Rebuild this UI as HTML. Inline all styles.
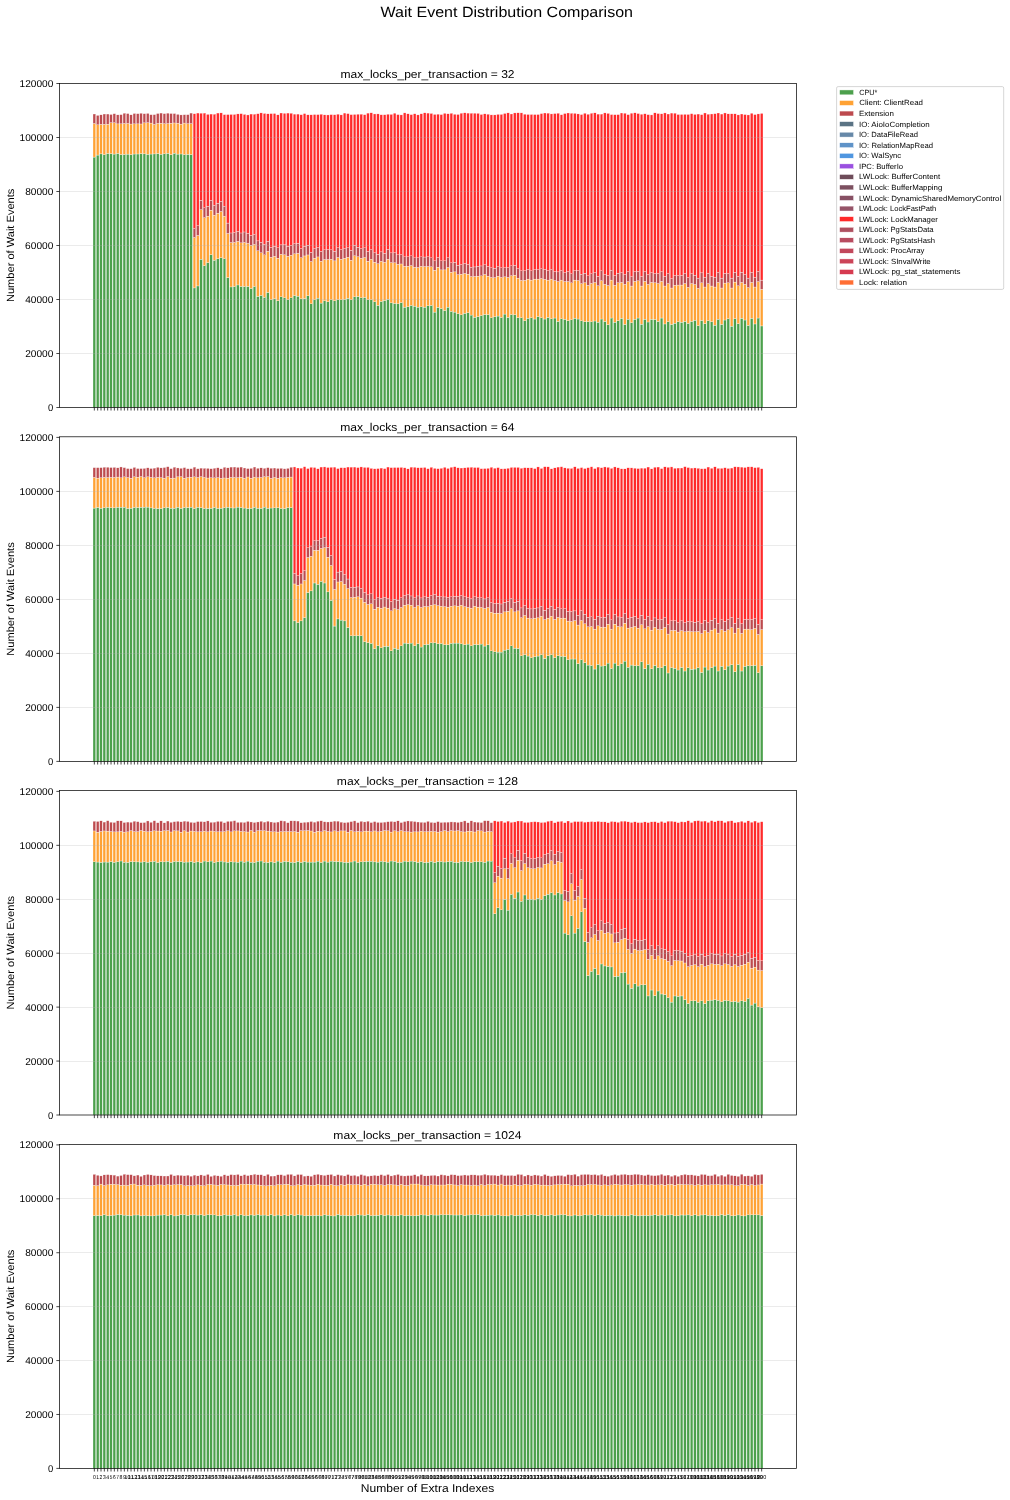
<!DOCTYPE html><html><head><meta charset="utf-8"><style>html,body{margin:0;padding:0;background:#fff;}svg{display:block;will-change:transform;}text{font-family:"Liberation Sans",sans-serif;fill:#000;text-rendering:geometricPrecision;}</style></head><body>
<svg width="1010" height="1500" viewBox="0 0 1010 1500">
<rect x="0" y="0" width="1010" height="1500" fill="#fff"/>
<text x="380.56" y="17.25" font-size="14.82" textLength="252.45" lengthAdjust="spacingAndGlyphs">Wait Event Distribution Comparison</text>
<g stroke="#fff" stroke-width="0.3">
<rect x="93.00" y="157.07" width="2.67" height="250.32" fill="#4ca04c"/>
<rect x="93.00" y="123.46" width="2.67" height="33.62" fill="#ffa234"/>
<rect x="93.00" y="114.01" width="2.67" height="9.45" fill="#bd4a4e"/>
<rect x="96.34" y="155.05" width="2.67" height="252.35" fill="#4ca04c"/>
<rect x="96.34" y="124.81" width="2.67" height="30.24" fill="#ffa234"/>
<rect x="96.34" y="115.36" width="2.67" height="9.45" fill="#bd4a4e"/>
<rect x="99.67" y="153.89" width="2.67" height="253.51" fill="#4ca04c"/>
<rect x="99.67" y="124.34" width="2.67" height="29.55" fill="#ffa234"/>
<rect x="99.67" y="114.83" width="2.67" height="9.51" fill="#bd4a4e"/>
<rect x="103.01" y="154.54" width="2.67" height="252.86" fill="#4ca04c"/>
<rect x="103.01" y="124.25" width="2.67" height="30.30" fill="#ffa234"/>
<rect x="103.01" y="114.02" width="2.67" height="10.23" fill="#bd4a4e"/>
<rect x="106.35" y="153.42" width="2.67" height="253.98" fill="#4ca04c"/>
<rect x="106.35" y="124.19" width="2.67" height="29.23" fill="#ffa234"/>
<rect x="106.35" y="114.04" width="2.67" height="10.15" fill="#bd4a4e"/>
<rect x="109.68" y="153.71" width="2.67" height="253.69" fill="#4ca04c"/>
<rect x="109.68" y="122.74" width="2.67" height="30.97" fill="#ffa234"/>
<rect x="109.68" y="114.47" width="2.67" height="8.27" fill="#bd4a4e"/>
<rect x="113.02" y="154.06" width="2.67" height="253.34" fill="#4ca04c"/>
<rect x="113.02" y="122.69" width="2.67" height="31.36" fill="#ffa234"/>
<rect x="113.02" y="113.71" width="2.67" height="8.98" fill="#bd4a4e"/>
<rect x="116.36" y="153.37" width="2.67" height="254.03" fill="#4ca04c"/>
<rect x="116.36" y="123.90" width="2.67" height="29.47" fill="#ffa234"/>
<rect x="116.36" y="114.85" width="2.67" height="9.04" fill="#bd4a4e"/>
<rect x="119.69" y="154.47" width="2.67" height="252.93" fill="#4ca04c"/>
<rect x="119.69" y="123.86" width="2.67" height="30.61" fill="#ffa234"/>
<rect x="119.69" y="114.64" width="2.67" height="9.22" fill="#bd4a4e"/>
<rect x="123.03" y="154.38" width="2.67" height="253.02" fill="#4ca04c"/>
<rect x="123.03" y="123.38" width="2.67" height="30.99" fill="#ffa234"/>
<rect x="123.03" y="113.19" width="2.67" height="10.19" fill="#bd4a4e"/>
<rect x="126.37" y="154.09" width="2.67" height="253.31" fill="#4ca04c"/>
<rect x="126.37" y="123.44" width="2.67" height="30.65" fill="#ffa234"/>
<rect x="126.37" y="113.57" width="2.67" height="9.87" fill="#bd4a4e"/>
<rect x="129.70" y="154.56" width="2.67" height="252.84" fill="#4ca04c"/>
<rect x="129.70" y="124.04" width="2.67" height="30.51" fill="#ffa234"/>
<rect x="129.70" y="114.82" width="2.67" height="9.22" fill="#bd4a4e"/>
<rect x="133.04" y="154.01" width="2.67" height="253.39" fill="#4ca04c"/>
<rect x="133.04" y="123.85" width="2.67" height="30.16" fill="#ffa234"/>
<rect x="133.04" y="113.49" width="2.67" height="10.37" fill="#bd4a4e"/>
<rect x="136.38" y="153.97" width="2.67" height="253.43" fill="#4ca04c"/>
<rect x="136.38" y="123.88" width="2.67" height="30.09" fill="#ffa234"/>
<rect x="136.38" y="113.69" width="2.67" height="10.19" fill="#bd4a4e"/>
<rect x="139.71" y="153.61" width="2.67" height="253.79" fill="#4ca04c"/>
<rect x="139.71" y="123.98" width="2.67" height="29.63" fill="#ffa234"/>
<rect x="139.71" y="113.24" width="2.67" height="10.74" fill="#bd4a4e"/>
<rect x="143.05" y="153.87" width="2.67" height="253.53" fill="#4ca04c"/>
<rect x="143.05" y="122.87" width="2.67" height="31.00" fill="#ffa234"/>
<rect x="143.05" y="113.71" width="2.67" height="9.15" fill="#bd4a4e"/>
<rect x="146.39" y="154.22" width="2.67" height="253.18" fill="#4ca04c"/>
<rect x="146.39" y="122.68" width="2.67" height="31.53" fill="#ffa234"/>
<rect x="146.39" y="113.38" width="2.67" height="9.31" fill="#bd4a4e"/>
<rect x="149.72" y="154.02" width="2.67" height="253.38" fill="#4ca04c"/>
<rect x="149.72" y="123.08" width="2.67" height="30.95" fill="#ffa234"/>
<rect x="149.72" y="114.70" width="2.67" height="8.38" fill="#bd4a4e"/>
<rect x="153.06" y="153.92" width="2.67" height="253.48" fill="#4ca04c"/>
<rect x="153.06" y="124.34" width="2.67" height="29.58" fill="#ffa234"/>
<rect x="153.06" y="114.63" width="2.67" height="9.71" fill="#bd4a4e"/>
<rect x="156.40" y="153.51" width="2.67" height="253.89" fill="#4ca04c"/>
<rect x="156.40" y="123.40" width="2.67" height="30.11" fill="#ffa234"/>
<rect x="156.40" y="113.51" width="2.67" height="9.89" fill="#bd4a4e"/>
<rect x="159.73" y="154.18" width="2.67" height="253.22" fill="#4ca04c"/>
<rect x="159.73" y="123.18" width="2.67" height="30.99" fill="#ffa234"/>
<rect x="159.73" y="113.06" width="2.67" height="10.12" fill="#bd4a4e"/>
<rect x="163.07" y="153.78" width="2.67" height="253.62" fill="#4ca04c"/>
<rect x="163.07" y="123.60" width="2.67" height="30.18" fill="#ffa234"/>
<rect x="163.07" y="113.67" width="2.67" height="9.93" fill="#bd4a4e"/>
<rect x="166.41" y="153.24" width="2.67" height="254.16" fill="#4ca04c"/>
<rect x="166.41" y="123.57" width="2.67" height="29.67" fill="#ffa234"/>
<rect x="166.41" y="113.14" width="2.67" height="10.43" fill="#bd4a4e"/>
<rect x="169.74" y="154.55" width="2.67" height="252.85" fill="#4ca04c"/>
<rect x="169.74" y="123.17" width="2.67" height="31.38" fill="#ffa234"/>
<rect x="169.74" y="113.52" width="2.67" height="9.65" fill="#bd4a4e"/>
<rect x="173.08" y="153.17" width="2.67" height="254.23" fill="#4ca04c"/>
<rect x="173.08" y="122.96" width="2.67" height="30.21" fill="#ffa234"/>
<rect x="173.08" y="113.56" width="2.67" height="9.41" fill="#bd4a4e"/>
<rect x="176.42" y="154.07" width="2.67" height="253.33" fill="#4ca04c"/>
<rect x="176.42" y="123.23" width="2.67" height="30.84" fill="#ffa234"/>
<rect x="176.42" y="114.34" width="2.67" height="8.89" fill="#bd4a4e"/>
<rect x="179.75" y="153.96" width="2.67" height="253.44" fill="#4ca04c"/>
<rect x="179.75" y="124.11" width="2.67" height="29.85" fill="#ffa234"/>
<rect x="179.75" y="114.91" width="2.67" height="9.20" fill="#bd4a4e"/>
<rect x="183.09" y="154.56" width="2.67" height="252.84" fill="#4ca04c"/>
<rect x="183.09" y="123.06" width="2.67" height="31.50" fill="#ffa234"/>
<rect x="183.09" y="114.70" width="2.67" height="8.35" fill="#bd4a4e"/>
<rect x="186.43" y="154.28" width="2.67" height="253.12" fill="#4ca04c"/>
<rect x="186.43" y="123.72" width="2.67" height="30.56" fill="#ffa234"/>
<rect x="186.43" y="114.68" width="2.67" height="9.04" fill="#bd4a4e"/>
<rect x="189.76" y="154.53" width="2.67" height="252.87" fill="#4ca04c"/>
<rect x="189.76" y="123.62" width="2.67" height="30.91" fill="#ffa234"/>
<rect x="189.76" y="113.07" width="2.67" height="10.54" fill="#bd4a4e"/>
<rect x="193.10" y="287.92" width="2.67" height="119.48" fill="#4ca04c"/>
<rect x="193.10" y="237.43" width="2.67" height="50.50" fill="#ffa234"/>
<rect x="193.10" y="228.51" width="2.67" height="8.91" fill="#bd4a4e"/>
<rect x="193.10" y="113.77" width="2.67" height="114.75" fill="#ff2a2a"/>
<rect x="196.44" y="285.94" width="2.67" height="121.46" fill="#4ca04c"/>
<rect x="196.44" y="235.45" width="2.67" height="50.50" fill="#ffa234"/>
<rect x="196.44" y="225.74" width="2.67" height="9.70" fill="#bd4a4e"/>
<rect x="196.44" y="113.05" width="2.67" height="112.70" fill="#ff2a2a"/>
<rect x="199.77" y="259.21" width="2.67" height="148.19" fill="#4ca04c"/>
<rect x="199.77" y="209.70" width="2.67" height="49.50" fill="#ffa234"/>
<rect x="199.77" y="200.30" width="2.67" height="9.41" fill="#bd4a4e"/>
<rect x="199.77" y="113.19" width="2.67" height="87.11" fill="#ff2a2a"/>
<rect x="203.11" y="265.64" width="2.67" height="141.76" fill="#4ca04c"/>
<rect x="203.11" y="217.62" width="2.67" height="48.02" fill="#ffa234"/>
<rect x="203.11" y="207.72" width="2.67" height="9.90" fill="#bd4a4e"/>
<rect x="203.11" y="113.09" width="2.67" height="94.63" fill="#ff2a2a"/>
<rect x="206.45" y="262.67" width="2.67" height="144.73" fill="#4ca04c"/>
<rect x="206.45" y="216.14" width="2.67" height="46.53" fill="#ffa234"/>
<rect x="206.45" y="206.24" width="2.67" height="9.90" fill="#bd4a4e"/>
<rect x="206.45" y="114.35" width="2.67" height="91.88" fill="#ff2a2a"/>
<rect x="209.78" y="254.75" width="2.67" height="152.65" fill="#4ca04c"/>
<rect x="209.78" y="210.20" width="2.67" height="44.55" fill="#ffa234"/>
<rect x="209.78" y="200.30" width="2.67" height="9.90" fill="#bd4a4e"/>
<rect x="209.78" y="114.06" width="2.67" height="86.24" fill="#ff2a2a"/>
<rect x="213.12" y="260.20" width="2.67" height="147.20" fill="#4ca04c"/>
<rect x="213.12" y="215.15" width="2.67" height="45.05" fill="#ffa234"/>
<rect x="213.12" y="205.25" width="2.67" height="9.90" fill="#bd4a4e"/>
<rect x="213.12" y="114.18" width="2.67" height="91.07" fill="#ff2a2a"/>
<rect x="216.46" y="258.71" width="2.67" height="148.69" fill="#4ca04c"/>
<rect x="216.46" y="213.17" width="2.67" height="45.54" fill="#ffa234"/>
<rect x="216.46" y="203.27" width="2.67" height="9.90" fill="#bd4a4e"/>
<rect x="216.46" y="113.05" width="2.67" height="90.22" fill="#ff2a2a"/>
<rect x="219.79" y="257.72" width="2.67" height="149.68" fill="#4ca04c"/>
<rect x="219.79" y="211.49" width="2.67" height="46.24" fill="#ffa234"/>
<rect x="219.79" y="201.29" width="2.67" height="10.20" fill="#bd4a4e"/>
<rect x="219.79" y="112.89" width="2.67" height="88.40" fill="#ff2a2a"/>
<rect x="223.13" y="258.71" width="2.67" height="148.69" fill="#4ca04c"/>
<rect x="223.13" y="216.14" width="2.67" height="42.57" fill="#ffa234"/>
<rect x="223.13" y="206.24" width="2.67" height="9.90" fill="#bd4a4e"/>
<rect x="223.13" y="114.63" width="2.67" height="91.61" fill="#ff2a2a"/>
<rect x="226.47" y="277.52" width="2.67" height="129.88" fill="#4ca04c"/>
<rect x="226.47" y="233.47" width="2.67" height="44.06" fill="#ffa234"/>
<rect x="226.47" y="223.07" width="2.67" height="10.40" fill="#bd4a4e"/>
<rect x="226.47" y="114.57" width="2.67" height="108.49" fill="#ff2a2a"/>
<rect x="229.80" y="286.93" width="2.67" height="120.47" fill="#4ca04c"/>
<rect x="229.80" y="242.57" width="2.67" height="44.36" fill="#ffa234"/>
<rect x="229.80" y="232.97" width="2.67" height="9.60" fill="#bd4a4e"/>
<rect x="229.80" y="114.45" width="2.67" height="118.52" fill="#ff2a2a"/>
<rect x="233.14" y="286.44" width="2.67" height="120.96" fill="#4ca04c"/>
<rect x="233.14" y="242.38" width="2.67" height="44.06" fill="#ffa234"/>
<rect x="233.14" y="232.48" width="2.67" height="9.90" fill="#bd4a4e"/>
<rect x="233.14" y="114.45" width="2.67" height="118.02" fill="#ff2a2a"/>
<rect x="236.48" y="284.95" width="2.67" height="122.45" fill="#4ca04c"/>
<rect x="236.48" y="241.39" width="2.67" height="43.56" fill="#ffa234"/>
<rect x="236.48" y="231.49" width="2.67" height="9.90" fill="#bd4a4e"/>
<rect x="236.48" y="113.91" width="2.67" height="117.58" fill="#ff2a2a"/>
<rect x="239.81" y="286.44" width="2.67" height="120.96" fill="#4ca04c"/>
<rect x="239.81" y="242.87" width="2.67" height="43.56" fill="#ffa234"/>
<rect x="239.81" y="232.97" width="2.67" height="9.90" fill="#bd4a4e"/>
<rect x="239.81" y="113.68" width="2.67" height="119.29" fill="#ff2a2a"/>
<rect x="243.15" y="286.44" width="2.67" height="120.96" fill="#4ca04c"/>
<rect x="243.15" y="242.38" width="2.67" height="44.06" fill="#ffa234"/>
<rect x="243.15" y="231.98" width="2.67" height="10.40" fill="#bd4a4e"/>
<rect x="243.15" y="114.39" width="2.67" height="117.59" fill="#ff2a2a"/>
<rect x="246.49" y="286.44" width="2.67" height="120.96" fill="#4ca04c"/>
<rect x="246.49" y="243.37" width="2.67" height="43.07" fill="#ffa234"/>
<rect x="246.49" y="233.47" width="2.67" height="9.90" fill="#bd4a4e"/>
<rect x="246.49" y="114.95" width="2.67" height="118.52" fill="#ff2a2a"/>
<rect x="249.82" y="288.42" width="2.67" height="118.98" fill="#4ca04c"/>
<rect x="249.82" y="245.35" width="2.67" height="43.07" fill="#ffa234"/>
<rect x="249.82" y="235.45" width="2.67" height="9.90" fill="#bd4a4e"/>
<rect x="249.82" y="114.05" width="2.67" height="121.40" fill="#ff2a2a"/>
<rect x="253.16" y="286.44" width="2.67" height="120.96" fill="#4ca04c"/>
<rect x="253.16" y="244.36" width="2.67" height="42.08" fill="#ffa234"/>
<rect x="253.16" y="234.46" width="2.67" height="9.90" fill="#bd4a4e"/>
<rect x="253.16" y="114.16" width="2.67" height="120.30" fill="#ff2a2a"/>
<rect x="256.50" y="296.34" width="2.67" height="111.06" fill="#4ca04c"/>
<rect x="256.50" y="250.79" width="2.67" height="45.54" fill="#ffa234"/>
<rect x="256.50" y="240.89" width="2.67" height="9.90" fill="#bd4a4e"/>
<rect x="256.50" y="113.73" width="2.67" height="127.16" fill="#ff2a2a"/>
<rect x="259.83" y="295.35" width="2.67" height="112.05" fill="#4ca04c"/>
<rect x="259.83" y="252.77" width="2.67" height="42.57" fill="#ffa234"/>
<rect x="259.83" y="242.38" width="2.67" height="10.40" fill="#bd4a4e"/>
<rect x="259.83" y="112.90" width="2.67" height="129.48" fill="#ff2a2a"/>
<rect x="263.17" y="297.33" width="2.67" height="110.07" fill="#4ca04c"/>
<rect x="263.17" y="254.75" width="2.67" height="42.57" fill="#ffa234"/>
<rect x="263.17" y="244.36" width="2.67" height="10.40" fill="#bd4a4e"/>
<rect x="263.17" y="113.46" width="2.67" height="130.89" fill="#ff2a2a"/>
<rect x="266.51" y="292.38" width="2.67" height="115.02" fill="#4ca04c"/>
<rect x="266.51" y="251.29" width="2.67" height="41.09" fill="#ffa234"/>
<rect x="266.51" y="241.39" width="2.67" height="9.90" fill="#bd4a4e"/>
<rect x="266.51" y="113.84" width="2.67" height="127.54" fill="#ff2a2a"/>
<rect x="269.84" y="299.73" width="2.67" height="107.67" fill="#4ca04c"/>
<rect x="269.84" y="257.23" width="2.67" height="42.50" fill="#ffa234"/>
<rect x="269.84" y="247.33" width="2.67" height="9.90" fill="#bd4a4e"/>
<rect x="269.84" y="113.62" width="2.67" height="133.71" fill="#ff2a2a"/>
<rect x="273.18" y="298.74" width="2.67" height="108.66" fill="#4ca04c"/>
<rect x="273.18" y="256.24" width="2.67" height="42.50" fill="#ffa234"/>
<rect x="273.18" y="246.34" width="2.67" height="9.90" fill="#bd4a4e"/>
<rect x="273.18" y="113.49" width="2.67" height="132.84" fill="#ff2a2a"/>
<rect x="276.52" y="300.72" width="2.67" height="106.68" fill="#4ca04c"/>
<rect x="276.52" y="258.22" width="2.67" height="42.50" fill="#ffa234"/>
<rect x="276.52" y="247.82" width="2.67" height="10.40" fill="#bd4a4e"/>
<rect x="276.52" y="114.84" width="2.67" height="132.98" fill="#ff2a2a"/>
<rect x="279.85" y="296.83" width="2.67" height="110.57" fill="#4ca04c"/>
<rect x="279.85" y="254.26" width="2.67" height="42.57" fill="#ffa234"/>
<rect x="279.85" y="244.85" width="2.67" height="9.41" fill="#bd4a4e"/>
<rect x="279.85" y="113.01" width="2.67" height="131.84" fill="#ff2a2a"/>
<rect x="283.19" y="297.82" width="2.67" height="109.58" fill="#4ca04c"/>
<rect x="283.19" y="254.75" width="2.67" height="43.07" fill="#ffa234"/>
<rect x="283.19" y="244.85" width="2.67" height="9.90" fill="#bd4a4e"/>
<rect x="283.19" y="113.27" width="2.67" height="131.58" fill="#ff2a2a"/>
<rect x="286.53" y="299.80" width="2.67" height="107.60" fill="#4ca04c"/>
<rect x="286.53" y="256.24" width="2.67" height="43.56" fill="#ffa234"/>
<rect x="286.53" y="246.34" width="2.67" height="9.90" fill="#bd4a4e"/>
<rect x="286.53" y="113.07" width="2.67" height="133.27" fill="#ff2a2a"/>
<rect x="289.86" y="297.82" width="2.67" height="109.58" fill="#4ca04c"/>
<rect x="289.86" y="255.25" width="2.67" height="42.57" fill="#ffa234"/>
<rect x="289.86" y="245.64" width="2.67" height="9.60" fill="#bd4a4e"/>
<rect x="289.86" y="113.23" width="2.67" height="132.41" fill="#ff2a2a"/>
<rect x="293.20" y="295.54" width="2.67" height="111.86" fill="#4ca04c"/>
<rect x="293.20" y="253.76" width="2.67" height="41.78" fill="#ffa234"/>
<rect x="293.20" y="243.66" width="2.67" height="10.10" fill="#bd4a4e"/>
<rect x="293.20" y="114.11" width="2.67" height="129.56" fill="#ff2a2a"/>
<rect x="296.54" y="296.14" width="2.67" height="111.26" fill="#4ca04c"/>
<rect x="296.54" y="253.27" width="2.67" height="42.87" fill="#ffa234"/>
<rect x="296.54" y="243.37" width="2.67" height="9.90" fill="#bd4a4e"/>
<rect x="296.54" y="114.09" width="2.67" height="129.27" fill="#ff2a2a"/>
<rect x="299.87" y="298.81" width="2.67" height="108.59" fill="#4ca04c"/>
<rect x="299.87" y="257.72" width="2.67" height="41.09" fill="#ffa234"/>
<rect x="299.87" y="248.61" width="2.67" height="9.11" fill="#bd4a4e"/>
<rect x="299.87" y="114.73" width="2.67" height="133.88" fill="#ff2a2a"/>
<rect x="303.21" y="298.51" width="2.67" height="108.89" fill="#4ca04c"/>
<rect x="303.21" y="255.94" width="2.67" height="42.57" fill="#ffa234"/>
<rect x="303.21" y="246.34" width="2.67" height="9.60" fill="#bd4a4e"/>
<rect x="303.21" y="113.58" width="2.67" height="132.75" fill="#ff2a2a"/>
<rect x="306.55" y="295.84" width="2.67" height="111.56" fill="#4ca04c"/>
<rect x="306.55" y="254.95" width="2.67" height="40.89" fill="#ffa234"/>
<rect x="306.55" y="245.35" width="2.67" height="9.60" fill="#bd4a4e"/>
<rect x="306.55" y="114.82" width="2.67" height="130.53" fill="#ff2a2a"/>
<rect x="309.88" y="303.76" width="2.67" height="103.64" fill="#4ca04c"/>
<rect x="309.88" y="261.49" width="2.67" height="42.28" fill="#ffa234"/>
<rect x="309.88" y="252.28" width="2.67" height="9.21" fill="#bd4a4e"/>
<rect x="309.88" y="114.81" width="2.67" height="137.47" fill="#ff2a2a"/>
<rect x="313.22" y="299.80" width="2.67" height="107.60" fill="#4ca04c"/>
<rect x="313.22" y="258.22" width="2.67" height="41.58" fill="#ffa234"/>
<rect x="313.22" y="248.61" width="2.67" height="9.60" fill="#bd4a4e"/>
<rect x="313.22" y="114.50" width="2.67" height="134.11" fill="#ff2a2a"/>
<rect x="316.56" y="298.12" width="2.67" height="109.28" fill="#4ca04c"/>
<rect x="316.56" y="256.93" width="2.67" height="41.19" fill="#ffa234"/>
<rect x="316.56" y="247.62" width="2.67" height="9.31" fill="#bd4a4e"/>
<rect x="316.56" y="114.60" width="2.67" height="133.02" fill="#ff2a2a"/>
<rect x="319.89" y="303.07" width="2.67" height="104.33" fill="#4ca04c"/>
<rect x="319.89" y="261.19" width="2.67" height="41.88" fill="#ffa234"/>
<rect x="319.89" y="251.29" width="2.67" height="9.90" fill="#bd4a4e"/>
<rect x="319.89" y="114.22" width="2.67" height="137.07" fill="#ff2a2a"/>
<rect x="323.23" y="300.79" width="2.67" height="106.61" fill="#4ca04c"/>
<rect x="323.23" y="259.50" width="2.67" height="41.29" fill="#ffa234"/>
<rect x="323.23" y="249.80" width="2.67" height="9.70" fill="#bd4a4e"/>
<rect x="323.23" y="114.84" width="2.67" height="134.96" fill="#ff2a2a"/>
<rect x="326.57" y="301.78" width="2.67" height="105.62" fill="#4ca04c"/>
<rect x="326.57" y="259.50" width="2.67" height="42.28" fill="#ffa234"/>
<rect x="326.57" y="249.60" width="2.67" height="9.90" fill="#bd4a4e"/>
<rect x="326.57" y="114.95" width="2.67" height="134.65" fill="#ff2a2a"/>
<rect x="329.90" y="299.80" width="2.67" height="107.60" fill="#4ca04c"/>
<rect x="329.90" y="259.21" width="2.67" height="40.59" fill="#ffa234"/>
<rect x="329.90" y="249.80" width="2.67" height="9.41" fill="#bd4a4e"/>
<rect x="329.90" y="114.63" width="2.67" height="135.17" fill="#ff2a2a"/>
<rect x="333.24" y="300.79" width="2.67" height="106.61" fill="#4ca04c"/>
<rect x="333.24" y="260.89" width="2.67" height="39.90" fill="#ffa234"/>
<rect x="333.24" y="251.29" width="2.67" height="9.60" fill="#bd4a4e"/>
<rect x="333.24" y="114.74" width="2.67" height="136.55" fill="#ff2a2a"/>
<rect x="336.58" y="299.80" width="2.67" height="107.60" fill="#4ca04c"/>
<rect x="336.58" y="257.52" width="2.67" height="42.28" fill="#ffa234"/>
<rect x="336.58" y="247.82" width="2.67" height="9.70" fill="#bd4a4e"/>
<rect x="336.58" y="114.17" width="2.67" height="133.65" fill="#ff2a2a"/>
<rect x="339.91" y="299.80" width="2.67" height="107.60" fill="#4ca04c"/>
<rect x="339.91" y="259.21" width="2.67" height="40.59" fill="#ffa234"/>
<rect x="339.91" y="249.60" width="2.67" height="9.60" fill="#bd4a4e"/>
<rect x="339.91" y="114.90" width="2.67" height="134.70" fill="#ff2a2a"/>
<rect x="343.25" y="299.31" width="2.67" height="108.09" fill="#4ca04c"/>
<rect x="343.25" y="258.22" width="2.67" height="41.09" fill="#ffa234"/>
<rect x="343.25" y="248.61" width="2.67" height="9.60" fill="#bd4a4e"/>
<rect x="343.25" y="113.07" width="2.67" height="135.55" fill="#ff2a2a"/>
<rect x="346.59" y="298.32" width="2.67" height="109.08" fill="#4ca04c"/>
<rect x="346.59" y="257.23" width="2.67" height="41.09" fill="#ffa234"/>
<rect x="346.59" y="247.82" width="2.67" height="9.41" fill="#bd4a4e"/>
<rect x="346.59" y="113.63" width="2.67" height="134.19" fill="#ff2a2a"/>
<rect x="349.92" y="299.80" width="2.67" height="107.60" fill="#4ca04c"/>
<rect x="349.92" y="260.20" width="2.67" height="39.60" fill="#ffa234"/>
<rect x="349.92" y="250.30" width="2.67" height="9.90" fill="#bd4a4e"/>
<rect x="349.92" y="114.63" width="2.67" height="135.66" fill="#ff2a2a"/>
<rect x="353.26" y="296.83" width="2.67" height="110.57" fill="#4ca04c"/>
<rect x="353.26" y="255.74" width="2.67" height="41.09" fill="#ffa234"/>
<rect x="353.26" y="245.35" width="2.67" height="10.40" fill="#bd4a4e"/>
<rect x="353.26" y="114.41" width="2.67" height="130.94" fill="#ff2a2a"/>
<rect x="356.60" y="296.53" width="2.67" height="110.87" fill="#4ca04c"/>
<rect x="356.60" y="256.73" width="2.67" height="39.80" fill="#ffa234"/>
<rect x="356.60" y="247.33" width="2.67" height="9.41" fill="#bd4a4e"/>
<rect x="356.60" y="114.20" width="2.67" height="133.12" fill="#ff2a2a"/>
<rect x="359.93" y="297.82" width="2.67" height="109.58" fill="#4ca04c"/>
<rect x="359.93" y="258.22" width="2.67" height="39.60" fill="#ffa234"/>
<rect x="359.93" y="248.61" width="2.67" height="9.60" fill="#bd4a4e"/>
<rect x="359.93" y="114.17" width="2.67" height="134.45" fill="#ff2a2a"/>
<rect x="363.27" y="297.33" width="2.67" height="110.07" fill="#4ca04c"/>
<rect x="363.27" y="257.52" width="2.67" height="39.80" fill="#ffa234"/>
<rect x="363.27" y="247.82" width="2.67" height="9.70" fill="#bd4a4e"/>
<rect x="363.27" y="114.69" width="2.67" height="133.13" fill="#ff2a2a"/>
<rect x="366.61" y="299.80" width="2.67" height="107.60" fill="#4ca04c"/>
<rect x="366.61" y="261.19" width="2.67" height="38.61" fill="#ffa234"/>
<rect x="366.61" y="251.58" width="2.67" height="9.60" fill="#bd4a4e"/>
<rect x="366.61" y="113.12" width="2.67" height="138.46" fill="#ff2a2a"/>
<rect x="369.94" y="299.80" width="2.67" height="107.60" fill="#4ca04c"/>
<rect x="369.94" y="259.21" width="2.67" height="40.59" fill="#ffa234"/>
<rect x="369.94" y="249.60" width="2.67" height="9.60" fill="#bd4a4e"/>
<rect x="369.94" y="112.81" width="2.67" height="136.79" fill="#ff2a2a"/>
<rect x="373.28" y="301.78" width="2.67" height="105.62" fill="#4ca04c"/>
<rect x="373.28" y="262.18" width="2.67" height="39.60" fill="#ffa234"/>
<rect x="373.28" y="252.77" width="2.67" height="9.41" fill="#bd4a4e"/>
<rect x="373.28" y="113.95" width="2.67" height="138.82" fill="#ff2a2a"/>
<rect x="376.62" y="305.35" width="2.67" height="102.05" fill="#4ca04c"/>
<rect x="376.62" y="263.76" width="2.67" height="41.58" fill="#ffa234"/>
<rect x="376.62" y="254.36" width="2.67" height="9.41" fill="#bd4a4e"/>
<rect x="376.62" y="113.91" width="2.67" height="140.45" fill="#ff2a2a"/>
<rect x="379.95" y="301.39" width="2.67" height="106.01" fill="#4ca04c"/>
<rect x="379.95" y="261.29" width="2.67" height="40.10" fill="#ffa234"/>
<rect x="379.95" y="251.88" width="2.67" height="9.41" fill="#bd4a4e"/>
<rect x="379.95" y="114.77" width="2.67" height="137.11" fill="#ff2a2a"/>
<rect x="383.29" y="300.40" width="2.67" height="107.00" fill="#4ca04c"/>
<rect x="383.29" y="262.28" width="2.67" height="38.12" fill="#ffa234"/>
<rect x="383.29" y="253.37" width="2.67" height="8.91" fill="#bd4a4e"/>
<rect x="383.29" y="114.73" width="2.67" height="138.63" fill="#ff2a2a"/>
<rect x="386.63" y="299.21" width="2.67" height="108.19" fill="#4ca04c"/>
<rect x="386.63" y="259.31" width="2.67" height="39.90" fill="#ffa234"/>
<rect x="386.63" y="249.41" width="2.67" height="9.90" fill="#bd4a4e"/>
<rect x="386.63" y="114.21" width="2.67" height="135.19" fill="#ff2a2a"/>
<rect x="389.96" y="302.87" width="2.67" height="104.53" fill="#4ca04c"/>
<rect x="389.96" y="262.57" width="2.67" height="40.30" fill="#ffa234"/>
<rect x="389.96" y="252.87" width="2.67" height="9.70" fill="#bd4a4e"/>
<rect x="389.96" y="114.38" width="2.67" height="138.49" fill="#ff2a2a"/>
<rect x="393.30" y="303.37" width="2.67" height="104.03" fill="#4ca04c"/>
<rect x="393.30" y="262.77" width="2.67" height="40.59" fill="#ffa234"/>
<rect x="393.30" y="252.67" width="2.67" height="10.10" fill="#bd4a4e"/>
<rect x="393.30" y="113.16" width="2.67" height="139.51" fill="#ff2a2a"/>
<rect x="396.64" y="303.86" width="2.67" height="103.54" fill="#4ca04c"/>
<rect x="396.64" y="264.26" width="2.67" height="39.60" fill="#ffa234"/>
<rect x="396.64" y="254.85" width="2.67" height="9.41" fill="#bd4a4e"/>
<rect x="396.64" y="114.61" width="2.67" height="140.25" fill="#ff2a2a"/>
<rect x="399.97" y="302.57" width="2.67" height="104.83" fill="#4ca04c"/>
<rect x="399.97" y="263.96" width="2.67" height="38.61" fill="#ffa234"/>
<rect x="399.97" y="254.65" width="2.67" height="9.31" fill="#bd4a4e"/>
<rect x="399.97" y="114.91" width="2.67" height="139.75" fill="#ff2a2a"/>
<rect x="403.31" y="307.13" width="2.67" height="100.27" fill="#4ca04c"/>
<rect x="403.31" y="266.24" width="2.67" height="40.89" fill="#ffa234"/>
<rect x="403.31" y="256.83" width="2.67" height="9.41" fill="#bd4a4e"/>
<rect x="403.31" y="112.90" width="2.67" height="143.93" fill="#ff2a2a"/>
<rect x="406.65" y="306.83" width="2.67" height="100.57" fill="#4ca04c"/>
<rect x="406.65" y="266.24" width="2.67" height="40.59" fill="#ffa234"/>
<rect x="406.65" y="256.83" width="2.67" height="9.41" fill="#bd4a4e"/>
<rect x="406.65" y="113.81" width="2.67" height="143.02" fill="#ff2a2a"/>
<rect x="409.98" y="305.35" width="2.67" height="102.05" fill="#4ca04c"/>
<rect x="409.98" y="265.54" width="2.67" height="39.80" fill="#ffa234"/>
<rect x="409.98" y="255.84" width="2.67" height="9.70" fill="#bd4a4e"/>
<rect x="409.98" y="114.64" width="2.67" height="141.20" fill="#ff2a2a"/>
<rect x="413.32" y="306.14" width="2.67" height="101.26" fill="#4ca04c"/>
<rect x="413.32" y="267.23" width="2.67" height="38.91" fill="#ffa234"/>
<rect x="413.32" y="257.82" width="2.67" height="9.41" fill="#bd4a4e"/>
<rect x="413.32" y="113.78" width="2.67" height="144.04" fill="#ff2a2a"/>
<rect x="416.66" y="307.13" width="2.67" height="100.27" fill="#4ca04c"/>
<rect x="416.66" y="267.52" width="2.67" height="39.60" fill="#ffa234"/>
<rect x="416.66" y="257.82" width="2.67" height="9.70" fill="#bd4a4e"/>
<rect x="416.66" y="114.90" width="2.67" height="142.93" fill="#ff2a2a"/>
<rect x="419.99" y="306.83" width="2.67" height="100.57" fill="#4ca04c"/>
<rect x="419.99" y="266.24" width="2.67" height="40.59" fill="#ffa234"/>
<rect x="419.99" y="256.83" width="2.67" height="9.41" fill="#bd4a4e"/>
<rect x="419.99" y="113.81" width="2.67" height="143.02" fill="#ff2a2a"/>
<rect x="423.33" y="307.13" width="2.67" height="100.27" fill="#4ca04c"/>
<rect x="423.33" y="266.53" width="2.67" height="40.59" fill="#ffa234"/>
<rect x="423.33" y="257.03" width="2.67" height="9.50" fill="#bd4a4e"/>
<rect x="423.33" y="112.84" width="2.67" height="144.19" fill="#ff2a2a"/>
<rect x="426.67" y="305.84" width="2.67" height="101.56" fill="#4ca04c"/>
<rect x="426.67" y="266.53" width="2.67" height="39.31" fill="#ffa234"/>
<rect x="426.67" y="256.83" width="2.67" height="9.70" fill="#bd4a4e"/>
<rect x="426.67" y="113.09" width="2.67" height="143.74" fill="#ff2a2a"/>
<rect x="430.00" y="305.35" width="2.67" height="102.05" fill="#4ca04c"/>
<rect x="430.00" y="266.73" width="2.67" height="38.61" fill="#ffa234"/>
<rect x="430.00" y="257.82" width="2.67" height="8.91" fill="#bd4a4e"/>
<rect x="430.00" y="113.45" width="2.67" height="144.37" fill="#ff2a2a"/>
<rect x="433.34" y="312.08" width="2.67" height="95.32" fill="#4ca04c"/>
<rect x="433.34" y="270.20" width="2.67" height="41.88" fill="#ffa234"/>
<rect x="433.34" y="260.79" width="2.67" height="9.41" fill="#bd4a4e"/>
<rect x="433.34" y="114.39" width="2.67" height="146.40" fill="#ff2a2a"/>
<rect x="436.68" y="307.33" width="2.67" height="100.07" fill="#4ca04c"/>
<rect x="436.68" y="267.23" width="2.67" height="40.10" fill="#ffa234"/>
<rect x="436.68" y="257.62" width="2.67" height="9.60" fill="#bd4a4e"/>
<rect x="436.68" y="114.16" width="2.67" height="143.46" fill="#ff2a2a"/>
<rect x="440.01" y="308.51" width="2.67" height="98.89" fill="#4ca04c"/>
<rect x="440.01" y="269.90" width="2.67" height="38.61" fill="#ffa234"/>
<rect x="440.01" y="260.79" width="2.67" height="9.11" fill="#bd4a4e"/>
<rect x="440.01" y="114.59" width="2.67" height="146.20" fill="#ff2a2a"/>
<rect x="443.35" y="310.50" width="2.67" height="96.90" fill="#4ca04c"/>
<rect x="443.35" y="269.90" width="2.67" height="40.59" fill="#ffa234"/>
<rect x="443.35" y="260.79" width="2.67" height="9.11" fill="#bd4a4e"/>
<rect x="443.35" y="113.29" width="2.67" height="147.50" fill="#ff2a2a"/>
<rect x="446.69" y="307.13" width="2.67" height="100.27" fill="#4ca04c"/>
<rect x="446.69" y="267.52" width="2.67" height="39.60" fill="#ffa234"/>
<rect x="446.69" y="257.82" width="2.67" height="9.70" fill="#bd4a4e"/>
<rect x="446.69" y="113.80" width="2.67" height="144.02" fill="#ff2a2a"/>
<rect x="450.02" y="311.29" width="2.67" height="96.11" fill="#4ca04c"/>
<rect x="450.02" y="272.18" width="2.67" height="39.11" fill="#ffa234"/>
<rect x="450.02" y="262.77" width="2.67" height="9.41" fill="#bd4a4e"/>
<rect x="450.02" y="113.27" width="2.67" height="149.50" fill="#ff2a2a"/>
<rect x="453.36" y="312.08" width="2.67" height="95.32" fill="#4ca04c"/>
<rect x="453.36" y="271.88" width="2.67" height="40.20" fill="#ffa234"/>
<rect x="453.36" y="262.28" width="2.67" height="9.60" fill="#bd4a4e"/>
<rect x="453.36" y="114.24" width="2.67" height="148.03" fill="#ff2a2a"/>
<rect x="456.70" y="313.76" width="2.67" height="93.64" fill="#4ca04c"/>
<rect x="456.70" y="274.65" width="2.67" height="39.11" fill="#ffa234"/>
<rect x="456.70" y="265.25" width="2.67" height="9.41" fill="#bd4a4e"/>
<rect x="456.70" y="114.47" width="2.67" height="150.77" fill="#ff2a2a"/>
<rect x="460.03" y="314.75" width="2.67" height="92.65" fill="#4ca04c"/>
<rect x="460.03" y="274.16" width="2.67" height="40.59" fill="#ffa234"/>
<rect x="460.03" y="264.55" width="2.67" height="9.60" fill="#bd4a4e"/>
<rect x="460.03" y="113.20" width="2.67" height="151.35" fill="#ff2a2a"/>
<rect x="463.37" y="313.27" width="2.67" height="94.13" fill="#4ca04c"/>
<rect x="463.37" y="273.47" width="2.67" height="39.80" fill="#ffa234"/>
<rect x="463.37" y="263.56" width="2.67" height="9.90" fill="#bd4a4e"/>
<rect x="463.37" y="112.83" width="2.67" height="150.74" fill="#ff2a2a"/>
<rect x="466.71" y="312.77" width="2.67" height="94.63" fill="#4ca04c"/>
<rect x="466.71" y="274.16" width="2.67" height="38.61" fill="#ffa234"/>
<rect x="466.71" y="264.55" width="2.67" height="9.60" fill="#bd4a4e"/>
<rect x="466.71" y="113.11" width="2.67" height="151.44" fill="#ff2a2a"/>
<rect x="470.04" y="315.05" width="2.67" height="92.35" fill="#4ca04c"/>
<rect x="470.04" y="276.44" width="2.67" height="38.61" fill="#ffa234"/>
<rect x="470.04" y="267.23" width="2.67" height="9.21" fill="#bd4a4e"/>
<rect x="470.04" y="113.21" width="2.67" height="154.01" fill="#ff2a2a"/>
<rect x="473.38" y="317.23" width="2.67" height="90.17" fill="#4ca04c"/>
<rect x="473.38" y="276.44" width="2.67" height="40.79" fill="#ffa234"/>
<rect x="473.38" y="266.93" width="2.67" height="9.50" fill="#bd4a4e"/>
<rect x="473.38" y="113.19" width="2.67" height="153.74" fill="#ff2a2a"/>
<rect x="476.72" y="316.73" width="2.67" height="90.67" fill="#4ca04c"/>
<rect x="476.72" y="276.14" width="2.67" height="40.59" fill="#ffa234"/>
<rect x="476.72" y="266.24" width="2.67" height="9.90" fill="#bd4a4e"/>
<rect x="476.72" y="113.36" width="2.67" height="152.88" fill="#ff2a2a"/>
<rect x="480.05" y="315.45" width="2.67" height="91.95" fill="#4ca04c"/>
<rect x="480.05" y="275.84" width="2.67" height="39.60" fill="#ffa234"/>
<rect x="480.05" y="265.94" width="2.67" height="9.90" fill="#bd4a4e"/>
<rect x="480.05" y="114.47" width="2.67" height="151.48" fill="#ff2a2a"/>
<rect x="483.39" y="314.46" width="2.67" height="92.94" fill="#4ca04c"/>
<rect x="483.39" y="274.46" width="2.67" height="40.00" fill="#ffa234"/>
<rect x="483.39" y="264.75" width="2.67" height="9.70" fill="#bd4a4e"/>
<rect x="483.39" y="113.84" width="2.67" height="150.92" fill="#ff2a2a"/>
<rect x="486.73" y="314.75" width="2.67" height="92.65" fill="#4ca04c"/>
<rect x="486.73" y="276.14" width="2.67" height="38.61" fill="#ffa234"/>
<rect x="486.73" y="266.53" width="2.67" height="9.60" fill="#bd4a4e"/>
<rect x="486.73" y="114.19" width="2.67" height="152.35" fill="#ff2a2a"/>
<rect x="490.06" y="317.72" width="2.67" height="89.68" fill="#4ca04c"/>
<rect x="490.06" y="277.43" width="2.67" height="40.30" fill="#ffa234"/>
<rect x="490.06" y="267.72" width="2.67" height="9.70" fill="#bd4a4e"/>
<rect x="490.06" y="114.89" width="2.67" height="152.83" fill="#ff2a2a"/>
<rect x="493.40" y="316.73" width="2.67" height="90.67" fill="#4ca04c"/>
<rect x="493.40" y="277.62" width="2.67" height="39.11" fill="#ffa234"/>
<rect x="493.40" y="268.22" width="2.67" height="9.41" fill="#bd4a4e"/>
<rect x="493.40" y="114.89" width="2.67" height="153.32" fill="#ff2a2a"/>
<rect x="496.74" y="316.04" width="2.67" height="91.36" fill="#4ca04c"/>
<rect x="496.74" y="276.14" width="2.67" height="39.90" fill="#ffa234"/>
<rect x="496.74" y="266.73" width="2.67" height="9.41" fill="#bd4a4e"/>
<rect x="496.74" y="114.35" width="2.67" height="152.38" fill="#ff2a2a"/>
<rect x="500.07" y="317.43" width="2.67" height="89.97" fill="#4ca04c"/>
<rect x="500.07" y="277.43" width="2.67" height="40.00" fill="#ffa234"/>
<rect x="500.07" y="267.72" width="2.67" height="9.70" fill="#bd4a4e"/>
<rect x="500.07" y="114.40" width="2.67" height="153.33" fill="#ff2a2a"/>
<rect x="503.41" y="314.06" width="2.67" height="93.34" fill="#4ca04c"/>
<rect x="503.41" y="276.83" width="2.67" height="37.23" fill="#ffa234"/>
<rect x="503.41" y="267.72" width="2.67" height="9.11" fill="#bd4a4e"/>
<rect x="503.41" y="113.46" width="2.67" height="154.26" fill="#ff2a2a"/>
<rect x="506.75" y="317.43" width="2.67" height="89.97" fill="#4ca04c"/>
<rect x="506.75" y="277.43" width="2.67" height="40.00" fill="#ffa234"/>
<rect x="506.75" y="267.72" width="2.67" height="9.70" fill="#bd4a4e"/>
<rect x="506.75" y="112.89" width="2.67" height="154.83" fill="#ff2a2a"/>
<rect x="510.08" y="314.46" width="2.67" height="92.94" fill="#4ca04c"/>
<rect x="510.08" y="275.64" width="2.67" height="38.81" fill="#ffa234"/>
<rect x="510.08" y="265.74" width="2.67" height="9.90" fill="#bd4a4e"/>
<rect x="510.08" y="113.99" width="2.67" height="151.75" fill="#ff2a2a"/>
<rect x="513.42" y="314.75" width="2.67" height="92.65" fill="#4ca04c"/>
<rect x="513.42" y="275.15" width="2.67" height="39.60" fill="#ffa234"/>
<rect x="513.42" y="265.25" width="2.67" height="9.90" fill="#bd4a4e"/>
<rect x="513.42" y="112.93" width="2.67" height="152.32" fill="#ff2a2a"/>
<rect x="516.75" y="317.72" width="2.67" height="89.68" fill="#4ca04c"/>
<rect x="516.75" y="278.12" width="2.67" height="39.60" fill="#ffa234"/>
<rect x="516.75" y="268.71" width="2.67" height="9.41" fill="#bd4a4e"/>
<rect x="516.75" y="112.82" width="2.67" height="155.89" fill="#ff2a2a"/>
<rect x="520.09" y="317.72" width="2.67" height="89.68" fill="#4ca04c"/>
<rect x="520.09" y="280.40" width="2.67" height="37.33" fill="#ffa234"/>
<rect x="520.09" y="270.69" width="2.67" height="9.70" fill="#bd4a4e"/>
<rect x="520.09" y="112.89" width="2.67" height="157.80" fill="#ff2a2a"/>
<rect x="523.43" y="320.69" width="2.67" height="86.71" fill="#4ca04c"/>
<rect x="523.43" y="280.40" width="2.67" height="40.30" fill="#ffa234"/>
<rect x="523.43" y="270.69" width="2.67" height="9.70" fill="#bd4a4e"/>
<rect x="523.43" y="114.17" width="2.67" height="156.53" fill="#ff2a2a"/>
<rect x="526.76" y="318.22" width="2.67" height="89.18" fill="#4ca04c"/>
<rect x="526.76" y="279.11" width="2.67" height="39.11" fill="#ffa234"/>
<rect x="526.76" y="269.50" width="2.67" height="9.60" fill="#bd4a4e"/>
<rect x="526.76" y="114.48" width="2.67" height="155.03" fill="#ff2a2a"/>
<rect x="530.10" y="317.72" width="2.67" height="89.68" fill="#4ca04c"/>
<rect x="530.10" y="280.10" width="2.67" height="37.62" fill="#ffa234"/>
<rect x="530.10" y="270.69" width="2.67" height="9.41" fill="#bd4a4e"/>
<rect x="530.10" y="114.47" width="2.67" height="156.23" fill="#ff2a2a"/>
<rect x="533.44" y="319.01" width="2.67" height="88.39" fill="#4ca04c"/>
<rect x="533.44" y="279.11" width="2.67" height="39.90" fill="#ffa234"/>
<rect x="533.44" y="269.70" width="2.67" height="9.41" fill="#bd4a4e"/>
<rect x="533.44" y="114.53" width="2.67" height="155.17" fill="#ff2a2a"/>
<rect x="536.77" y="316.73" width="2.67" height="90.67" fill="#4ca04c"/>
<rect x="536.77" y="279.11" width="2.67" height="37.62" fill="#ffa234"/>
<rect x="536.77" y="269.70" width="2.67" height="9.41" fill="#bd4a4e"/>
<rect x="536.77" y="114.51" width="2.67" height="155.19" fill="#ff2a2a"/>
<rect x="540.11" y="317.72" width="2.67" height="89.68" fill="#4ca04c"/>
<rect x="540.11" y="278.42" width="2.67" height="39.31" fill="#ffa234"/>
<rect x="540.11" y="268.71" width="2.67" height="9.70" fill="#bd4a4e"/>
<rect x="540.11" y="113.61" width="2.67" height="155.11" fill="#ff2a2a"/>
<rect x="543.45" y="319.01" width="2.67" height="88.39" fill="#4ca04c"/>
<rect x="543.45" y="279.41" width="2.67" height="39.60" fill="#ffa234"/>
<rect x="543.45" y="269.50" width="2.67" height="9.90" fill="#bd4a4e"/>
<rect x="543.45" y="113.01" width="2.67" height="156.49" fill="#ff2a2a"/>
<rect x="546.78" y="317.43" width="2.67" height="89.97" fill="#4ca04c"/>
<rect x="546.78" y="280.10" width="2.67" height="37.33" fill="#ffa234"/>
<rect x="546.78" y="270.69" width="2.67" height="9.41" fill="#bd4a4e"/>
<rect x="546.78" y="113.14" width="2.67" height="157.55" fill="#ff2a2a"/>
<rect x="550.12" y="318.71" width="2.67" height="88.69" fill="#4ca04c"/>
<rect x="550.12" y="279.11" width="2.67" height="39.60" fill="#ffa234"/>
<rect x="550.12" y="269.50" width="2.67" height="9.60" fill="#bd4a4e"/>
<rect x="550.12" y="113.92" width="2.67" height="155.59" fill="#ff2a2a"/>
<rect x="553.46" y="318.02" width="2.67" height="89.38" fill="#4ca04c"/>
<rect x="553.46" y="280.59" width="2.67" height="37.43" fill="#ffa234"/>
<rect x="553.46" y="271.68" width="2.67" height="8.91" fill="#bd4a4e"/>
<rect x="553.46" y="113.54" width="2.67" height="158.14" fill="#ff2a2a"/>
<rect x="556.79" y="321.39" width="2.67" height="86.01" fill="#4ca04c"/>
<rect x="556.79" y="281.58" width="2.67" height="39.80" fill="#ffa234"/>
<rect x="556.79" y="271.88" width="2.67" height="9.70" fill="#bd4a4e"/>
<rect x="556.79" y="113.23" width="2.67" height="158.65" fill="#ff2a2a"/>
<rect x="560.13" y="318.71" width="2.67" height="88.69" fill="#4ca04c"/>
<rect x="560.13" y="280.10" width="2.67" height="38.61" fill="#ffa234"/>
<rect x="560.13" y="270.50" width="2.67" height="9.60" fill="#bd4a4e"/>
<rect x="560.13" y="114.77" width="2.67" height="155.72" fill="#ff2a2a"/>
<rect x="563.47" y="319.21" width="2.67" height="88.19" fill="#4ca04c"/>
<rect x="563.47" y="281.58" width="2.67" height="37.62" fill="#ffa234"/>
<rect x="563.47" y="272.67" width="2.67" height="8.91" fill="#bd4a4e"/>
<rect x="563.47" y="113.53" width="2.67" height="159.15" fill="#ff2a2a"/>
<rect x="566.80" y="320.69" width="2.67" height="86.71" fill="#4ca04c"/>
<rect x="566.80" y="281.58" width="2.67" height="39.11" fill="#ffa234"/>
<rect x="566.80" y="271.68" width="2.67" height="9.90" fill="#bd4a4e"/>
<rect x="566.80" y="112.99" width="2.67" height="158.69" fill="#ff2a2a"/>
<rect x="570.14" y="319.70" width="2.67" height="87.70" fill="#4ca04c"/>
<rect x="570.14" y="282.77" width="2.67" height="36.93" fill="#ffa234"/>
<rect x="570.14" y="273.66" width="2.67" height="9.11" fill="#bd4a4e"/>
<rect x="570.14" y="113.27" width="2.67" height="160.40" fill="#ff2a2a"/>
<rect x="573.48" y="318.22" width="2.67" height="89.18" fill="#4ca04c"/>
<rect x="573.48" y="280.10" width="2.67" height="38.12" fill="#ffa234"/>
<rect x="573.48" y="270.69" width="2.67" height="9.41" fill="#bd4a4e"/>
<rect x="573.48" y="113.33" width="2.67" height="157.36" fill="#ff2a2a"/>
<rect x="576.81" y="319.01" width="2.67" height="88.39" fill="#4ca04c"/>
<rect x="576.81" y="280.59" width="2.67" height="38.42" fill="#ffa234"/>
<rect x="576.81" y="270.69" width="2.67" height="9.90" fill="#bd4a4e"/>
<rect x="576.81" y="113.92" width="2.67" height="156.77" fill="#ff2a2a"/>
<rect x="580.15" y="320.69" width="2.67" height="86.71" fill="#4ca04c"/>
<rect x="580.15" y="283.56" width="2.67" height="37.13" fill="#ffa234"/>
<rect x="580.15" y="274.16" width="2.67" height="9.41" fill="#bd4a4e"/>
<rect x="580.15" y="114.57" width="2.67" height="159.59" fill="#ff2a2a"/>
<rect x="583.49" y="321.68" width="2.67" height="85.72" fill="#4ca04c"/>
<rect x="583.49" y="282.77" width="2.67" height="38.91" fill="#ffa234"/>
<rect x="583.49" y="273.17" width="2.67" height="9.60" fill="#bd4a4e"/>
<rect x="583.49" y="113.25" width="2.67" height="159.92" fill="#ff2a2a"/>
<rect x="586.82" y="321.68" width="2.67" height="85.72" fill="#4ca04c"/>
<rect x="586.82" y="285.35" width="2.67" height="36.34" fill="#ffa234"/>
<rect x="586.82" y="275.84" width="2.67" height="9.50" fill="#bd4a4e"/>
<rect x="586.82" y="114.24" width="2.67" height="161.60" fill="#ff2a2a"/>
<rect x="590.16" y="321.68" width="2.67" height="85.72" fill="#4ca04c"/>
<rect x="590.16" y="283.37" width="2.67" height="38.32" fill="#ffa234"/>
<rect x="590.16" y="273.66" width="2.67" height="9.70" fill="#bd4a4e"/>
<rect x="590.16" y="113.23" width="2.67" height="160.44" fill="#ff2a2a"/>
<rect x="593.50" y="320.99" width="2.67" height="86.41" fill="#4ca04c"/>
<rect x="593.50" y="282.57" width="2.67" height="38.42" fill="#ffa234"/>
<rect x="593.50" y="272.67" width="2.67" height="9.90" fill="#bd4a4e"/>
<rect x="593.50" y="112.86" width="2.67" height="159.82" fill="#ff2a2a"/>
<rect x="596.83" y="322.18" width="2.67" height="85.22" fill="#4ca04c"/>
<rect x="596.83" y="285.74" width="2.67" height="36.44" fill="#ffa234"/>
<rect x="596.83" y="276.44" width="2.67" height="9.31" fill="#bd4a4e"/>
<rect x="596.83" y="114.10" width="2.67" height="162.34" fill="#ff2a2a"/>
<rect x="600.17" y="319.01" width="2.67" height="88.39" fill="#4ca04c"/>
<rect x="600.17" y="280.59" width="2.67" height="38.42" fill="#ffa234"/>
<rect x="600.17" y="270.69" width="2.67" height="9.90" fill="#bd4a4e"/>
<rect x="600.17" y="114.09" width="2.67" height="156.61" fill="#ff2a2a"/>
<rect x="603.51" y="321.39" width="2.67" height="86.01" fill="#4ca04c"/>
<rect x="603.51" y="284.36" width="2.67" height="37.03" fill="#ffa234"/>
<rect x="603.51" y="274.65" width="2.67" height="9.70" fill="#bd4a4e"/>
<rect x="603.51" y="112.91" width="2.67" height="161.74" fill="#ff2a2a"/>
<rect x="606.84" y="324.65" width="2.67" height="82.75" fill="#4ca04c"/>
<rect x="606.84" y="285.54" width="2.67" height="39.11" fill="#ffa234"/>
<rect x="606.84" y="275.64" width="2.67" height="9.90" fill="#bd4a4e"/>
<rect x="606.84" y="113.39" width="2.67" height="162.25" fill="#ff2a2a"/>
<rect x="610.18" y="318.02" width="2.67" height="89.38" fill="#4ca04c"/>
<rect x="610.18" y="280.10" width="2.67" height="37.92" fill="#ffa234"/>
<rect x="610.18" y="270.20" width="2.67" height="9.90" fill="#bd4a4e"/>
<rect x="610.18" y="114.59" width="2.67" height="155.61" fill="#ff2a2a"/>
<rect x="613.52" y="322.18" width="2.67" height="85.22" fill="#4ca04c"/>
<rect x="613.52" y="285.35" width="2.67" height="36.83" fill="#ffa234"/>
<rect x="613.52" y="275.64" width="2.67" height="9.70" fill="#bd4a4e"/>
<rect x="613.52" y="114.68" width="2.67" height="160.96" fill="#ff2a2a"/>
<rect x="616.85" y="320.69" width="2.67" height="86.71" fill="#4ca04c"/>
<rect x="616.85" y="282.77" width="2.67" height="37.92" fill="#ffa234"/>
<rect x="616.85" y="273.17" width="2.67" height="9.60" fill="#bd4a4e"/>
<rect x="616.85" y="114.63" width="2.67" height="158.54" fill="#ff2a2a"/>
<rect x="620.19" y="318.22" width="2.67" height="89.18" fill="#4ca04c"/>
<rect x="620.19" y="282.38" width="2.67" height="35.84" fill="#ffa234"/>
<rect x="620.19" y="272.67" width="2.67" height="9.70" fill="#bd4a4e"/>
<rect x="620.19" y="113.00" width="2.67" height="159.67" fill="#ff2a2a"/>
<rect x="623.53" y="324.36" width="2.67" height="83.04" fill="#4ca04c"/>
<rect x="623.53" y="284.36" width="2.67" height="40.00" fill="#ffa234"/>
<rect x="623.53" y="274.65" width="2.67" height="9.70" fill="#bd4a4e"/>
<rect x="623.53" y="113.21" width="2.67" height="161.44" fill="#ff2a2a"/>
<rect x="626.86" y="319.21" width="2.67" height="88.19" fill="#4ca04c"/>
<rect x="626.86" y="281.58" width="2.67" height="37.62" fill="#ffa234"/>
<rect x="626.86" y="271.68" width="2.67" height="9.90" fill="#bd4a4e"/>
<rect x="626.86" y="114.64" width="2.67" height="157.04" fill="#ff2a2a"/>
<rect x="630.20" y="322.67" width="2.67" height="84.73" fill="#4ca04c"/>
<rect x="630.20" y="286.04" width="2.67" height="36.63" fill="#ffa234"/>
<rect x="630.20" y="276.63" width="2.67" height="9.41" fill="#bd4a4e"/>
<rect x="630.20" y="113.17" width="2.67" height="163.46" fill="#ff2a2a"/>
<rect x="633.54" y="319.21" width="2.67" height="88.19" fill="#4ca04c"/>
<rect x="633.54" y="281.39" width="2.67" height="37.82" fill="#ffa234"/>
<rect x="633.54" y="271.68" width="2.67" height="9.70" fill="#bd4a4e"/>
<rect x="633.54" y="112.84" width="2.67" height="158.85" fill="#ff2a2a"/>
<rect x="636.87" y="318.02" width="2.67" height="89.38" fill="#4ca04c"/>
<rect x="636.87" y="280.79" width="2.67" height="37.23" fill="#ffa234"/>
<rect x="636.87" y="271.49" width="2.67" height="9.31" fill="#bd4a4e"/>
<rect x="636.87" y="113.54" width="2.67" height="157.95" fill="#ff2a2a"/>
<rect x="640.21" y="324.16" width="2.67" height="83.24" fill="#4ca04c"/>
<rect x="640.21" y="286.04" width="2.67" height="38.12" fill="#ffa234"/>
<rect x="640.21" y="276.44" width="2.67" height="9.60" fill="#bd4a4e"/>
<rect x="640.21" y="114.20" width="2.67" height="162.24" fill="#ff2a2a"/>
<rect x="643.55" y="319.21" width="2.67" height="88.19" fill="#4ca04c"/>
<rect x="643.55" y="281.39" width="2.67" height="37.82" fill="#ffa234"/>
<rect x="643.55" y="271.68" width="2.67" height="9.70" fill="#bd4a4e"/>
<rect x="643.55" y="113.77" width="2.67" height="157.91" fill="#ff2a2a"/>
<rect x="646.88" y="321.98" width="2.67" height="85.42" fill="#4ca04c"/>
<rect x="646.88" y="284.36" width="2.67" height="37.62" fill="#ffa234"/>
<rect x="646.88" y="274.65" width="2.67" height="9.70" fill="#bd4a4e"/>
<rect x="646.88" y="114.67" width="2.67" height="159.98" fill="#ff2a2a"/>
<rect x="650.22" y="319.21" width="2.67" height="88.19" fill="#4ca04c"/>
<rect x="650.22" y="282.38" width="2.67" height="36.83" fill="#ffa234"/>
<rect x="650.22" y="272.67" width="2.67" height="9.70" fill="#bd4a4e"/>
<rect x="650.22" y="114.92" width="2.67" height="157.75" fill="#ff2a2a"/>
<rect x="653.56" y="319.41" width="2.67" height="87.99" fill="#4ca04c"/>
<rect x="653.56" y="282.77" width="2.67" height="36.63" fill="#ffa234"/>
<rect x="653.56" y="273.66" width="2.67" height="9.11" fill="#bd4a4e"/>
<rect x="653.56" y="112.86" width="2.67" height="160.81" fill="#ff2a2a"/>
<rect x="656.89" y="321.39" width="2.67" height="86.01" fill="#4ca04c"/>
<rect x="656.89" y="283.56" width="2.67" height="37.82" fill="#ffa234"/>
<rect x="656.89" y="273.66" width="2.67" height="9.90" fill="#bd4a4e"/>
<rect x="656.89" y="113.55" width="2.67" height="160.11" fill="#ff2a2a"/>
<rect x="660.23" y="318.02" width="2.67" height="89.38" fill="#4ca04c"/>
<rect x="660.23" y="281.39" width="2.67" height="36.63" fill="#ffa234"/>
<rect x="660.23" y="271.68" width="2.67" height="9.70" fill="#bd4a4e"/>
<rect x="660.23" y="113.82" width="2.67" height="157.87" fill="#ff2a2a"/>
<rect x="663.57" y="323.96" width="2.67" height="83.44" fill="#4ca04c"/>
<rect x="663.57" y="286.04" width="2.67" height="37.92" fill="#ffa234"/>
<rect x="663.57" y="276.44" width="2.67" height="9.60" fill="#bd4a4e"/>
<rect x="663.57" y="112.94" width="2.67" height="163.50" fill="#ff2a2a"/>
<rect x="666.90" y="321.68" width="2.67" height="85.72" fill="#4ca04c"/>
<rect x="666.90" y="283.56" width="2.67" height="38.12" fill="#ffa234"/>
<rect x="666.90" y="273.66" width="2.67" height="9.90" fill="#bd4a4e"/>
<rect x="666.90" y="114.02" width="2.67" height="159.65" fill="#ff2a2a"/>
<rect x="670.24" y="324.36" width="2.67" height="83.04" fill="#4ca04c"/>
<rect x="670.24" y="288.02" width="2.67" height="36.34" fill="#ffa234"/>
<rect x="670.24" y="278.61" width="2.67" height="9.41" fill="#bd4a4e"/>
<rect x="670.24" y="113.07" width="2.67" height="165.54" fill="#ff2a2a"/>
<rect x="673.58" y="323.17" width="2.67" height="84.23" fill="#4ca04c"/>
<rect x="673.58" y="285.35" width="2.67" height="37.82" fill="#ffa234"/>
<rect x="673.58" y="275.64" width="2.67" height="9.70" fill="#bd4a4e"/>
<rect x="673.58" y="113.17" width="2.67" height="162.47" fill="#ff2a2a"/>
<rect x="676.91" y="321.68" width="2.67" height="85.72" fill="#4ca04c"/>
<rect x="676.91" y="285.05" width="2.67" height="36.63" fill="#ffa234"/>
<rect x="676.91" y="275.64" width="2.67" height="9.41" fill="#bd4a4e"/>
<rect x="676.91" y="114.50" width="2.67" height="161.14" fill="#ff2a2a"/>
<rect x="680.25" y="322.18" width="2.67" height="85.22" fill="#4ca04c"/>
<rect x="680.25" y="285.05" width="2.67" height="37.13" fill="#ffa234"/>
<rect x="680.25" y="275.45" width="2.67" height="9.60" fill="#bd4a4e"/>
<rect x="680.25" y="114.41" width="2.67" height="161.03" fill="#ff2a2a"/>
<rect x="683.59" y="321.39" width="2.67" height="86.01" fill="#4ca04c"/>
<rect x="683.59" y="283.56" width="2.67" height="37.82" fill="#ffa234"/>
<rect x="683.59" y="273.66" width="2.67" height="9.90" fill="#bd4a4e"/>
<rect x="683.59" y="114.32" width="2.67" height="159.34" fill="#ff2a2a"/>
<rect x="686.92" y="323.37" width="2.67" height="84.03" fill="#4ca04c"/>
<rect x="686.92" y="287.33" width="2.67" height="36.04" fill="#ffa234"/>
<rect x="686.92" y="277.62" width="2.67" height="9.70" fill="#bd4a4e"/>
<rect x="686.92" y="114.44" width="2.67" height="163.19" fill="#ff2a2a"/>
<rect x="690.26" y="321.39" width="2.67" height="86.01" fill="#4ca04c"/>
<rect x="690.26" y="283.56" width="2.67" height="37.82" fill="#ffa234"/>
<rect x="690.26" y="273.66" width="2.67" height="9.90" fill="#bd4a4e"/>
<rect x="690.26" y="113.69" width="2.67" height="159.98" fill="#ff2a2a"/>
<rect x="693.60" y="320.20" width="2.67" height="87.20" fill="#4ca04c"/>
<rect x="693.60" y="284.55" width="2.67" height="35.64" fill="#ffa234"/>
<rect x="693.60" y="275.15" width="2.67" height="9.41" fill="#bd4a4e"/>
<rect x="693.60" y="114.39" width="2.67" height="160.75" fill="#ff2a2a"/>
<rect x="696.93" y="325.64" width="2.67" height="81.76" fill="#4ca04c"/>
<rect x="696.93" y="288.32" width="2.67" height="37.33" fill="#ffa234"/>
<rect x="696.93" y="278.12" width="2.67" height="10.20" fill="#bd4a4e"/>
<rect x="696.93" y="114.05" width="2.67" height="164.07" fill="#ff2a2a"/>
<rect x="700.27" y="320.40" width="2.67" height="87.00" fill="#4ca04c"/>
<rect x="700.27" y="282.77" width="2.67" height="37.62" fill="#ffa234"/>
<rect x="700.27" y="272.87" width="2.67" height="9.90" fill="#bd4a4e"/>
<rect x="700.27" y="114.67" width="2.67" height="158.20" fill="#ff2a2a"/>
<rect x="703.61" y="323.66" width="2.67" height="83.74" fill="#4ca04c"/>
<rect x="703.61" y="287.03" width="2.67" height="36.63" fill="#ffa234"/>
<rect x="703.61" y="277.43" width="2.67" height="9.60" fill="#bd4a4e"/>
<rect x="703.61" y="112.99" width="2.67" height="164.44" fill="#ff2a2a"/>
<rect x="706.94" y="320.69" width="2.67" height="86.71" fill="#4ca04c"/>
<rect x="706.94" y="283.56" width="2.67" height="37.13" fill="#ffa234"/>
<rect x="706.94" y="273.47" width="2.67" height="10.10" fill="#bd4a4e"/>
<rect x="706.94" y="114.19" width="2.67" height="159.27" fill="#ff2a2a"/>
<rect x="710.28" y="321.68" width="2.67" height="85.72" fill="#4ca04c"/>
<rect x="710.28" y="286.04" width="2.67" height="35.64" fill="#ffa234"/>
<rect x="710.28" y="276.44" width="2.67" height="9.60" fill="#bd4a4e"/>
<rect x="710.28" y="113.97" width="2.67" height="162.47" fill="#ff2a2a"/>
<rect x="713.62" y="325.15" width="2.67" height="82.25" fill="#4ca04c"/>
<rect x="713.62" y="287.03" width="2.67" height="38.12" fill="#ffa234"/>
<rect x="713.62" y="277.13" width="2.67" height="9.90" fill="#bd4a4e"/>
<rect x="713.62" y="113.69" width="2.67" height="163.43" fill="#ff2a2a"/>
<rect x="716.95" y="319.21" width="2.67" height="88.19" fill="#4ca04c"/>
<rect x="716.95" y="282.38" width="2.67" height="36.83" fill="#ffa234"/>
<rect x="716.95" y="272.48" width="2.67" height="9.90" fill="#bd4a4e"/>
<rect x="716.95" y="113.00" width="2.67" height="159.47" fill="#ff2a2a"/>
<rect x="720.29" y="324.36" width="2.67" height="83.04" fill="#4ca04c"/>
<rect x="720.29" y="288.02" width="2.67" height="36.34" fill="#ffa234"/>
<rect x="720.29" y="278.12" width="2.67" height="9.90" fill="#bd4a4e"/>
<rect x="720.29" y="114.05" width="2.67" height="164.07" fill="#ff2a2a"/>
<rect x="723.63" y="320.00" width="2.67" height="87.40" fill="#4ca04c"/>
<rect x="723.63" y="283.07" width="2.67" height="36.93" fill="#ffa234"/>
<rect x="723.63" y="273.47" width="2.67" height="9.60" fill="#bd4a4e"/>
<rect x="723.63" y="112.97" width="2.67" height="160.49" fill="#ff2a2a"/>
<rect x="726.96" y="318.71" width="2.67" height="88.69" fill="#4ca04c"/>
<rect x="726.96" y="282.77" width="2.67" height="35.94" fill="#ffa234"/>
<rect x="726.96" y="273.66" width="2.67" height="9.11" fill="#bd4a4e"/>
<rect x="726.96" y="113.87" width="2.67" height="159.79" fill="#ff2a2a"/>
<rect x="730.30" y="326.14" width="2.67" height="81.26" fill="#4ca04c"/>
<rect x="730.30" y="288.02" width="2.67" height="38.12" fill="#ffa234"/>
<rect x="730.30" y="278.12" width="2.67" height="9.90" fill="#bd4a4e"/>
<rect x="730.30" y="113.81" width="2.67" height="164.31" fill="#ff2a2a"/>
<rect x="733.64" y="318.71" width="2.67" height="88.69" fill="#4ca04c"/>
<rect x="733.64" y="282.08" width="2.67" height="36.63" fill="#ffa234"/>
<rect x="733.64" y="272.48" width="2.67" height="9.60" fill="#bd4a4e"/>
<rect x="733.64" y="113.82" width="2.67" height="158.65" fill="#ff2a2a"/>
<rect x="736.97" y="323.66" width="2.67" height="83.74" fill="#4ca04c"/>
<rect x="736.97" y="285.74" width="2.67" height="37.92" fill="#ffa234"/>
<rect x="736.97" y="276.44" width="2.67" height="9.31" fill="#bd4a4e"/>
<rect x="736.97" y="114.91" width="2.67" height="161.52" fill="#ff2a2a"/>
<rect x="740.31" y="318.22" width="2.67" height="89.18" fill="#4ca04c"/>
<rect x="740.31" y="282.38" width="2.67" height="35.84" fill="#ffa234"/>
<rect x="740.31" y="272.18" width="2.67" height="10.20" fill="#bd4a4e"/>
<rect x="740.31" y="114.00" width="2.67" height="158.17" fill="#ff2a2a"/>
<rect x="743.65" y="320.00" width="2.67" height="87.40" fill="#4ca04c"/>
<rect x="743.65" y="284.36" width="2.67" height="35.64" fill="#ffa234"/>
<rect x="743.65" y="274.65" width="2.67" height="9.70" fill="#bd4a4e"/>
<rect x="743.65" y="114.56" width="2.67" height="160.09" fill="#ff2a2a"/>
<rect x="746.98" y="325.35" width="2.67" height="82.05" fill="#4ca04c"/>
<rect x="746.98" y="287.52" width="2.67" height="37.82" fill="#ffa234"/>
<rect x="746.98" y="278.12" width="2.67" height="9.41" fill="#bd4a4e"/>
<rect x="746.98" y="114.95" width="2.67" height="163.17" fill="#ff2a2a"/>
<rect x="750.32" y="318.22" width="2.67" height="89.18" fill="#4ca04c"/>
<rect x="750.32" y="282.38" width="2.67" height="35.84" fill="#ffa234"/>
<rect x="750.32" y="272.48" width="2.67" height="9.90" fill="#bd4a4e"/>
<rect x="750.32" y="113.23" width="2.67" height="159.25" fill="#ff2a2a"/>
<rect x="753.66" y="323.96" width="2.67" height="83.44" fill="#4ca04c"/>
<rect x="753.66" y="287.03" width="2.67" height="36.93" fill="#ffa234"/>
<rect x="753.66" y="277.43" width="2.67" height="9.60" fill="#bd4a4e"/>
<rect x="753.66" y="114.58" width="2.67" height="162.84" fill="#ff2a2a"/>
<rect x="756.99" y="318.02" width="2.67" height="89.38" fill="#4ca04c"/>
<rect x="756.99" y="281.58" width="2.67" height="36.44" fill="#ffa234"/>
<rect x="756.99" y="271.49" width="2.67" height="10.10" fill="#bd4a4e"/>
<rect x="756.99" y="113.93" width="2.67" height="157.55" fill="#ff2a2a"/>
<rect x="760.33" y="325.94" width="2.67" height="81.46" fill="#4ca04c"/>
<rect x="760.33" y="289.31" width="2.67" height="36.63" fill="#ffa234"/>
<rect x="760.33" y="280.10" width="2.67" height="9.21" fill="#bd4a4e"/>
<rect x="760.33" y="113.39" width="2.67" height="166.71" fill="#ff2a2a"/>
</g>
<g stroke="#b0b0b0" stroke-opacity="0.25" stroke-width="1">
<line x1="59.5" y1="353.50" x2="796.5" y2="353.50"/>
<line x1="59.5" y1="299.50" x2="796.5" y2="299.50"/>
<line x1="59.5" y1="245.50" x2="796.5" y2="245.50"/>
<line x1="59.5" y1="191.50" x2="796.5" y2="191.50"/>
<line x1="59.5" y1="137.50" x2="796.5" y2="137.50"/>
</g>
<rect x="59.5" y="83.5" width="737.0" height="323.90" fill="none" stroke="#000" stroke-width="0.72"/>
<g stroke="#000" stroke-width="0.72">
<line x1="56.37" y1="407.50" x2="59.5" y2="407.50"/>
<line x1="56.37" y1="353.50" x2="59.5" y2="353.50"/>
<line x1="56.37" y1="299.50" x2="59.5" y2="299.50"/>
<line x1="56.37" y1="245.50" x2="59.5" y2="245.50"/>
<line x1="56.37" y1="191.50" x2="59.5" y2="191.50"/>
<line x1="56.37" y1="137.50" x2="59.5" y2="137.50"/>
<line x1="56.37" y1="83.50" x2="59.5" y2="83.50"/>
<line x1="94.33" y1="407.4" x2="94.33" y2="410.53"/>
<line x1="97.67" y1="407.4" x2="97.67" y2="410.53"/>
<line x1="101.01" y1="407.4" x2="101.01" y2="410.53"/>
<line x1="104.34" y1="407.4" x2="104.34" y2="410.53"/>
<line x1="107.68" y1="407.4" x2="107.68" y2="410.53"/>
<line x1="111.02" y1="407.4" x2="111.02" y2="410.53"/>
<line x1="114.35" y1="407.4" x2="114.35" y2="410.53"/>
<line x1="117.69" y1="407.4" x2="117.69" y2="410.53"/>
<line x1="121.03" y1="407.4" x2="121.03" y2="410.53"/>
<line x1="124.36" y1="407.4" x2="124.36" y2="410.53"/>
<line x1="127.70" y1="407.4" x2="127.70" y2="410.53"/>
<line x1="131.04" y1="407.4" x2="131.04" y2="410.53"/>
<line x1="134.37" y1="407.4" x2="134.37" y2="410.53"/>
<line x1="137.71" y1="407.4" x2="137.71" y2="410.53"/>
<line x1="141.05" y1="407.4" x2="141.05" y2="410.53"/>
<line x1="144.38" y1="407.4" x2="144.38" y2="410.53"/>
<line x1="147.72" y1="407.4" x2="147.72" y2="410.53"/>
<line x1="151.06" y1="407.4" x2="151.06" y2="410.53"/>
<line x1="154.39" y1="407.4" x2="154.39" y2="410.53"/>
<line x1="157.73" y1="407.4" x2="157.73" y2="410.53"/>
<line x1="161.07" y1="407.4" x2="161.07" y2="410.53"/>
<line x1="164.40" y1="407.4" x2="164.40" y2="410.53"/>
<line x1="167.74" y1="407.4" x2="167.74" y2="410.53"/>
<line x1="171.08" y1="407.4" x2="171.08" y2="410.53"/>
<line x1="174.41" y1="407.4" x2="174.41" y2="410.53"/>
<line x1="177.75" y1="407.4" x2="177.75" y2="410.53"/>
<line x1="181.09" y1="407.4" x2="181.09" y2="410.53"/>
<line x1="184.42" y1="407.4" x2="184.42" y2="410.53"/>
<line x1="187.76" y1="407.4" x2="187.76" y2="410.53"/>
<line x1="191.10" y1="407.4" x2="191.10" y2="410.53"/>
<line x1="194.43" y1="407.4" x2="194.43" y2="410.53"/>
<line x1="197.77" y1="407.4" x2="197.77" y2="410.53"/>
<line x1="201.11" y1="407.4" x2="201.11" y2="410.53"/>
<line x1="204.44" y1="407.4" x2="204.44" y2="410.53"/>
<line x1="207.78" y1="407.4" x2="207.78" y2="410.53"/>
<line x1="211.12" y1="407.4" x2="211.12" y2="410.53"/>
<line x1="214.45" y1="407.4" x2="214.45" y2="410.53"/>
<line x1="217.79" y1="407.4" x2="217.79" y2="410.53"/>
<line x1="221.13" y1="407.4" x2="221.13" y2="410.53"/>
<line x1="224.46" y1="407.4" x2="224.46" y2="410.53"/>
<line x1="227.80" y1="407.4" x2="227.80" y2="410.53"/>
<line x1="231.14" y1="407.4" x2="231.14" y2="410.53"/>
<line x1="234.47" y1="407.4" x2="234.47" y2="410.53"/>
<line x1="237.81" y1="407.4" x2="237.81" y2="410.53"/>
<line x1="241.15" y1="407.4" x2="241.15" y2="410.53"/>
<line x1="244.48" y1="407.4" x2="244.48" y2="410.53"/>
<line x1="247.82" y1="407.4" x2="247.82" y2="410.53"/>
<line x1="251.16" y1="407.4" x2="251.16" y2="410.53"/>
<line x1="254.49" y1="407.4" x2="254.49" y2="410.53"/>
<line x1="257.83" y1="407.4" x2="257.83" y2="410.53"/>
<line x1="261.17" y1="407.4" x2="261.17" y2="410.53"/>
<line x1="264.50" y1="407.4" x2="264.50" y2="410.53"/>
<line x1="267.84" y1="407.4" x2="267.84" y2="410.53"/>
<line x1="271.18" y1="407.4" x2="271.18" y2="410.53"/>
<line x1="274.51" y1="407.4" x2="274.51" y2="410.53"/>
<line x1="277.85" y1="407.4" x2="277.85" y2="410.53"/>
<line x1="281.19" y1="407.4" x2="281.19" y2="410.53"/>
<line x1="284.52" y1="407.4" x2="284.52" y2="410.53"/>
<line x1="287.86" y1="407.4" x2="287.86" y2="410.53"/>
<line x1="291.20" y1="407.4" x2="291.20" y2="410.53"/>
<line x1="294.53" y1="407.4" x2="294.53" y2="410.53"/>
<line x1="297.87" y1="407.4" x2="297.87" y2="410.53"/>
<line x1="301.21" y1="407.4" x2="301.21" y2="410.53"/>
<line x1="304.54" y1="407.4" x2="304.54" y2="410.53"/>
<line x1="307.88" y1="407.4" x2="307.88" y2="410.53"/>
<line x1="311.22" y1="407.4" x2="311.22" y2="410.53"/>
<line x1="314.55" y1="407.4" x2="314.55" y2="410.53"/>
<line x1="317.89" y1="407.4" x2="317.89" y2="410.53"/>
<line x1="321.23" y1="407.4" x2="321.23" y2="410.53"/>
<line x1="324.56" y1="407.4" x2="324.56" y2="410.53"/>
<line x1="327.90" y1="407.4" x2="327.90" y2="410.53"/>
<line x1="331.24" y1="407.4" x2="331.24" y2="410.53"/>
<line x1="334.57" y1="407.4" x2="334.57" y2="410.53"/>
<line x1="337.91" y1="407.4" x2="337.91" y2="410.53"/>
<line x1="341.25" y1="407.4" x2="341.25" y2="410.53"/>
<line x1="344.58" y1="407.4" x2="344.58" y2="410.53"/>
<line x1="347.92" y1="407.4" x2="347.92" y2="410.53"/>
<line x1="351.26" y1="407.4" x2="351.26" y2="410.53"/>
<line x1="354.59" y1="407.4" x2="354.59" y2="410.53"/>
<line x1="357.93" y1="407.4" x2="357.93" y2="410.53"/>
<line x1="361.27" y1="407.4" x2="361.27" y2="410.53"/>
<line x1="364.60" y1="407.4" x2="364.60" y2="410.53"/>
<line x1="367.94" y1="407.4" x2="367.94" y2="410.53"/>
<line x1="371.28" y1="407.4" x2="371.28" y2="410.53"/>
<line x1="374.61" y1="407.4" x2="374.61" y2="410.53"/>
<line x1="377.95" y1="407.4" x2="377.95" y2="410.53"/>
<line x1="381.29" y1="407.4" x2="381.29" y2="410.53"/>
<line x1="384.62" y1="407.4" x2="384.62" y2="410.53"/>
<line x1="387.96" y1="407.4" x2="387.96" y2="410.53"/>
<line x1="391.30" y1="407.4" x2="391.30" y2="410.53"/>
<line x1="394.63" y1="407.4" x2="394.63" y2="410.53"/>
<line x1="397.97" y1="407.4" x2="397.97" y2="410.53"/>
<line x1="401.31" y1="407.4" x2="401.31" y2="410.53"/>
<line x1="404.64" y1="407.4" x2="404.64" y2="410.53"/>
<line x1="407.98" y1="407.4" x2="407.98" y2="410.53"/>
<line x1="411.32" y1="407.4" x2="411.32" y2="410.53"/>
<line x1="414.65" y1="407.4" x2="414.65" y2="410.53"/>
<line x1="417.99" y1="407.4" x2="417.99" y2="410.53"/>
<line x1="421.33" y1="407.4" x2="421.33" y2="410.53"/>
<line x1="424.66" y1="407.4" x2="424.66" y2="410.53"/>
<line x1="428.00" y1="407.4" x2="428.00" y2="410.53"/>
<line x1="431.34" y1="407.4" x2="431.34" y2="410.53"/>
<line x1="434.67" y1="407.4" x2="434.67" y2="410.53"/>
<line x1="438.01" y1="407.4" x2="438.01" y2="410.53"/>
<line x1="441.35" y1="407.4" x2="441.35" y2="410.53"/>
<line x1="444.68" y1="407.4" x2="444.68" y2="410.53"/>
<line x1="448.02" y1="407.4" x2="448.02" y2="410.53"/>
<line x1="451.36" y1="407.4" x2="451.36" y2="410.53"/>
<line x1="454.69" y1="407.4" x2="454.69" y2="410.53"/>
<line x1="458.03" y1="407.4" x2="458.03" y2="410.53"/>
<line x1="461.37" y1="407.4" x2="461.37" y2="410.53"/>
<line x1="464.70" y1="407.4" x2="464.70" y2="410.53"/>
<line x1="468.04" y1="407.4" x2="468.04" y2="410.53"/>
<line x1="471.38" y1="407.4" x2="471.38" y2="410.53"/>
<line x1="474.71" y1="407.4" x2="474.71" y2="410.53"/>
<line x1="478.05" y1="407.4" x2="478.05" y2="410.53"/>
<line x1="481.39" y1="407.4" x2="481.39" y2="410.53"/>
<line x1="484.72" y1="407.4" x2="484.72" y2="410.53"/>
<line x1="488.06" y1="407.4" x2="488.06" y2="410.53"/>
<line x1="491.40" y1="407.4" x2="491.40" y2="410.53"/>
<line x1="494.73" y1="407.4" x2="494.73" y2="410.53"/>
<line x1="498.07" y1="407.4" x2="498.07" y2="410.53"/>
<line x1="501.41" y1="407.4" x2="501.41" y2="410.53"/>
<line x1="504.74" y1="407.4" x2="504.74" y2="410.53"/>
<line x1="508.08" y1="407.4" x2="508.08" y2="410.53"/>
<line x1="511.42" y1="407.4" x2="511.42" y2="410.53"/>
<line x1="514.75" y1="407.4" x2="514.75" y2="410.53"/>
<line x1="518.09" y1="407.4" x2="518.09" y2="410.53"/>
<line x1="521.43" y1="407.4" x2="521.43" y2="410.53"/>
<line x1="524.76" y1="407.4" x2="524.76" y2="410.53"/>
<line x1="528.10" y1="407.4" x2="528.10" y2="410.53"/>
<line x1="531.44" y1="407.4" x2="531.44" y2="410.53"/>
<line x1="534.77" y1="407.4" x2="534.77" y2="410.53"/>
<line x1="538.11" y1="407.4" x2="538.11" y2="410.53"/>
<line x1="541.45" y1="407.4" x2="541.45" y2="410.53"/>
<line x1="544.78" y1="407.4" x2="544.78" y2="410.53"/>
<line x1="548.12" y1="407.4" x2="548.12" y2="410.53"/>
<line x1="551.46" y1="407.4" x2="551.46" y2="410.53"/>
<line x1="554.79" y1="407.4" x2="554.79" y2="410.53"/>
<line x1="558.13" y1="407.4" x2="558.13" y2="410.53"/>
<line x1="561.47" y1="407.4" x2="561.47" y2="410.53"/>
<line x1="564.80" y1="407.4" x2="564.80" y2="410.53"/>
<line x1="568.14" y1="407.4" x2="568.14" y2="410.53"/>
<line x1="571.48" y1="407.4" x2="571.48" y2="410.53"/>
<line x1="574.81" y1="407.4" x2="574.81" y2="410.53"/>
<line x1="578.15" y1="407.4" x2="578.15" y2="410.53"/>
<line x1="581.49" y1="407.4" x2="581.49" y2="410.53"/>
<line x1="584.82" y1="407.4" x2="584.82" y2="410.53"/>
<line x1="588.16" y1="407.4" x2="588.16" y2="410.53"/>
<line x1="591.50" y1="407.4" x2="591.50" y2="410.53"/>
<line x1="594.83" y1="407.4" x2="594.83" y2="410.53"/>
<line x1="598.17" y1="407.4" x2="598.17" y2="410.53"/>
<line x1="601.51" y1="407.4" x2="601.51" y2="410.53"/>
<line x1="604.84" y1="407.4" x2="604.84" y2="410.53"/>
<line x1="608.18" y1="407.4" x2="608.18" y2="410.53"/>
<line x1="611.52" y1="407.4" x2="611.52" y2="410.53"/>
<line x1="614.85" y1="407.4" x2="614.85" y2="410.53"/>
<line x1="618.19" y1="407.4" x2="618.19" y2="410.53"/>
<line x1="621.53" y1="407.4" x2="621.53" y2="410.53"/>
<line x1="624.86" y1="407.4" x2="624.86" y2="410.53"/>
<line x1="628.20" y1="407.4" x2="628.20" y2="410.53"/>
<line x1="631.54" y1="407.4" x2="631.54" y2="410.53"/>
<line x1="634.87" y1="407.4" x2="634.87" y2="410.53"/>
<line x1="638.21" y1="407.4" x2="638.21" y2="410.53"/>
<line x1="641.55" y1="407.4" x2="641.55" y2="410.53"/>
<line x1="644.88" y1="407.4" x2="644.88" y2="410.53"/>
<line x1="648.22" y1="407.4" x2="648.22" y2="410.53"/>
<line x1="651.56" y1="407.4" x2="651.56" y2="410.53"/>
<line x1="654.89" y1="407.4" x2="654.89" y2="410.53"/>
<line x1="658.23" y1="407.4" x2="658.23" y2="410.53"/>
<line x1="661.57" y1="407.4" x2="661.57" y2="410.53"/>
<line x1="664.90" y1="407.4" x2="664.90" y2="410.53"/>
<line x1="668.24" y1="407.4" x2="668.24" y2="410.53"/>
<line x1="671.58" y1="407.4" x2="671.58" y2="410.53"/>
<line x1="674.91" y1="407.4" x2="674.91" y2="410.53"/>
<line x1="678.25" y1="407.4" x2="678.25" y2="410.53"/>
<line x1="681.59" y1="407.4" x2="681.59" y2="410.53"/>
<line x1="684.92" y1="407.4" x2="684.92" y2="410.53"/>
<line x1="688.26" y1="407.4" x2="688.26" y2="410.53"/>
<line x1="691.60" y1="407.4" x2="691.60" y2="410.53"/>
<line x1="694.93" y1="407.4" x2="694.93" y2="410.53"/>
<line x1="698.27" y1="407.4" x2="698.27" y2="410.53"/>
<line x1="701.61" y1="407.4" x2="701.61" y2="410.53"/>
<line x1="704.94" y1="407.4" x2="704.94" y2="410.53"/>
<line x1="708.28" y1="407.4" x2="708.28" y2="410.53"/>
<line x1="711.62" y1="407.4" x2="711.62" y2="410.53"/>
<line x1="714.95" y1="407.4" x2="714.95" y2="410.53"/>
<line x1="718.29" y1="407.4" x2="718.29" y2="410.53"/>
<line x1="721.63" y1="407.4" x2="721.63" y2="410.53"/>
<line x1="724.96" y1="407.4" x2="724.96" y2="410.53"/>
<line x1="728.30" y1="407.4" x2="728.30" y2="410.53"/>
<line x1="731.64" y1="407.4" x2="731.64" y2="410.53"/>
<line x1="734.97" y1="407.4" x2="734.97" y2="410.53"/>
<line x1="738.31" y1="407.4" x2="738.31" y2="410.53"/>
<line x1="741.65" y1="407.4" x2="741.65" y2="410.53"/>
<line x1="744.98" y1="407.4" x2="744.98" y2="410.53"/>
<line x1="748.32" y1="407.4" x2="748.32" y2="410.53"/>
<line x1="751.66" y1="407.4" x2="751.66" y2="410.53"/>
<line x1="754.99" y1="407.4" x2="754.99" y2="410.53"/>
<line x1="758.33" y1="407.4" x2="758.33" y2="410.53"/>
<line x1="761.67" y1="407.4" x2="761.67" y2="410.53"/>
</g>
<text x="48.02" y="411.05" font-size="9.85" textLength="5.25" lengthAdjust="spacingAndGlyphs">0</text>
<text x="25.17" y="357.05" font-size="9.85" textLength="28.13" lengthAdjust="spacingAndGlyphs">20000</text>
<text x="25.23" y="303.05" font-size="9.85" textLength="28.07" lengthAdjust="spacingAndGlyphs">40000</text>
<text x="25.13" y="249.05" font-size="9.85" textLength="28.16" lengthAdjust="spacingAndGlyphs">60000</text>
<text x="25.19" y="195.05" font-size="9.85" textLength="28.10" lengthAdjust="spacingAndGlyphs">80000</text>
<text x="19.54" y="141.05" font-size="9.85" textLength="33.75" lengthAdjust="spacingAndGlyphs">100000</text>
<text x="19.54" y="87.05" font-size="9.85" textLength="33.75" lengthAdjust="spacingAndGlyphs">120000</text>
<text x="340.43" y="78.00" font-size="11.38" textLength="174.15" lengthAdjust="spacingAndGlyphs">max_locks_per_transaction = 32</text>
<g transform="translate(14.0,245.10) rotate(-90)">
<text x="-56.96" y="0.00" font-size="10.44" textLength="113.41" lengthAdjust="spacingAndGlyphs">Number of Wait Events</text>
</g>
<g stroke="#fff" stroke-width="0.3">
<rect x="93.00" y="508.06" width="2.67" height="253.34" fill="#4ca04c"/>
<rect x="93.00" y="477.40" width="2.67" height="30.67" fill="#ffa234"/>
<rect x="93.00" y="467.65" width="2.67" height="9.74" fill="#bd4a4e"/>
<rect x="96.34" y="507.38" width="2.67" height="254.02" fill="#4ca04c"/>
<rect x="96.34" y="478.12" width="2.67" height="29.26" fill="#ffa234"/>
<rect x="96.34" y="467.66" width="2.67" height="10.46" fill="#bd4a4e"/>
<rect x="99.67" y="508.18" width="2.67" height="253.22" fill="#4ca04c"/>
<rect x="99.67" y="477.82" width="2.67" height="30.36" fill="#ffa234"/>
<rect x="99.67" y="467.64" width="2.67" height="10.17" fill="#bd4a4e"/>
<rect x="103.01" y="507.79" width="2.67" height="253.61" fill="#4ca04c"/>
<rect x="103.01" y="477.32" width="2.67" height="30.47" fill="#ffa234"/>
<rect x="103.01" y="467.19" width="2.67" height="10.13" fill="#bd4a4e"/>
<rect x="106.35" y="507.19" width="2.67" height="254.21" fill="#4ca04c"/>
<rect x="106.35" y="477.53" width="2.67" height="29.66" fill="#ffa234"/>
<rect x="106.35" y="467.21" width="2.67" height="10.31" fill="#bd4a4e"/>
<rect x="109.68" y="507.79" width="2.67" height="253.61" fill="#4ca04c"/>
<rect x="109.68" y="477.41" width="2.67" height="30.39" fill="#ffa234"/>
<rect x="109.68" y="467.53" width="2.67" height="9.87" fill="#bd4a4e"/>
<rect x="113.02" y="507.87" width="2.67" height="253.53" fill="#4ca04c"/>
<rect x="113.02" y="477.37" width="2.67" height="30.50" fill="#ffa234"/>
<rect x="113.02" y="467.36" width="2.67" height="10.01" fill="#bd4a4e"/>
<rect x="116.36" y="507.15" width="2.67" height="254.25" fill="#4ca04c"/>
<rect x="116.36" y="477.08" width="2.67" height="30.07" fill="#ffa234"/>
<rect x="116.36" y="467.82" width="2.67" height="9.26" fill="#bd4a4e"/>
<rect x="119.69" y="507.15" width="2.67" height="254.25" fill="#4ca04c"/>
<rect x="119.69" y="477.85" width="2.67" height="29.30" fill="#ffa234"/>
<rect x="119.69" y="466.96" width="2.67" height="10.89" fill="#bd4a4e"/>
<rect x="123.03" y="507.14" width="2.67" height="254.26" fill="#4ca04c"/>
<rect x="123.03" y="476.83" width="2.67" height="30.31" fill="#ffa234"/>
<rect x="123.03" y="467.65" width="2.67" height="9.18" fill="#bd4a4e"/>
<rect x="126.37" y="508.36" width="2.67" height="253.04" fill="#4ca04c"/>
<rect x="126.37" y="477.53" width="2.67" height="30.84" fill="#ffa234"/>
<rect x="126.37" y="468.56" width="2.67" height="8.97" fill="#bd4a4e"/>
<rect x="129.70" y="508.19" width="2.67" height="253.21" fill="#4ca04c"/>
<rect x="129.70" y="478.18" width="2.67" height="30.01" fill="#ffa234"/>
<rect x="129.70" y="468.70" width="2.67" height="9.48" fill="#bd4a4e"/>
<rect x="133.04" y="507.38" width="2.67" height="254.02" fill="#4ca04c"/>
<rect x="133.04" y="476.73" width="2.67" height="30.65" fill="#ffa234"/>
<rect x="133.04" y="467.41" width="2.67" height="9.32" fill="#bd4a4e"/>
<rect x="136.38" y="507.48" width="2.67" height="253.92" fill="#4ca04c"/>
<rect x="136.38" y="477.15" width="2.67" height="30.34" fill="#ffa234"/>
<rect x="136.38" y="468.52" width="2.67" height="8.62" fill="#bd4a4e"/>
<rect x="139.71" y="507.23" width="2.67" height="254.17" fill="#4ca04c"/>
<rect x="139.71" y="476.61" width="2.67" height="30.63" fill="#ffa234"/>
<rect x="139.71" y="468.55" width="2.67" height="8.06" fill="#bd4a4e"/>
<rect x="143.05" y="507.13" width="2.67" height="254.27" fill="#4ca04c"/>
<rect x="143.05" y="477.61" width="2.67" height="29.52" fill="#ffa234"/>
<rect x="143.05" y="468.38" width="2.67" height="9.23" fill="#bd4a4e"/>
<rect x="146.39" y="507.08" width="2.67" height="254.32" fill="#4ca04c"/>
<rect x="146.39" y="476.84" width="2.67" height="30.23" fill="#ffa234"/>
<rect x="146.39" y="467.80" width="2.67" height="9.04" fill="#bd4a4e"/>
<rect x="149.72" y="507.90" width="2.67" height="253.50" fill="#4ca04c"/>
<rect x="149.72" y="477.40" width="2.67" height="30.50" fill="#ffa234"/>
<rect x="149.72" y="468.51" width="2.67" height="8.89" fill="#bd4a4e"/>
<rect x="153.06" y="508.25" width="2.67" height="253.15" fill="#4ca04c"/>
<rect x="153.06" y="477.75" width="2.67" height="30.51" fill="#ffa234"/>
<rect x="153.06" y="468.12" width="2.67" height="9.62" fill="#bd4a4e"/>
<rect x="156.40" y="508.52" width="2.67" height="252.88" fill="#4ca04c"/>
<rect x="156.40" y="477.33" width="2.67" height="31.18" fill="#ffa234"/>
<rect x="156.40" y="467.30" width="2.67" height="10.04" fill="#bd4a4e"/>
<rect x="159.73" y="508.52" width="2.67" height="252.88" fill="#4ca04c"/>
<rect x="159.73" y="477.72" width="2.67" height="30.79" fill="#ffa234"/>
<rect x="159.73" y="467.90" width="2.67" height="9.82" fill="#bd4a4e"/>
<rect x="163.07" y="507.78" width="2.67" height="253.62" fill="#4ca04c"/>
<rect x="163.07" y="478.19" width="2.67" height="29.59" fill="#ffa234"/>
<rect x="163.07" y="467.51" width="2.67" height="10.68" fill="#bd4a4e"/>
<rect x="166.41" y="507.37" width="2.67" height="254.03" fill="#4ca04c"/>
<rect x="166.41" y="476.60" width="2.67" height="30.77" fill="#ffa234"/>
<rect x="166.41" y="466.73" width="2.67" height="9.87" fill="#bd4a4e"/>
<rect x="169.74" y="508.15" width="2.67" height="253.25" fill="#4ca04c"/>
<rect x="169.74" y="478.24" width="2.67" height="29.92" fill="#ffa234"/>
<rect x="169.74" y="468.63" width="2.67" height="9.61" fill="#bd4a4e"/>
<rect x="173.08" y="508.14" width="2.67" height="253.26" fill="#4ca04c"/>
<rect x="173.08" y="478.08" width="2.67" height="30.07" fill="#ffa234"/>
<rect x="173.08" y="467.17" width="2.67" height="10.91" fill="#bd4a4e"/>
<rect x="176.42" y="507.19" width="2.67" height="254.21" fill="#4ca04c"/>
<rect x="176.42" y="476.87" width="2.67" height="30.32" fill="#ffa234"/>
<rect x="176.42" y="467.94" width="2.67" height="8.92" fill="#bd4a4e"/>
<rect x="179.75" y="508.32" width="2.67" height="253.08" fill="#4ca04c"/>
<rect x="179.75" y="476.69" width="2.67" height="31.63" fill="#ffa234"/>
<rect x="179.75" y="468.30" width="2.67" height="8.40" fill="#bd4a4e"/>
<rect x="183.09" y="507.50" width="2.67" height="253.90" fill="#4ca04c"/>
<rect x="183.09" y="478.15" width="2.67" height="29.36" fill="#ffa234"/>
<rect x="183.09" y="467.62" width="2.67" height="10.53" fill="#bd4a4e"/>
<rect x="186.43" y="507.52" width="2.67" height="253.88" fill="#4ca04c"/>
<rect x="186.43" y="477.56" width="2.67" height="29.96" fill="#ffa234"/>
<rect x="186.43" y="468.73" width="2.67" height="8.83" fill="#bd4a4e"/>
<rect x="189.76" y="507.15" width="2.67" height="254.25" fill="#4ca04c"/>
<rect x="189.76" y="477.19" width="2.67" height="29.96" fill="#ffa234"/>
<rect x="189.76" y="468.70" width="2.67" height="8.49" fill="#bd4a4e"/>
<rect x="193.10" y="508.42" width="2.67" height="252.98" fill="#4ca04c"/>
<rect x="193.10" y="476.80" width="2.67" height="31.62" fill="#ffa234"/>
<rect x="193.10" y="467.12" width="2.67" height="9.68" fill="#bd4a4e"/>
<rect x="196.44" y="507.26" width="2.67" height="254.14" fill="#4ca04c"/>
<rect x="196.44" y="477.51" width="2.67" height="29.76" fill="#ffa234"/>
<rect x="196.44" y="468.71" width="2.67" height="8.80" fill="#bd4a4e"/>
<rect x="199.77" y="507.72" width="2.67" height="253.68" fill="#4ca04c"/>
<rect x="199.77" y="476.68" width="2.67" height="31.05" fill="#ffa234"/>
<rect x="199.77" y="468.12" width="2.67" height="8.56" fill="#bd4a4e"/>
<rect x="203.11" y="508.35" width="2.67" height="253.05" fill="#4ca04c"/>
<rect x="203.11" y="477.38" width="2.67" height="30.97" fill="#ffa234"/>
<rect x="203.11" y="468.28" width="2.67" height="9.10" fill="#bd4a4e"/>
<rect x="206.45" y="508.38" width="2.67" height="253.02" fill="#4ca04c"/>
<rect x="206.45" y="478.02" width="2.67" height="30.36" fill="#ffa234"/>
<rect x="206.45" y="468.34" width="2.67" height="9.68" fill="#bd4a4e"/>
<rect x="209.78" y="508.25" width="2.67" height="253.15" fill="#4ca04c"/>
<rect x="209.78" y="477.76" width="2.67" height="30.49" fill="#ffa234"/>
<rect x="209.78" y="468.75" width="2.67" height="9.01" fill="#bd4a4e"/>
<rect x="213.12" y="507.42" width="2.67" height="253.98" fill="#4ca04c"/>
<rect x="213.12" y="477.80" width="2.67" height="29.62" fill="#ffa234"/>
<rect x="213.12" y="468.20" width="2.67" height="9.60" fill="#bd4a4e"/>
<rect x="216.46" y="508.28" width="2.67" height="253.12" fill="#4ca04c"/>
<rect x="216.46" y="477.70" width="2.67" height="30.58" fill="#ffa234"/>
<rect x="216.46" y="467.77" width="2.67" height="9.92" fill="#bd4a4e"/>
<rect x="219.79" y="508.17" width="2.67" height="253.23" fill="#4ca04c"/>
<rect x="219.79" y="478.28" width="2.67" height="29.90" fill="#ffa234"/>
<rect x="219.79" y="468.82" width="2.67" height="9.46" fill="#bd4a4e"/>
<rect x="223.13" y="507.73" width="2.67" height="253.67" fill="#4ca04c"/>
<rect x="223.13" y="477.97" width="2.67" height="29.75" fill="#ffa234"/>
<rect x="223.13" y="467.27" width="2.67" height="10.70" fill="#bd4a4e"/>
<rect x="226.47" y="507.16" width="2.67" height="254.24" fill="#4ca04c"/>
<rect x="226.47" y="478.12" width="2.67" height="29.04" fill="#ffa234"/>
<rect x="226.47" y="467.83" width="2.67" height="10.29" fill="#bd4a4e"/>
<rect x="229.80" y="507.90" width="2.67" height="253.50" fill="#4ca04c"/>
<rect x="229.80" y="477.44" width="2.67" height="30.47" fill="#ffa234"/>
<rect x="229.80" y="467.09" width="2.67" height="10.35" fill="#bd4a4e"/>
<rect x="233.14" y="507.96" width="2.67" height="253.44" fill="#4ca04c"/>
<rect x="233.14" y="477.42" width="2.67" height="30.55" fill="#ffa234"/>
<rect x="233.14" y="467.05" width="2.67" height="10.36" fill="#bd4a4e"/>
<rect x="236.48" y="507.09" width="2.67" height="254.31" fill="#4ca04c"/>
<rect x="236.48" y="477.70" width="2.67" height="29.38" fill="#ffa234"/>
<rect x="236.48" y="467.37" width="2.67" height="10.33" fill="#bd4a4e"/>
<rect x="239.81" y="507.50" width="2.67" height="253.90" fill="#4ca04c"/>
<rect x="239.81" y="477.19" width="2.67" height="30.31" fill="#ffa234"/>
<rect x="239.81" y="467.06" width="2.67" height="10.13" fill="#bd4a4e"/>
<rect x="243.15" y="508.03" width="2.67" height="253.37" fill="#4ca04c"/>
<rect x="243.15" y="478.21" width="2.67" height="29.82" fill="#ffa234"/>
<rect x="243.15" y="467.98" width="2.67" height="10.23" fill="#bd4a4e"/>
<rect x="246.49" y="508.44" width="2.67" height="252.96" fill="#4ca04c"/>
<rect x="246.49" y="477.00" width="2.67" height="31.44" fill="#ffa234"/>
<rect x="246.49" y="468.57" width="2.67" height="8.43" fill="#bd4a4e"/>
<rect x="249.82" y="508.30" width="2.67" height="253.10" fill="#4ca04c"/>
<rect x="249.82" y="478.16" width="2.67" height="30.15" fill="#ffa234"/>
<rect x="249.82" y="468.30" width="2.67" height="9.85" fill="#bd4a4e"/>
<rect x="253.16" y="507.25" width="2.67" height="254.15" fill="#4ca04c"/>
<rect x="253.16" y="477.13" width="2.67" height="30.12" fill="#ffa234"/>
<rect x="253.16" y="467.04" width="2.67" height="10.09" fill="#bd4a4e"/>
<rect x="256.50" y="508.19" width="2.67" height="253.21" fill="#4ca04c"/>
<rect x="256.50" y="477.79" width="2.67" height="30.39" fill="#ffa234"/>
<rect x="256.50" y="468.25" width="2.67" height="9.54" fill="#bd4a4e"/>
<rect x="259.83" y="508.31" width="2.67" height="253.09" fill="#4ca04c"/>
<rect x="259.83" y="477.52" width="2.67" height="30.79" fill="#ffa234"/>
<rect x="259.83" y="467.86" width="2.67" height="9.66" fill="#bd4a4e"/>
<rect x="263.17" y="507.12" width="2.67" height="254.28" fill="#4ca04c"/>
<rect x="263.17" y="476.60" width="2.67" height="30.52" fill="#ffa234"/>
<rect x="263.17" y="468.29" width="2.67" height="8.31" fill="#bd4a4e"/>
<rect x="266.51" y="508.18" width="2.67" height="253.22" fill="#4ca04c"/>
<rect x="266.51" y="476.61" width="2.67" height="31.57" fill="#ffa234"/>
<rect x="266.51" y="467.67" width="2.67" height="8.94" fill="#bd4a4e"/>
<rect x="269.84" y="508.02" width="2.67" height="253.38" fill="#4ca04c"/>
<rect x="269.84" y="478.30" width="2.67" height="29.71" fill="#ffa234"/>
<rect x="269.84" y="468.19" width="2.67" height="10.12" fill="#bd4a4e"/>
<rect x="273.18" y="507.84" width="2.67" height="253.56" fill="#4ca04c"/>
<rect x="273.18" y="477.42" width="2.67" height="30.42" fill="#ffa234"/>
<rect x="273.18" y="468.03" width="2.67" height="9.39" fill="#bd4a4e"/>
<rect x="276.52" y="507.80" width="2.67" height="253.60" fill="#4ca04c"/>
<rect x="276.52" y="478.30" width="2.67" height="29.50" fill="#ffa234"/>
<rect x="276.52" y="468.42" width="2.67" height="9.88" fill="#bd4a4e"/>
<rect x="279.85" y="508.41" width="2.67" height="252.99" fill="#4ca04c"/>
<rect x="279.85" y="477.60" width="2.67" height="30.81" fill="#ffa234"/>
<rect x="279.85" y="468.28" width="2.67" height="9.32" fill="#bd4a4e"/>
<rect x="283.19" y="508.51" width="2.67" height="252.89" fill="#4ca04c"/>
<rect x="283.19" y="477.77" width="2.67" height="30.74" fill="#ffa234"/>
<rect x="283.19" y="468.76" width="2.67" height="9.01" fill="#bd4a4e"/>
<rect x="286.53" y="507.68" width="2.67" height="253.72" fill="#4ca04c"/>
<rect x="286.53" y="477.38" width="2.67" height="30.30" fill="#ffa234"/>
<rect x="286.53" y="468.35" width="2.67" height="9.02" fill="#bd4a4e"/>
<rect x="289.86" y="507.57" width="2.67" height="253.83" fill="#4ca04c"/>
<rect x="289.86" y="477.05" width="2.67" height="30.52" fill="#ffa234"/>
<rect x="289.86" y="467.23" width="2.67" height="9.81" fill="#bd4a4e"/>
<rect x="293.20" y="620.89" width="2.67" height="140.51" fill="#4ca04c"/>
<rect x="293.20" y="583.96" width="2.67" height="36.93" fill="#ffa234"/>
<rect x="293.20" y="573.56" width="2.67" height="10.40" fill="#bd4a4e"/>
<rect x="293.20" y="466.96" width="2.67" height="106.61" fill="#ff2a2a"/>
<rect x="296.54" y="622.57" width="2.67" height="138.83" fill="#4ca04c"/>
<rect x="296.54" y="585.25" width="2.67" height="37.33" fill="#ffa234"/>
<rect x="296.54" y="575.74" width="2.67" height="9.50" fill="#bd4a4e"/>
<rect x="296.54" y="468.01" width="2.67" height="107.73" fill="#ff2a2a"/>
<rect x="299.87" y="620.89" width="2.67" height="140.51" fill="#4ca04c"/>
<rect x="299.87" y="583.96" width="2.67" height="36.93" fill="#ffa234"/>
<rect x="299.87" y="573.56" width="2.67" height="10.40" fill="#bd4a4e"/>
<rect x="299.87" y="468.15" width="2.67" height="105.41" fill="#ff2a2a"/>
<rect x="303.21" y="617.62" width="2.67" height="143.78" fill="#4ca04c"/>
<rect x="303.21" y="580.50" width="2.67" height="37.13" fill="#ffa234"/>
<rect x="303.21" y="570.59" width="2.67" height="9.90" fill="#bd4a4e"/>
<rect x="303.21" y="466.73" width="2.67" height="103.87" fill="#ff2a2a"/>
<rect x="306.55" y="592.57" width="2.67" height="168.83" fill="#4ca04c"/>
<rect x="306.55" y="557.52" width="2.67" height="35.05" fill="#ffa234"/>
<rect x="306.55" y="547.82" width="2.67" height="9.70" fill="#bd4a4e"/>
<rect x="306.55" y="468.53" width="2.67" height="79.29" fill="#ff2a2a"/>
<rect x="309.88" y="590.89" width="2.67" height="170.51" fill="#4ca04c"/>
<rect x="309.88" y="556.24" width="2.67" height="34.65" fill="#ffa234"/>
<rect x="309.88" y="546.83" width="2.67" height="9.41" fill="#bd4a4e"/>
<rect x="309.88" y="467.29" width="2.67" height="79.54" fill="#ff2a2a"/>
<rect x="313.22" y="582.97" width="2.67" height="178.43" fill="#4ca04c"/>
<rect x="313.22" y="550.30" width="2.67" height="32.67" fill="#ffa234"/>
<rect x="313.22" y="540.69" width="2.67" height="9.60" fill="#bd4a4e"/>
<rect x="313.22" y="467.47" width="2.67" height="73.23" fill="#ff2a2a"/>
<rect x="316.56" y="584.26" width="2.67" height="177.14" fill="#4ca04c"/>
<rect x="316.56" y="550.30" width="2.67" height="33.96" fill="#ffa234"/>
<rect x="316.56" y="540.69" width="2.67" height="9.60" fill="#bd4a4e"/>
<rect x="316.56" y="468.76" width="2.67" height="71.93" fill="#ff2a2a"/>
<rect x="319.89" y="581.29" width="2.67" height="180.11" fill="#4ca04c"/>
<rect x="319.89" y="548.32" width="2.67" height="32.97" fill="#ffa234"/>
<rect x="319.89" y="538.42" width="2.67" height="9.90" fill="#bd4a4e"/>
<rect x="319.89" y="467.05" width="2.67" height="71.37" fill="#ff2a2a"/>
<rect x="323.23" y="582.97" width="2.67" height="178.43" fill="#4ca04c"/>
<rect x="323.23" y="547.62" width="2.67" height="35.35" fill="#ffa234"/>
<rect x="323.23" y="537.43" width="2.67" height="10.20" fill="#bd4a4e"/>
<rect x="323.23" y="466.93" width="2.67" height="70.50" fill="#ff2a2a"/>
<rect x="326.57" y="591.88" width="2.67" height="169.52" fill="#4ca04c"/>
<rect x="326.57" y="557.23" width="2.67" height="34.65" fill="#ffa234"/>
<rect x="326.57" y="547.33" width="2.67" height="9.90" fill="#bd4a4e"/>
<rect x="326.57" y="467.50" width="2.67" height="79.83" fill="#ff2a2a"/>
<rect x="329.90" y="600.30" width="2.67" height="161.10" fill="#4ca04c"/>
<rect x="329.90" y="565.45" width="2.67" height="34.85" fill="#ffa234"/>
<rect x="329.90" y="555.54" width="2.67" height="9.90" fill="#bd4a4e"/>
<rect x="329.90" y="467.27" width="2.67" height="88.27" fill="#ff2a2a"/>
<rect x="333.24" y="626.04" width="2.67" height="135.36" fill="#4ca04c"/>
<rect x="333.24" y="589.41" width="2.67" height="36.63" fill="#ffa234"/>
<rect x="333.24" y="579.50" width="2.67" height="9.90" fill="#bd4a4e"/>
<rect x="333.24" y="467.10" width="2.67" height="112.40" fill="#ff2a2a"/>
<rect x="336.58" y="618.91" width="2.67" height="142.49" fill="#4ca04c"/>
<rect x="336.58" y="581.98" width="2.67" height="36.93" fill="#ffa234"/>
<rect x="336.58" y="572.08" width="2.67" height="9.90" fill="#bd4a4e"/>
<rect x="336.58" y="468.55" width="2.67" height="103.53" fill="#ff2a2a"/>
<rect x="339.91" y="620.10" width="2.67" height="141.30" fill="#4ca04c"/>
<rect x="339.91" y="581.49" width="2.67" height="38.61" fill="#ffa234"/>
<rect x="339.91" y="571.39" width="2.67" height="10.10" fill="#bd4a4e"/>
<rect x="339.91" y="467.72" width="2.67" height="103.66" fill="#ff2a2a"/>
<rect x="343.25" y="620.89" width="2.67" height="140.51" fill="#4ca04c"/>
<rect x="343.25" y="584.26" width="2.67" height="36.63" fill="#ffa234"/>
<rect x="343.25" y="574.55" width="2.67" height="9.70" fill="#bd4a4e"/>
<rect x="343.25" y="467.77" width="2.67" height="106.79" fill="#ff2a2a"/>
<rect x="346.59" y="627.52" width="2.67" height="133.88" fill="#4ca04c"/>
<rect x="346.59" y="588.61" width="2.67" height="38.91" fill="#ffa234"/>
<rect x="346.59" y="579.01" width="2.67" height="9.60" fill="#bd4a4e"/>
<rect x="346.59" y="467.05" width="2.67" height="111.96" fill="#ff2a2a"/>
<rect x="349.92" y="635.74" width="2.67" height="125.66" fill="#4ca04c"/>
<rect x="349.92" y="597.52" width="2.67" height="38.22" fill="#ffa234"/>
<rect x="349.92" y="587.43" width="2.67" height="10.10" fill="#bd4a4e"/>
<rect x="349.92" y="467.12" width="2.67" height="120.31" fill="#ff2a2a"/>
<rect x="353.26" y="635.74" width="2.67" height="125.66" fill="#4ca04c"/>
<rect x="353.26" y="597.13" width="2.67" height="38.61" fill="#ffa234"/>
<rect x="353.26" y="587.23" width="2.67" height="9.90" fill="#bd4a4e"/>
<rect x="353.26" y="467.07" width="2.67" height="120.16" fill="#ff2a2a"/>
<rect x="356.60" y="635.74" width="2.67" height="125.66" fill="#4ca04c"/>
<rect x="356.60" y="596.83" width="2.67" height="38.91" fill="#ffa234"/>
<rect x="356.60" y="586.93" width="2.67" height="9.90" fill="#bd4a4e"/>
<rect x="356.60" y="467.59" width="2.67" height="119.34" fill="#ff2a2a"/>
<rect x="359.93" y="635.74" width="2.67" height="125.66" fill="#4ca04c"/>
<rect x="359.93" y="598.12" width="2.67" height="37.62" fill="#ffa234"/>
<rect x="359.93" y="588.42" width="2.67" height="9.70" fill="#bd4a4e"/>
<rect x="359.93" y="466.93" width="2.67" height="121.49" fill="#ff2a2a"/>
<rect x="363.27" y="641.68" width="2.67" height="119.72" fill="#4ca04c"/>
<rect x="363.27" y="602.28" width="2.67" height="39.41" fill="#ffa234"/>
<rect x="363.27" y="592.57" width="2.67" height="9.70" fill="#bd4a4e"/>
<rect x="363.27" y="467.38" width="2.67" height="125.19" fill="#ff2a2a"/>
<rect x="366.61" y="642.67" width="2.67" height="118.73" fill="#4ca04c"/>
<rect x="366.61" y="604.46" width="2.67" height="38.22" fill="#ffa234"/>
<rect x="366.61" y="594.85" width="2.67" height="9.60" fill="#bd4a4e"/>
<rect x="366.61" y="467.36" width="2.67" height="127.49" fill="#ff2a2a"/>
<rect x="369.94" y="643.37" width="2.67" height="118.03" fill="#4ca04c"/>
<rect x="369.94" y="603.76" width="2.67" height="39.60" fill="#ffa234"/>
<rect x="369.94" y="593.86" width="2.67" height="9.90" fill="#bd4a4e"/>
<rect x="369.94" y="468.36" width="2.67" height="125.50" fill="#ff2a2a"/>
<rect x="373.28" y="648.81" width="2.67" height="112.59" fill="#4ca04c"/>
<rect x="373.28" y="609.21" width="2.67" height="39.60" fill="#ffa234"/>
<rect x="373.28" y="599.80" width="2.67" height="9.41" fill="#bd4a4e"/>
<rect x="373.28" y="468.79" width="2.67" height="131.01" fill="#ff2a2a"/>
<rect x="376.62" y="645.84" width="2.67" height="115.56" fill="#4ca04c"/>
<rect x="376.62" y="607.23" width="2.67" height="38.61" fill="#ffa234"/>
<rect x="376.62" y="597.82" width="2.67" height="9.41" fill="#bd4a4e"/>
<rect x="376.62" y="468.57" width="2.67" height="129.25" fill="#ff2a2a"/>
<rect x="379.95" y="647.82" width="2.67" height="113.58" fill="#4ca04c"/>
<rect x="379.95" y="608.22" width="2.67" height="39.60" fill="#ffa234"/>
<rect x="379.95" y="598.32" width="2.67" height="9.90" fill="#bd4a4e"/>
<rect x="379.95" y="468.08" width="2.67" height="130.24" fill="#ff2a2a"/>
<rect x="383.29" y="646.34" width="2.67" height="115.06" fill="#4ca04c"/>
<rect x="383.29" y="607.03" width="2.67" height="39.31" fill="#ffa234"/>
<rect x="383.29" y="597.33" width="2.67" height="9.70" fill="#bd4a4e"/>
<rect x="383.29" y="468.63" width="2.67" height="128.70" fill="#ff2a2a"/>
<rect x="386.63" y="646.24" width="2.67" height="115.16" fill="#4ca04c"/>
<rect x="386.63" y="608.12" width="2.67" height="38.12" fill="#ffa234"/>
<rect x="386.63" y="598.71" width="2.67" height="9.41" fill="#bd4a4e"/>
<rect x="386.63" y="467.05" width="2.67" height="131.66" fill="#ff2a2a"/>
<rect x="389.96" y="650.69" width="2.67" height="110.71" fill="#4ca04c"/>
<rect x="389.96" y="610.79" width="2.67" height="39.90" fill="#ffa234"/>
<rect x="389.96" y="601.49" width="2.67" height="9.31" fill="#bd4a4e"/>
<rect x="389.96" y="467.65" width="2.67" height="133.84" fill="#ff2a2a"/>
<rect x="393.30" y="648.22" width="2.67" height="113.18" fill="#4ca04c"/>
<rect x="393.30" y="608.61" width="2.67" height="39.60" fill="#ffa234"/>
<rect x="393.30" y="599.21" width="2.67" height="9.41" fill="#bd4a4e"/>
<rect x="393.30" y="467.50" width="2.67" height="131.71" fill="#ff2a2a"/>
<rect x="396.64" y="649.21" width="2.67" height="112.19" fill="#4ca04c"/>
<rect x="396.64" y="609.60" width="2.67" height="39.60" fill="#ffa234"/>
<rect x="396.64" y="600.20" width="2.67" height="9.41" fill="#bd4a4e"/>
<rect x="396.64" y="467.50" width="2.67" height="132.70" fill="#ff2a2a"/>
<rect x="399.97" y="645.74" width="2.67" height="115.66" fill="#4ca04c"/>
<rect x="399.97" y="607.43" width="2.67" height="38.32" fill="#ffa234"/>
<rect x="399.97" y="597.72" width="2.67" height="9.70" fill="#bd4a4e"/>
<rect x="399.97" y="467.38" width="2.67" height="130.34" fill="#ff2a2a"/>
<rect x="403.31" y="643.07" width="2.67" height="118.33" fill="#4ca04c"/>
<rect x="403.31" y="605.15" width="2.67" height="37.92" fill="#ffa234"/>
<rect x="403.31" y="595.54" width="2.67" height="9.60" fill="#bd4a4e"/>
<rect x="403.31" y="467.80" width="2.67" height="127.75" fill="#ff2a2a"/>
<rect x="406.65" y="643.47" width="2.67" height="117.93" fill="#4ca04c"/>
<rect x="406.65" y="604.65" width="2.67" height="38.81" fill="#ffa234"/>
<rect x="406.65" y="594.75" width="2.67" height="9.90" fill="#bd4a4e"/>
<rect x="406.65" y="468.85" width="2.67" height="125.90" fill="#ff2a2a"/>
<rect x="409.98" y="643.07" width="2.67" height="118.33" fill="#4ca04c"/>
<rect x="409.98" y="605.15" width="2.67" height="37.92" fill="#ffa234"/>
<rect x="409.98" y="595.94" width="2.67" height="9.21" fill="#bd4a4e"/>
<rect x="409.98" y="467.13" width="2.67" height="128.81" fill="#ff2a2a"/>
<rect x="413.32" y="645.74" width="2.67" height="115.66" fill="#4ca04c"/>
<rect x="413.32" y="607.43" width="2.67" height="38.32" fill="#ffa234"/>
<rect x="413.32" y="597.72" width="2.67" height="9.70" fill="#bd4a4e"/>
<rect x="413.32" y="467.24" width="2.67" height="130.48" fill="#ff2a2a"/>
<rect x="416.66" y="643.76" width="2.67" height="117.64" fill="#4ca04c"/>
<rect x="416.66" y="605.64" width="2.67" height="38.12" fill="#ffa234"/>
<rect x="416.66" y="595.94" width="2.67" height="9.70" fill="#bd4a4e"/>
<rect x="416.66" y="467.77" width="2.67" height="128.17" fill="#ff2a2a"/>
<rect x="419.99" y="647.03" width="2.67" height="114.37" fill="#4ca04c"/>
<rect x="419.99" y="607.43" width="2.67" height="39.60" fill="#ffa234"/>
<rect x="419.99" y="597.92" width="2.67" height="9.50" fill="#bd4a4e"/>
<rect x="419.99" y="467.70" width="2.67" height="130.22" fill="#ff2a2a"/>
<rect x="423.33" y="644.75" width="2.67" height="116.65" fill="#4ca04c"/>
<rect x="423.33" y="606.44" width="2.67" height="38.32" fill="#ffa234"/>
<rect x="423.33" y="596.73" width="2.67" height="9.70" fill="#bd4a4e"/>
<rect x="423.33" y="467.43" width="2.67" height="129.30" fill="#ff2a2a"/>
<rect x="426.67" y="644.26" width="2.67" height="117.14" fill="#4ca04c"/>
<rect x="426.67" y="606.63" width="2.67" height="37.62" fill="#ffa234"/>
<rect x="426.67" y="597.23" width="2.67" height="9.41" fill="#bd4a4e"/>
<rect x="426.67" y="468.71" width="2.67" height="128.52" fill="#ff2a2a"/>
<rect x="430.00" y="642.77" width="2.67" height="118.63" fill="#4ca04c"/>
<rect x="430.00" y="605.15" width="2.67" height="37.62" fill="#ffa234"/>
<rect x="430.00" y="595.54" width="2.67" height="9.60" fill="#bd4a4e"/>
<rect x="430.00" y="467.26" width="2.67" height="128.28" fill="#ff2a2a"/>
<rect x="433.34" y="642.77" width="2.67" height="118.63" fill="#4ca04c"/>
<rect x="433.34" y="604.65" width="2.67" height="38.12" fill="#ffa234"/>
<rect x="433.34" y="594.55" width="2.67" height="10.10" fill="#bd4a4e"/>
<rect x="433.34" y="468.31" width="2.67" height="126.24" fill="#ff2a2a"/>
<rect x="436.68" y="643.76" width="2.67" height="117.64" fill="#4ca04c"/>
<rect x="436.68" y="605.64" width="2.67" height="38.12" fill="#ffa234"/>
<rect x="436.68" y="596.24" width="2.67" height="9.41" fill="#bd4a4e"/>
<rect x="436.68" y="468.69" width="2.67" height="127.54" fill="#ff2a2a"/>
<rect x="440.01" y="643.47" width="2.67" height="117.93" fill="#4ca04c"/>
<rect x="440.01" y="606.14" width="2.67" height="37.33" fill="#ffa234"/>
<rect x="440.01" y="596.73" width="2.67" height="9.41" fill="#bd4a4e"/>
<rect x="440.01" y="468.28" width="2.67" height="128.45" fill="#ff2a2a"/>
<rect x="443.35" y="644.75" width="2.67" height="116.65" fill="#4ca04c"/>
<rect x="443.35" y="606.63" width="2.67" height="38.12" fill="#ffa234"/>
<rect x="443.35" y="596.93" width="2.67" height="9.70" fill="#bd4a4e"/>
<rect x="443.35" y="467.28" width="2.67" height="129.65" fill="#ff2a2a"/>
<rect x="446.69" y="644.75" width="2.67" height="116.65" fill="#4ca04c"/>
<rect x="446.69" y="607.13" width="2.67" height="37.62" fill="#ffa234"/>
<rect x="446.69" y="597.52" width="2.67" height="9.60" fill="#bd4a4e"/>
<rect x="446.69" y="468.41" width="2.67" height="129.11" fill="#ff2a2a"/>
<rect x="450.02" y="643.27" width="2.67" height="118.13" fill="#4ca04c"/>
<rect x="450.02" y="606.14" width="2.67" height="37.13" fill="#ffa234"/>
<rect x="450.02" y="596.73" width="2.67" height="9.41" fill="#bd4a4e"/>
<rect x="450.02" y="467.26" width="2.67" height="129.48" fill="#ff2a2a"/>
<rect x="453.36" y="643.07" width="2.67" height="118.33" fill="#4ca04c"/>
<rect x="453.36" y="605.84" width="2.67" height="37.23" fill="#ffa234"/>
<rect x="453.36" y="596.24" width="2.67" height="9.60" fill="#bd4a4e"/>
<rect x="453.36" y="466.75" width="2.67" height="129.49" fill="#ff2a2a"/>
<rect x="456.70" y="643.07" width="2.67" height="118.33" fill="#4ca04c"/>
<rect x="456.70" y="606.14" width="2.67" height="36.93" fill="#ffa234"/>
<rect x="456.70" y="596.53" width="2.67" height="9.60" fill="#bd4a4e"/>
<rect x="456.70" y="467.79" width="2.67" height="128.75" fill="#ff2a2a"/>
<rect x="460.03" y="643.76" width="2.67" height="117.64" fill="#4ca04c"/>
<rect x="460.03" y="605.15" width="2.67" height="38.61" fill="#ffa234"/>
<rect x="460.03" y="595.54" width="2.67" height="9.60" fill="#bd4a4e"/>
<rect x="460.03" y="468.03" width="2.67" height="127.52" fill="#ff2a2a"/>
<rect x="463.37" y="644.75" width="2.67" height="116.65" fill="#4ca04c"/>
<rect x="463.37" y="606.63" width="2.67" height="38.12" fill="#ffa234"/>
<rect x="463.37" y="596.73" width="2.67" height="9.90" fill="#bd4a4e"/>
<rect x="463.37" y="467.82" width="2.67" height="128.91" fill="#ff2a2a"/>
<rect x="466.71" y="644.06" width="2.67" height="117.34" fill="#4ca04c"/>
<rect x="466.71" y="607.43" width="2.67" height="36.63" fill="#ffa234"/>
<rect x="466.71" y="597.72" width="2.67" height="9.70" fill="#bd4a4e"/>
<rect x="466.71" y="467.38" width="2.67" height="130.34" fill="#ff2a2a"/>
<rect x="470.04" y="645.74" width="2.67" height="115.66" fill="#4ca04c"/>
<rect x="470.04" y="608.12" width="2.67" height="37.62" fill="#ffa234"/>
<rect x="470.04" y="598.71" width="2.67" height="9.41" fill="#bd4a4e"/>
<rect x="470.04" y="467.20" width="2.67" height="131.51" fill="#ff2a2a"/>
<rect x="473.38" y="644.46" width="2.67" height="116.94" fill="#4ca04c"/>
<rect x="473.38" y="606.14" width="2.67" height="38.32" fill="#ffa234"/>
<rect x="473.38" y="596.73" width="2.67" height="9.41" fill="#bd4a4e"/>
<rect x="473.38" y="467.52" width="2.67" height="129.21" fill="#ff2a2a"/>
<rect x="476.72" y="644.75" width="2.67" height="116.65" fill="#4ca04c"/>
<rect x="476.72" y="607.13" width="2.67" height="37.62" fill="#ffa234"/>
<rect x="476.72" y="597.72" width="2.67" height="9.41" fill="#bd4a4e"/>
<rect x="476.72" y="467.47" width="2.67" height="130.26" fill="#ff2a2a"/>
<rect x="480.05" y="644.06" width="2.67" height="117.34" fill="#4ca04c"/>
<rect x="480.05" y="607.43" width="2.67" height="36.63" fill="#ffa234"/>
<rect x="480.05" y="597.72" width="2.67" height="9.70" fill="#bd4a4e"/>
<rect x="480.05" y="468.69" width="2.67" height="129.04" fill="#ff2a2a"/>
<rect x="483.39" y="646.04" width="2.67" height="115.36" fill="#4ca04c"/>
<rect x="483.39" y="608.42" width="2.67" height="37.62" fill="#ffa234"/>
<rect x="483.39" y="598.91" width="2.67" height="9.50" fill="#bd4a4e"/>
<rect x="483.39" y="468.54" width="2.67" height="130.37" fill="#ff2a2a"/>
<rect x="486.73" y="644.85" width="2.67" height="116.55" fill="#4ca04c"/>
<rect x="486.73" y="607.52" width="2.67" height="37.33" fill="#ffa234"/>
<rect x="486.73" y="597.82" width="2.67" height="9.70" fill="#bd4a4e"/>
<rect x="486.73" y="468.31" width="2.67" height="129.52" fill="#ff2a2a"/>
<rect x="490.06" y="650.79" width="2.67" height="110.61" fill="#4ca04c"/>
<rect x="490.06" y="612.18" width="2.67" height="38.61" fill="#ffa234"/>
<rect x="490.06" y="602.57" width="2.67" height="9.60" fill="#bd4a4e"/>
<rect x="490.06" y="467.25" width="2.67" height="135.32" fill="#ff2a2a"/>
<rect x="493.40" y="651.78" width="2.67" height="109.62" fill="#4ca04c"/>
<rect x="493.40" y="613.17" width="2.67" height="38.61" fill="#ffa234"/>
<rect x="493.40" y="603.56" width="2.67" height="9.60" fill="#bd4a4e"/>
<rect x="493.40" y="468.20" width="2.67" height="135.37" fill="#ff2a2a"/>
<rect x="496.74" y="652.08" width="2.67" height="109.32" fill="#4ca04c"/>
<rect x="496.74" y="613.17" width="2.67" height="38.91" fill="#ffa234"/>
<rect x="496.74" y="603.56" width="2.67" height="9.60" fill="#bd4a4e"/>
<rect x="496.74" y="467.63" width="2.67" height="135.94" fill="#ff2a2a"/>
<rect x="500.07" y="652.08" width="2.67" height="109.32" fill="#4ca04c"/>
<rect x="500.07" y="613.47" width="2.67" height="38.61" fill="#ffa234"/>
<rect x="500.07" y="603.96" width="2.67" height="9.50" fill="#bd4a4e"/>
<rect x="500.07" y="468.83" width="2.67" height="135.13" fill="#ff2a2a"/>
<rect x="503.41" y="650.10" width="2.67" height="111.30" fill="#4ca04c"/>
<rect x="503.41" y="611.88" width="2.67" height="38.22" fill="#ffa234"/>
<rect x="503.41" y="602.28" width="2.67" height="9.60" fill="#bd4a4e"/>
<rect x="503.41" y="468.72" width="2.67" height="133.55" fill="#ff2a2a"/>
<rect x="506.75" y="649.31" width="2.67" height="112.09" fill="#4ca04c"/>
<rect x="506.75" y="611.19" width="2.67" height="38.12" fill="#ffa234"/>
<rect x="506.75" y="601.58" width="2.67" height="9.60" fill="#bd4a4e"/>
<rect x="506.75" y="468.27" width="2.67" height="133.31" fill="#ff2a2a"/>
<rect x="510.08" y="645.84" width="2.67" height="115.56" fill="#4ca04c"/>
<rect x="510.08" y="608.51" width="2.67" height="37.33" fill="#ffa234"/>
<rect x="510.08" y="598.61" width="2.67" height="9.90" fill="#bd4a4e"/>
<rect x="510.08" y="467.40" width="2.67" height="131.21" fill="#ff2a2a"/>
<rect x="513.42" y="648.12" width="2.67" height="113.28" fill="#4ca04c"/>
<rect x="513.42" y="611.88" width="2.67" height="36.24" fill="#ffa234"/>
<rect x="513.42" y="602.28" width="2.67" height="9.60" fill="#bd4a4e"/>
<rect x="513.42" y="467.36" width="2.67" height="134.92" fill="#ff2a2a"/>
<rect x="516.75" y="648.51" width="2.67" height="112.89" fill="#4ca04c"/>
<rect x="516.75" y="610.89" width="2.67" height="37.62" fill="#ffa234"/>
<rect x="516.75" y="601.29" width="2.67" height="9.60" fill="#bd4a4e"/>
<rect x="516.75" y="467.40" width="2.67" height="133.89" fill="#ff2a2a"/>
<rect x="520.09" y="655.74" width="2.67" height="105.66" fill="#4ca04c"/>
<rect x="520.09" y="617.62" width="2.67" height="38.12" fill="#ffa234"/>
<rect x="520.09" y="607.92" width="2.67" height="9.70" fill="#bd4a4e"/>
<rect x="520.09" y="468.23" width="2.67" height="139.69" fill="#ff2a2a"/>
<rect x="523.43" y="654.75" width="2.67" height="106.65" fill="#4ca04c"/>
<rect x="523.43" y="615.45" width="2.67" height="39.31" fill="#ffa234"/>
<rect x="523.43" y="605.54" width="2.67" height="9.90" fill="#bd4a4e"/>
<rect x="523.43" y="467.74" width="2.67" height="137.81" fill="#ff2a2a"/>
<rect x="526.76" y="656.04" width="2.67" height="105.36" fill="#4ca04c"/>
<rect x="526.76" y="618.12" width="2.67" height="37.92" fill="#ffa234"/>
<rect x="526.76" y="608.51" width="2.67" height="9.60" fill="#bd4a4e"/>
<rect x="526.76" y="467.85" width="2.67" height="140.66" fill="#ff2a2a"/>
<rect x="530.10" y="657.72" width="2.67" height="103.68" fill="#4ca04c"/>
<rect x="530.10" y="618.61" width="2.67" height="39.11" fill="#ffa234"/>
<rect x="530.10" y="608.91" width="2.67" height="9.70" fill="#bd4a4e"/>
<rect x="530.10" y="467.85" width="2.67" height="141.06" fill="#ff2a2a"/>
<rect x="533.44" y="656.73" width="2.67" height="104.67" fill="#4ca04c"/>
<rect x="533.44" y="618.12" width="2.67" height="38.61" fill="#ffa234"/>
<rect x="533.44" y="608.51" width="2.67" height="9.60" fill="#bd4a4e"/>
<rect x="533.44" y="468.60" width="2.67" height="139.92" fill="#ff2a2a"/>
<rect x="536.77" y="656.04" width="2.67" height="105.36" fill="#4ca04c"/>
<rect x="536.77" y="617.82" width="2.67" height="38.22" fill="#ffa234"/>
<rect x="536.77" y="607.92" width="2.67" height="9.90" fill="#bd4a4e"/>
<rect x="536.77" y="466.92" width="2.67" height="141.00" fill="#ff2a2a"/>
<rect x="540.11" y="654.75" width="2.67" height="106.65" fill="#4ca04c"/>
<rect x="540.11" y="616.14" width="2.67" height="38.61" fill="#ffa234"/>
<rect x="540.11" y="606.24" width="2.67" height="9.90" fill="#bd4a4e"/>
<rect x="540.11" y="468.42" width="2.67" height="137.81" fill="#ff2a2a"/>
<rect x="543.45" y="658.42" width="2.67" height="102.98" fill="#4ca04c"/>
<rect x="543.45" y="619.60" width="2.67" height="38.81" fill="#ffa234"/>
<rect x="543.45" y="610.20" width="2.67" height="9.41" fill="#bd4a4e"/>
<rect x="543.45" y="466.74" width="2.67" height="143.46" fill="#ff2a2a"/>
<rect x="546.78" y="655.74" width="2.67" height="105.66" fill="#4ca04c"/>
<rect x="546.78" y="618.12" width="2.67" height="37.62" fill="#ffa234"/>
<rect x="546.78" y="608.51" width="2.67" height="9.60" fill="#bd4a4e"/>
<rect x="546.78" y="466.83" width="2.67" height="141.68" fill="#ff2a2a"/>
<rect x="550.12" y="654.75" width="2.67" height="106.65" fill="#4ca04c"/>
<rect x="550.12" y="616.14" width="2.67" height="38.61" fill="#ffa234"/>
<rect x="550.12" y="606.24" width="2.67" height="9.90" fill="#bd4a4e"/>
<rect x="550.12" y="468.82" width="2.67" height="137.42" fill="#ff2a2a"/>
<rect x="553.46" y="657.72" width="2.67" height="103.68" fill="#4ca04c"/>
<rect x="553.46" y="619.41" width="2.67" height="38.32" fill="#ffa234"/>
<rect x="553.46" y="609.50" width="2.67" height="9.90" fill="#bd4a4e"/>
<rect x="553.46" y="467.86" width="2.67" height="141.64" fill="#ff2a2a"/>
<rect x="556.79" y="655.74" width="2.67" height="105.66" fill="#4ca04c"/>
<rect x="556.79" y="617.43" width="2.67" height="38.32" fill="#ffa234"/>
<rect x="556.79" y="607.72" width="2.67" height="9.70" fill="#bd4a4e"/>
<rect x="556.79" y="467.08" width="2.67" height="140.64" fill="#ff2a2a"/>
<rect x="560.13" y="656.24" width="2.67" height="105.16" fill="#4ca04c"/>
<rect x="560.13" y="618.12" width="2.67" height="38.12" fill="#ffa234"/>
<rect x="560.13" y="608.71" width="2.67" height="9.41" fill="#bd4a4e"/>
<rect x="560.13" y="466.76" width="2.67" height="141.95" fill="#ff2a2a"/>
<rect x="563.47" y="656.44" width="2.67" height="104.96" fill="#4ca04c"/>
<rect x="563.47" y="618.12" width="2.67" height="38.32" fill="#ffa234"/>
<rect x="563.47" y="608.71" width="2.67" height="9.41" fill="#bd4a4e"/>
<rect x="563.47" y="467.88" width="2.67" height="140.83" fill="#ff2a2a"/>
<rect x="566.80" y="659.70" width="2.67" height="101.70" fill="#4ca04c"/>
<rect x="566.80" y="621.09" width="2.67" height="38.61" fill="#ffa234"/>
<rect x="566.80" y="611.49" width="2.67" height="9.60" fill="#bd4a4e"/>
<rect x="566.80" y="468.27" width="2.67" height="143.21" fill="#ff2a2a"/>
<rect x="570.14" y="659.01" width="2.67" height="102.39" fill="#4ca04c"/>
<rect x="570.14" y="621.39" width="2.67" height="37.62" fill="#ffa234"/>
<rect x="570.14" y="611.49" width="2.67" height="9.90" fill="#bd4a4e"/>
<rect x="570.14" y="468.40" width="2.67" height="143.08" fill="#ff2a2a"/>
<rect x="573.48" y="659.01" width="2.67" height="102.39" fill="#4ca04c"/>
<rect x="573.48" y="620.59" width="2.67" height="38.42" fill="#ffa234"/>
<rect x="573.48" y="610.89" width="2.67" height="9.70" fill="#bd4a4e"/>
<rect x="573.48" y="466.81" width="2.67" height="144.08" fill="#ff2a2a"/>
<rect x="576.81" y="663.66" width="2.67" height="97.74" fill="#4ca04c"/>
<rect x="576.81" y="625.05" width="2.67" height="38.61" fill="#ffa234"/>
<rect x="576.81" y="615.45" width="2.67" height="9.60" fill="#bd4a4e"/>
<rect x="576.81" y="468.40" width="2.67" height="147.05" fill="#ff2a2a"/>
<rect x="580.15" y="659.70" width="2.67" height="101.70" fill="#4ca04c"/>
<rect x="580.15" y="620.40" width="2.67" height="39.31" fill="#ffa234"/>
<rect x="580.15" y="610.50" width="2.67" height="9.90" fill="#bd4a4e"/>
<rect x="580.15" y="467.60" width="2.67" height="142.90" fill="#ff2a2a"/>
<rect x="583.49" y="662.67" width="2.67" height="98.73" fill="#4ca04c"/>
<rect x="583.49" y="623.76" width="2.67" height="38.91" fill="#ffa234"/>
<rect x="583.49" y="614.16" width="2.67" height="9.60" fill="#bd4a4e"/>
<rect x="583.49" y="468.55" width="2.67" height="145.61" fill="#ff2a2a"/>
<rect x="586.82" y="665.05" width="2.67" height="96.35" fill="#4ca04c"/>
<rect x="586.82" y="626.83" width="2.67" height="38.22" fill="#ffa234"/>
<rect x="586.82" y="617.23" width="2.67" height="9.60" fill="#bd4a4e"/>
<rect x="586.82" y="467.72" width="2.67" height="149.50" fill="#ff2a2a"/>
<rect x="590.16" y="665.45" width="2.67" height="95.95" fill="#4ca04c"/>
<rect x="590.16" y="626.44" width="2.67" height="39.01" fill="#ffa234"/>
<rect x="590.16" y="616.73" width="2.67" height="9.70" fill="#bd4a4e"/>
<rect x="590.16" y="466.80" width="2.67" height="149.94" fill="#ff2a2a"/>
<rect x="593.50" y="669.01" width="2.67" height="92.39" fill="#4ca04c"/>
<rect x="593.50" y="629.11" width="2.67" height="39.90" fill="#ffa234"/>
<rect x="593.50" y="619.21" width="2.67" height="9.90" fill="#bd4a4e"/>
<rect x="593.50" y="468.57" width="2.67" height="150.64" fill="#ff2a2a"/>
<rect x="596.83" y="664.46" width="2.67" height="96.94" fill="#4ca04c"/>
<rect x="596.83" y="625.84" width="2.67" height="38.61" fill="#ffa234"/>
<rect x="596.83" y="616.24" width="2.67" height="9.60" fill="#bd4a4e"/>
<rect x="596.83" y="467.08" width="2.67" height="149.15" fill="#ff2a2a"/>
<rect x="600.17" y="666.04" width="2.67" height="95.36" fill="#4ca04c"/>
<rect x="600.17" y="627.13" width="2.67" height="38.91" fill="#ffa234"/>
<rect x="600.17" y="617.52" width="2.67" height="9.60" fill="#bd4a4e"/>
<rect x="600.17" y="467.76" width="2.67" height="149.77" fill="#ff2a2a"/>
<rect x="603.51" y="665.74" width="2.67" height="95.66" fill="#4ca04c"/>
<rect x="603.51" y="627.13" width="2.67" height="38.61" fill="#ffa234"/>
<rect x="603.51" y="617.23" width="2.67" height="9.90" fill="#bd4a4e"/>
<rect x="603.51" y="466.94" width="2.67" height="150.29" fill="#ff2a2a"/>
<rect x="606.84" y="663.07" width="2.67" height="98.33" fill="#4ca04c"/>
<rect x="606.84" y="624.16" width="2.67" height="38.91" fill="#ffa234"/>
<rect x="606.84" y="614.55" width="2.67" height="9.60" fill="#bd4a4e"/>
<rect x="606.84" y="467.34" width="2.67" height="147.22" fill="#ff2a2a"/>
<rect x="610.18" y="668.42" width="2.67" height="92.98" fill="#4ca04c"/>
<rect x="610.18" y="629.11" width="2.67" height="39.31" fill="#ffa234"/>
<rect x="610.18" y="619.70" width="2.67" height="9.41" fill="#bd4a4e"/>
<rect x="610.18" y="468.36" width="2.67" height="151.35" fill="#ff2a2a"/>
<rect x="613.52" y="663.07" width="2.67" height="98.33" fill="#4ca04c"/>
<rect x="613.52" y="624.16" width="2.67" height="38.91" fill="#ffa234"/>
<rect x="613.52" y="614.55" width="2.67" height="9.60" fill="#bd4a4e"/>
<rect x="613.52" y="466.92" width="2.67" height="147.64" fill="#ff2a2a"/>
<rect x="616.85" y="665.74" width="2.67" height="95.66" fill="#4ca04c"/>
<rect x="616.85" y="626.44" width="2.67" height="39.31" fill="#ffa234"/>
<rect x="616.85" y="616.93" width="2.67" height="9.50" fill="#bd4a4e"/>
<rect x="616.85" y="467.80" width="2.67" height="149.13" fill="#ff2a2a"/>
<rect x="620.19" y="663.76" width="2.67" height="97.64" fill="#4ca04c"/>
<rect x="620.19" y="626.83" width="2.67" height="36.93" fill="#ffa234"/>
<rect x="620.19" y="617.52" width="2.67" height="9.31" fill="#bd4a4e"/>
<rect x="620.19" y="468.80" width="2.67" height="148.72" fill="#ff2a2a"/>
<rect x="623.53" y="661.09" width="2.67" height="100.31" fill="#4ca04c"/>
<rect x="623.53" y="623.17" width="2.67" height="37.92" fill="#ffa234"/>
<rect x="623.53" y="613.56" width="2.67" height="9.60" fill="#bd4a4e"/>
<rect x="623.53" y="468.85" width="2.67" height="144.72" fill="#ff2a2a"/>
<rect x="626.86" y="667.23" width="2.67" height="94.17" fill="#4ca04c"/>
<rect x="626.86" y="628.12" width="2.67" height="39.11" fill="#ffa234"/>
<rect x="626.86" y="618.51" width="2.67" height="9.60" fill="#bd4a4e"/>
<rect x="626.86" y="467.79" width="2.67" height="150.72" fill="#ff2a2a"/>
<rect x="630.20" y="665.05" width="2.67" height="96.35" fill="#4ca04c"/>
<rect x="630.20" y="627.43" width="2.67" height="37.62" fill="#ffa234"/>
<rect x="630.20" y="617.23" width="2.67" height="10.20" fill="#bd4a4e"/>
<rect x="630.20" y="467.88" width="2.67" height="149.35" fill="#ff2a2a"/>
<rect x="633.54" y="665.74" width="2.67" height="95.66" fill="#4ca04c"/>
<rect x="633.54" y="626.44" width="2.67" height="39.31" fill="#ffa234"/>
<rect x="633.54" y="616.53" width="2.67" height="9.90" fill="#bd4a4e"/>
<rect x="633.54" y="468.20" width="2.67" height="148.33" fill="#ff2a2a"/>
<rect x="636.87" y="665.74" width="2.67" height="95.66" fill="#4ca04c"/>
<rect x="636.87" y="628.12" width="2.67" height="37.62" fill="#ffa234"/>
<rect x="636.87" y="618.71" width="2.67" height="9.41" fill="#bd4a4e"/>
<rect x="636.87" y="468.55" width="2.67" height="150.16" fill="#ff2a2a"/>
<rect x="640.21" y="661.78" width="2.67" height="99.62" fill="#4ca04c"/>
<rect x="640.21" y="624.65" width="2.67" height="37.13" fill="#ffa234"/>
<rect x="640.21" y="615.25" width="2.67" height="9.41" fill="#bd4a4e"/>
<rect x="640.21" y="468.11" width="2.67" height="147.14" fill="#ff2a2a"/>
<rect x="643.55" y="668.71" width="2.67" height="92.69" fill="#4ca04c"/>
<rect x="643.55" y="628.81" width="2.67" height="39.90" fill="#ffa234"/>
<rect x="643.55" y="619.50" width="2.67" height="9.31" fill="#bd4a4e"/>
<rect x="643.55" y="468.17" width="2.67" height="151.33" fill="#ff2a2a"/>
<rect x="646.88" y="664.26" width="2.67" height="97.14" fill="#4ca04c"/>
<rect x="646.88" y="626.63" width="2.67" height="37.62" fill="#ffa234"/>
<rect x="646.88" y="616.53" width="2.67" height="10.10" fill="#bd4a4e"/>
<rect x="646.88" y="467.04" width="2.67" height="149.49" fill="#ff2a2a"/>
<rect x="650.22" y="668.71" width="2.67" height="92.69" fill="#4ca04c"/>
<rect x="650.22" y="630.10" width="2.67" height="38.61" fill="#ffa234"/>
<rect x="650.22" y="620.50" width="2.67" height="9.60" fill="#bd4a4e"/>
<rect x="650.22" y="468.85" width="2.67" height="151.64" fill="#ff2a2a"/>
<rect x="653.56" y="665.45" width="2.67" height="95.95" fill="#4ca04c"/>
<rect x="653.56" y="627.43" width="2.67" height="38.02" fill="#ffa234"/>
<rect x="653.56" y="617.92" width="2.67" height="9.50" fill="#bd4a4e"/>
<rect x="653.56" y="467.23" width="2.67" height="150.69" fill="#ff2a2a"/>
<rect x="656.89" y="667.72" width="2.67" height="93.68" fill="#4ca04c"/>
<rect x="656.89" y="629.41" width="2.67" height="38.32" fill="#ffa234"/>
<rect x="656.89" y="619.70" width="2.67" height="9.70" fill="#bd4a4e"/>
<rect x="656.89" y="467.04" width="2.67" height="152.66" fill="#ff2a2a"/>
<rect x="660.23" y="667.72" width="2.67" height="93.68" fill="#4ca04c"/>
<rect x="660.23" y="629.41" width="2.67" height="38.32" fill="#ffa234"/>
<rect x="660.23" y="619.50" width="2.67" height="9.90" fill="#bd4a4e"/>
<rect x="660.23" y="468.60" width="2.67" height="150.91" fill="#ff2a2a"/>
<rect x="663.57" y="665.74" width="2.67" height="95.66" fill="#4ca04c"/>
<rect x="663.57" y="627.43" width="2.67" height="38.32" fill="#ffa234"/>
<rect x="663.57" y="617.72" width="2.67" height="9.70" fill="#bd4a4e"/>
<rect x="663.57" y="466.85" width="2.67" height="150.87" fill="#ff2a2a"/>
<rect x="666.90" y="672.97" width="2.67" height="88.43" fill="#4ca04c"/>
<rect x="666.90" y="634.06" width="2.67" height="38.91" fill="#ffa234"/>
<rect x="666.90" y="624.65" width="2.67" height="9.41" fill="#bd4a4e"/>
<rect x="666.90" y="467.31" width="2.67" height="157.34" fill="#ff2a2a"/>
<rect x="670.24" y="667.72" width="2.67" height="93.68" fill="#4ca04c"/>
<rect x="670.24" y="630.40" width="2.67" height="37.33" fill="#ffa234"/>
<rect x="670.24" y="620.69" width="2.67" height="9.70" fill="#bd4a4e"/>
<rect x="670.24" y="466.91" width="2.67" height="153.79" fill="#ff2a2a"/>
<rect x="673.58" y="668.22" width="2.67" height="93.18" fill="#4ca04c"/>
<rect x="673.58" y="630.40" width="2.67" height="37.82" fill="#ffa234"/>
<rect x="673.58" y="620.69" width="2.67" height="9.70" fill="#bd4a4e"/>
<rect x="673.58" y="468.23" width="2.67" height="152.46" fill="#ff2a2a"/>
<rect x="676.91" y="670.00" width="2.67" height="91.40" fill="#4ca04c"/>
<rect x="676.91" y="632.08" width="2.67" height="37.92" fill="#ffa234"/>
<rect x="676.91" y="622.67" width="2.67" height="9.41" fill="#bd4a4e"/>
<rect x="676.91" y="468.05" width="2.67" height="154.62" fill="#ff2a2a"/>
<rect x="680.25" y="667.43" width="2.67" height="93.97" fill="#4ca04c"/>
<rect x="680.25" y="630.59" width="2.67" height="36.83" fill="#ffa234"/>
<rect x="680.25" y="620.69" width="2.67" height="9.90" fill="#bd4a4e"/>
<rect x="680.25" y="468.01" width="2.67" height="152.69" fill="#ff2a2a"/>
<rect x="683.59" y="670.99" width="2.67" height="90.41" fill="#4ca04c"/>
<rect x="683.59" y="631.78" width="2.67" height="39.21" fill="#ffa234"/>
<rect x="683.59" y="622.67" width="2.67" height="9.11" fill="#bd4a4e"/>
<rect x="683.59" y="466.70" width="2.67" height="155.98" fill="#ff2a2a"/>
<rect x="686.92" y="667.72" width="2.67" height="93.68" fill="#4ca04c"/>
<rect x="686.92" y="631.09" width="2.67" height="36.63" fill="#ffa234"/>
<rect x="686.92" y="621.49" width="2.67" height="9.60" fill="#bd4a4e"/>
<rect x="686.92" y="467.58" width="2.67" height="153.90" fill="#ff2a2a"/>
<rect x="690.26" y="669.21" width="2.67" height="92.19" fill="#4ca04c"/>
<rect x="690.26" y="631.58" width="2.67" height="37.62" fill="#ffa234"/>
<rect x="690.26" y="621.68" width="2.67" height="9.90" fill="#bd4a4e"/>
<rect x="690.26" y="468.08" width="2.67" height="153.61" fill="#ff2a2a"/>
<rect x="693.60" y="669.01" width="2.67" height="92.39" fill="#4ca04c"/>
<rect x="693.60" y="631.78" width="2.67" height="37.23" fill="#ffa234"/>
<rect x="693.60" y="622.18" width="2.67" height="9.60" fill="#bd4a4e"/>
<rect x="693.60" y="467.93" width="2.67" height="154.25" fill="#ff2a2a"/>
<rect x="696.93" y="667.72" width="2.67" height="93.68" fill="#4ca04c"/>
<rect x="696.93" y="631.39" width="2.67" height="36.34" fill="#ffa234"/>
<rect x="696.93" y="621.68" width="2.67" height="9.70" fill="#bd4a4e"/>
<rect x="696.93" y="468.26" width="2.67" height="153.42" fill="#ff2a2a"/>
<rect x="700.27" y="672.38" width="2.67" height="89.02" fill="#4ca04c"/>
<rect x="700.27" y="633.56" width="2.67" height="38.81" fill="#ffa234"/>
<rect x="700.27" y="623.66" width="2.67" height="9.90" fill="#bd4a4e"/>
<rect x="700.27" y="468.75" width="2.67" height="154.91" fill="#ff2a2a"/>
<rect x="703.61" y="667.03" width="2.67" height="94.37" fill="#4ca04c"/>
<rect x="703.61" y="630.40" width="2.67" height="36.63" fill="#ffa234"/>
<rect x="703.61" y="620.50" width="2.67" height="9.90" fill="#bd4a4e"/>
<rect x="703.61" y="468.64" width="2.67" height="151.86" fill="#ff2a2a"/>
<rect x="706.94" y="670.00" width="2.67" height="91.40" fill="#4ca04c"/>
<rect x="706.94" y="632.57" width="2.67" height="37.43" fill="#ffa234"/>
<rect x="706.94" y="622.67" width="2.67" height="9.90" fill="#bd4a4e"/>
<rect x="706.94" y="467.05" width="2.67" height="155.62" fill="#ff2a2a"/>
<rect x="710.28" y="667.72" width="2.67" height="93.68" fill="#4ca04c"/>
<rect x="710.28" y="630.10" width="2.67" height="37.62" fill="#ffa234"/>
<rect x="710.28" y="620.20" width="2.67" height="9.90" fill="#bd4a4e"/>
<rect x="710.28" y="468.24" width="2.67" height="151.96" fill="#ff2a2a"/>
<rect x="713.62" y="666.04" width="2.67" height="95.36" fill="#4ca04c"/>
<rect x="713.62" y="628.81" width="2.67" height="37.23" fill="#ffa234"/>
<rect x="713.62" y="618.71" width="2.67" height="10.10" fill="#bd4a4e"/>
<rect x="713.62" y="466.83" width="2.67" height="151.88" fill="#ff2a2a"/>
<rect x="716.95" y="670.99" width="2.67" height="90.41" fill="#4ca04c"/>
<rect x="716.95" y="633.07" width="2.67" height="37.92" fill="#ffa234"/>
<rect x="716.95" y="623.47" width="2.67" height="9.60" fill="#bd4a4e"/>
<rect x="716.95" y="468.32" width="2.67" height="155.15" fill="#ff2a2a"/>
<rect x="720.29" y="666.24" width="2.67" height="95.16" fill="#4ca04c"/>
<rect x="720.29" y="629.60" width="2.67" height="36.63" fill="#ffa234"/>
<rect x="720.29" y="619.70" width="2.67" height="9.90" fill="#bd4a4e"/>
<rect x="720.29" y="468.28" width="2.67" height="151.42" fill="#ff2a2a"/>
<rect x="723.63" y="669.70" width="2.67" height="91.70" fill="#4ca04c"/>
<rect x="723.63" y="631.39" width="2.67" height="38.32" fill="#ffa234"/>
<rect x="723.63" y="621.49" width="2.67" height="9.90" fill="#bd4a4e"/>
<rect x="723.63" y="467.75" width="2.67" height="153.73" fill="#ff2a2a"/>
<rect x="726.96" y="666.04" width="2.67" height="95.36" fill="#4ca04c"/>
<rect x="726.96" y="629.60" width="2.67" height="36.44" fill="#ffa234"/>
<rect x="726.96" y="619.50" width="2.67" height="10.10" fill="#bd4a4e"/>
<rect x="726.96" y="468.44" width="2.67" height="151.06" fill="#ff2a2a"/>
<rect x="730.30" y="664.75" width="2.67" height="96.65" fill="#4ca04c"/>
<rect x="730.30" y="627.62" width="2.67" height="37.13" fill="#ffa234"/>
<rect x="730.30" y="617.52" width="2.67" height="10.10" fill="#bd4a4e"/>
<rect x="730.30" y="468.05" width="2.67" height="149.48" fill="#ff2a2a"/>
<rect x="733.64" y="671.68" width="2.67" height="89.72" fill="#4ca04c"/>
<rect x="733.64" y="633.07" width="2.67" height="38.61" fill="#ffa234"/>
<rect x="733.64" y="623.47" width="2.67" height="9.60" fill="#bd4a4e"/>
<rect x="733.64" y="466.79" width="2.67" height="156.68" fill="#ff2a2a"/>
<rect x="736.97" y="664.46" width="2.67" height="96.94" fill="#4ca04c"/>
<rect x="736.97" y="628.12" width="2.67" height="36.34" fill="#ffa234"/>
<rect x="736.97" y="618.51" width="2.67" height="9.60" fill="#bd4a4e"/>
<rect x="736.97" y="466.94" width="2.67" height="151.57" fill="#ff2a2a"/>
<rect x="740.31" y="670.99" width="2.67" height="90.41" fill="#4ca04c"/>
<rect x="740.31" y="633.37" width="2.67" height="37.62" fill="#ffa234"/>
<rect x="740.31" y="623.66" width="2.67" height="9.70" fill="#bd4a4e"/>
<rect x="740.31" y="467.10" width="2.67" height="156.56" fill="#ff2a2a"/>
<rect x="743.65" y="666.24" width="2.67" height="95.16" fill="#4ca04c"/>
<rect x="743.65" y="629.11" width="2.67" height="37.13" fill="#ffa234"/>
<rect x="743.65" y="619.50" width="2.67" height="9.60" fill="#bd4a4e"/>
<rect x="743.65" y="467.49" width="2.67" height="152.01" fill="#ff2a2a"/>
<rect x="746.98" y="665.74" width="2.67" height="95.66" fill="#4ca04c"/>
<rect x="746.98" y="629.11" width="2.67" height="36.63" fill="#ffa234"/>
<rect x="746.98" y="619.50" width="2.67" height="9.60" fill="#bd4a4e"/>
<rect x="746.98" y="466.88" width="2.67" height="152.62" fill="#ff2a2a"/>
<rect x="750.32" y="665.74" width="2.67" height="95.66" fill="#4ca04c"/>
<rect x="750.32" y="629.60" width="2.67" height="36.14" fill="#ffa234"/>
<rect x="750.32" y="619.50" width="2.67" height="10.10" fill="#bd4a4e"/>
<rect x="750.32" y="466.82" width="2.67" height="152.68" fill="#ff2a2a"/>
<rect x="753.66" y="665.25" width="2.67" height="96.15" fill="#4ca04c"/>
<rect x="753.66" y="628.42" width="2.67" height="36.83" fill="#ffa234"/>
<rect x="753.66" y="618.71" width="2.67" height="9.70" fill="#bd4a4e"/>
<rect x="753.66" y="467.67" width="2.67" height="151.04" fill="#ff2a2a"/>
<rect x="756.99" y="672.67" width="2.67" height="88.73" fill="#4ca04c"/>
<rect x="756.99" y="634.36" width="2.67" height="38.32" fill="#ffa234"/>
<rect x="756.99" y="624.46" width="2.67" height="9.90" fill="#bd4a4e"/>
<rect x="756.99" y="467.30" width="2.67" height="157.15" fill="#ff2a2a"/>
<rect x="760.33" y="665.74" width="2.67" height="95.66" fill="#4ca04c"/>
<rect x="760.33" y="629.60" width="2.67" height="36.14" fill="#ffa234"/>
<rect x="760.33" y="619.70" width="2.67" height="9.90" fill="#bd4a4e"/>
<rect x="760.33" y="468.75" width="2.67" height="150.95" fill="#ff2a2a"/>
</g>
<g stroke="#b0b0b0" stroke-opacity="0.25" stroke-width="1">
<line x1="59.5" y1="707.50" x2="796.5" y2="707.50"/>
<line x1="59.5" y1="653.50" x2="796.5" y2="653.50"/>
<line x1="59.5" y1="599.50" x2="796.5" y2="599.50"/>
<line x1="59.5" y1="545.50" x2="796.5" y2="545.50"/>
<line x1="59.5" y1="491.50" x2="796.5" y2="491.50"/>
</g>
<rect x="59.5" y="436.8" width="737.0" height="324.60" fill="none" stroke="#000" stroke-width="0.72"/>
<g stroke="#000" stroke-width="0.72">
<line x1="56.37" y1="761.40" x2="59.5" y2="761.40"/>
<line x1="56.37" y1="707.40" x2="59.5" y2="707.40"/>
<line x1="56.37" y1="653.40" x2="59.5" y2="653.40"/>
<line x1="56.37" y1="599.40" x2="59.5" y2="599.40"/>
<line x1="56.37" y1="545.40" x2="59.5" y2="545.40"/>
<line x1="56.37" y1="491.40" x2="59.5" y2="491.40"/>
<line x1="56.37" y1="437.40" x2="59.5" y2="437.40"/>
<line x1="94.33" y1="761.4" x2="94.33" y2="764.53"/>
<line x1="97.67" y1="761.4" x2="97.67" y2="764.53"/>
<line x1="101.01" y1="761.4" x2="101.01" y2="764.53"/>
<line x1="104.34" y1="761.4" x2="104.34" y2="764.53"/>
<line x1="107.68" y1="761.4" x2="107.68" y2="764.53"/>
<line x1="111.02" y1="761.4" x2="111.02" y2="764.53"/>
<line x1="114.35" y1="761.4" x2="114.35" y2="764.53"/>
<line x1="117.69" y1="761.4" x2="117.69" y2="764.53"/>
<line x1="121.03" y1="761.4" x2="121.03" y2="764.53"/>
<line x1="124.36" y1="761.4" x2="124.36" y2="764.53"/>
<line x1="127.70" y1="761.4" x2="127.70" y2="764.53"/>
<line x1="131.04" y1="761.4" x2="131.04" y2="764.53"/>
<line x1="134.37" y1="761.4" x2="134.37" y2="764.53"/>
<line x1="137.71" y1="761.4" x2="137.71" y2="764.53"/>
<line x1="141.05" y1="761.4" x2="141.05" y2="764.53"/>
<line x1="144.38" y1="761.4" x2="144.38" y2="764.53"/>
<line x1="147.72" y1="761.4" x2="147.72" y2="764.53"/>
<line x1="151.06" y1="761.4" x2="151.06" y2="764.53"/>
<line x1="154.39" y1="761.4" x2="154.39" y2="764.53"/>
<line x1="157.73" y1="761.4" x2="157.73" y2="764.53"/>
<line x1="161.07" y1="761.4" x2="161.07" y2="764.53"/>
<line x1="164.40" y1="761.4" x2="164.40" y2="764.53"/>
<line x1="167.74" y1="761.4" x2="167.74" y2="764.53"/>
<line x1="171.08" y1="761.4" x2="171.08" y2="764.53"/>
<line x1="174.41" y1="761.4" x2="174.41" y2="764.53"/>
<line x1="177.75" y1="761.4" x2="177.75" y2="764.53"/>
<line x1="181.09" y1="761.4" x2="181.09" y2="764.53"/>
<line x1="184.42" y1="761.4" x2="184.42" y2="764.53"/>
<line x1="187.76" y1="761.4" x2="187.76" y2="764.53"/>
<line x1="191.10" y1="761.4" x2="191.10" y2="764.53"/>
<line x1="194.43" y1="761.4" x2="194.43" y2="764.53"/>
<line x1="197.77" y1="761.4" x2="197.77" y2="764.53"/>
<line x1="201.11" y1="761.4" x2="201.11" y2="764.53"/>
<line x1="204.44" y1="761.4" x2="204.44" y2="764.53"/>
<line x1="207.78" y1="761.4" x2="207.78" y2="764.53"/>
<line x1="211.12" y1="761.4" x2="211.12" y2="764.53"/>
<line x1="214.45" y1="761.4" x2="214.45" y2="764.53"/>
<line x1="217.79" y1="761.4" x2="217.79" y2="764.53"/>
<line x1="221.13" y1="761.4" x2="221.13" y2="764.53"/>
<line x1="224.46" y1="761.4" x2="224.46" y2="764.53"/>
<line x1="227.80" y1="761.4" x2="227.80" y2="764.53"/>
<line x1="231.14" y1="761.4" x2="231.14" y2="764.53"/>
<line x1="234.47" y1="761.4" x2="234.47" y2="764.53"/>
<line x1="237.81" y1="761.4" x2="237.81" y2="764.53"/>
<line x1="241.15" y1="761.4" x2="241.15" y2="764.53"/>
<line x1="244.48" y1="761.4" x2="244.48" y2="764.53"/>
<line x1="247.82" y1="761.4" x2="247.82" y2="764.53"/>
<line x1="251.16" y1="761.4" x2="251.16" y2="764.53"/>
<line x1="254.49" y1="761.4" x2="254.49" y2="764.53"/>
<line x1="257.83" y1="761.4" x2="257.83" y2="764.53"/>
<line x1="261.17" y1="761.4" x2="261.17" y2="764.53"/>
<line x1="264.50" y1="761.4" x2="264.50" y2="764.53"/>
<line x1="267.84" y1="761.4" x2="267.84" y2="764.53"/>
<line x1="271.18" y1="761.4" x2="271.18" y2="764.53"/>
<line x1="274.51" y1="761.4" x2="274.51" y2="764.53"/>
<line x1="277.85" y1="761.4" x2="277.85" y2="764.53"/>
<line x1="281.19" y1="761.4" x2="281.19" y2="764.53"/>
<line x1="284.52" y1="761.4" x2="284.52" y2="764.53"/>
<line x1="287.86" y1="761.4" x2="287.86" y2="764.53"/>
<line x1="291.20" y1="761.4" x2="291.20" y2="764.53"/>
<line x1="294.53" y1="761.4" x2="294.53" y2="764.53"/>
<line x1="297.87" y1="761.4" x2="297.87" y2="764.53"/>
<line x1="301.21" y1="761.4" x2="301.21" y2="764.53"/>
<line x1="304.54" y1="761.4" x2="304.54" y2="764.53"/>
<line x1="307.88" y1="761.4" x2="307.88" y2="764.53"/>
<line x1="311.22" y1="761.4" x2="311.22" y2="764.53"/>
<line x1="314.55" y1="761.4" x2="314.55" y2="764.53"/>
<line x1="317.89" y1="761.4" x2="317.89" y2="764.53"/>
<line x1="321.23" y1="761.4" x2="321.23" y2="764.53"/>
<line x1="324.56" y1="761.4" x2="324.56" y2="764.53"/>
<line x1="327.90" y1="761.4" x2="327.90" y2="764.53"/>
<line x1="331.24" y1="761.4" x2="331.24" y2="764.53"/>
<line x1="334.57" y1="761.4" x2="334.57" y2="764.53"/>
<line x1="337.91" y1="761.4" x2="337.91" y2="764.53"/>
<line x1="341.25" y1="761.4" x2="341.25" y2="764.53"/>
<line x1="344.58" y1="761.4" x2="344.58" y2="764.53"/>
<line x1="347.92" y1="761.4" x2="347.92" y2="764.53"/>
<line x1="351.26" y1="761.4" x2="351.26" y2="764.53"/>
<line x1="354.59" y1="761.4" x2="354.59" y2="764.53"/>
<line x1="357.93" y1="761.4" x2="357.93" y2="764.53"/>
<line x1="361.27" y1="761.4" x2="361.27" y2="764.53"/>
<line x1="364.60" y1="761.4" x2="364.60" y2="764.53"/>
<line x1="367.94" y1="761.4" x2="367.94" y2="764.53"/>
<line x1="371.28" y1="761.4" x2="371.28" y2="764.53"/>
<line x1="374.61" y1="761.4" x2="374.61" y2="764.53"/>
<line x1="377.95" y1="761.4" x2="377.95" y2="764.53"/>
<line x1="381.29" y1="761.4" x2="381.29" y2="764.53"/>
<line x1="384.62" y1="761.4" x2="384.62" y2="764.53"/>
<line x1="387.96" y1="761.4" x2="387.96" y2="764.53"/>
<line x1="391.30" y1="761.4" x2="391.30" y2="764.53"/>
<line x1="394.63" y1="761.4" x2="394.63" y2="764.53"/>
<line x1="397.97" y1="761.4" x2="397.97" y2="764.53"/>
<line x1="401.31" y1="761.4" x2="401.31" y2="764.53"/>
<line x1="404.64" y1="761.4" x2="404.64" y2="764.53"/>
<line x1="407.98" y1="761.4" x2="407.98" y2="764.53"/>
<line x1="411.32" y1="761.4" x2="411.32" y2="764.53"/>
<line x1="414.65" y1="761.4" x2="414.65" y2="764.53"/>
<line x1="417.99" y1="761.4" x2="417.99" y2="764.53"/>
<line x1="421.33" y1="761.4" x2="421.33" y2="764.53"/>
<line x1="424.66" y1="761.4" x2="424.66" y2="764.53"/>
<line x1="428.00" y1="761.4" x2="428.00" y2="764.53"/>
<line x1="431.34" y1="761.4" x2="431.34" y2="764.53"/>
<line x1="434.67" y1="761.4" x2="434.67" y2="764.53"/>
<line x1="438.01" y1="761.4" x2="438.01" y2="764.53"/>
<line x1="441.35" y1="761.4" x2="441.35" y2="764.53"/>
<line x1="444.68" y1="761.4" x2="444.68" y2="764.53"/>
<line x1="448.02" y1="761.4" x2="448.02" y2="764.53"/>
<line x1="451.36" y1="761.4" x2="451.36" y2="764.53"/>
<line x1="454.69" y1="761.4" x2="454.69" y2="764.53"/>
<line x1="458.03" y1="761.4" x2="458.03" y2="764.53"/>
<line x1="461.37" y1="761.4" x2="461.37" y2="764.53"/>
<line x1="464.70" y1="761.4" x2="464.70" y2="764.53"/>
<line x1="468.04" y1="761.4" x2="468.04" y2="764.53"/>
<line x1="471.38" y1="761.4" x2="471.38" y2="764.53"/>
<line x1="474.71" y1="761.4" x2="474.71" y2="764.53"/>
<line x1="478.05" y1="761.4" x2="478.05" y2="764.53"/>
<line x1="481.39" y1="761.4" x2="481.39" y2="764.53"/>
<line x1="484.72" y1="761.4" x2="484.72" y2="764.53"/>
<line x1="488.06" y1="761.4" x2="488.06" y2="764.53"/>
<line x1="491.40" y1="761.4" x2="491.40" y2="764.53"/>
<line x1="494.73" y1="761.4" x2="494.73" y2="764.53"/>
<line x1="498.07" y1="761.4" x2="498.07" y2="764.53"/>
<line x1="501.41" y1="761.4" x2="501.41" y2="764.53"/>
<line x1="504.74" y1="761.4" x2="504.74" y2="764.53"/>
<line x1="508.08" y1="761.4" x2="508.08" y2="764.53"/>
<line x1="511.42" y1="761.4" x2="511.42" y2="764.53"/>
<line x1="514.75" y1="761.4" x2="514.75" y2="764.53"/>
<line x1="518.09" y1="761.4" x2="518.09" y2="764.53"/>
<line x1="521.43" y1="761.4" x2="521.43" y2="764.53"/>
<line x1="524.76" y1="761.4" x2="524.76" y2="764.53"/>
<line x1="528.10" y1="761.4" x2="528.10" y2="764.53"/>
<line x1="531.44" y1="761.4" x2="531.44" y2="764.53"/>
<line x1="534.77" y1="761.4" x2="534.77" y2="764.53"/>
<line x1="538.11" y1="761.4" x2="538.11" y2="764.53"/>
<line x1="541.45" y1="761.4" x2="541.45" y2="764.53"/>
<line x1="544.78" y1="761.4" x2="544.78" y2="764.53"/>
<line x1="548.12" y1="761.4" x2="548.12" y2="764.53"/>
<line x1="551.46" y1="761.4" x2="551.46" y2="764.53"/>
<line x1="554.79" y1="761.4" x2="554.79" y2="764.53"/>
<line x1="558.13" y1="761.4" x2="558.13" y2="764.53"/>
<line x1="561.47" y1="761.4" x2="561.47" y2="764.53"/>
<line x1="564.80" y1="761.4" x2="564.80" y2="764.53"/>
<line x1="568.14" y1="761.4" x2="568.14" y2="764.53"/>
<line x1="571.48" y1="761.4" x2="571.48" y2="764.53"/>
<line x1="574.81" y1="761.4" x2="574.81" y2="764.53"/>
<line x1="578.15" y1="761.4" x2="578.15" y2="764.53"/>
<line x1="581.49" y1="761.4" x2="581.49" y2="764.53"/>
<line x1="584.82" y1="761.4" x2="584.82" y2="764.53"/>
<line x1="588.16" y1="761.4" x2="588.16" y2="764.53"/>
<line x1="591.50" y1="761.4" x2="591.50" y2="764.53"/>
<line x1="594.83" y1="761.4" x2="594.83" y2="764.53"/>
<line x1="598.17" y1="761.4" x2="598.17" y2="764.53"/>
<line x1="601.51" y1="761.4" x2="601.51" y2="764.53"/>
<line x1="604.84" y1="761.4" x2="604.84" y2="764.53"/>
<line x1="608.18" y1="761.4" x2="608.18" y2="764.53"/>
<line x1="611.52" y1="761.4" x2="611.52" y2="764.53"/>
<line x1="614.85" y1="761.4" x2="614.85" y2="764.53"/>
<line x1="618.19" y1="761.4" x2="618.19" y2="764.53"/>
<line x1="621.53" y1="761.4" x2="621.53" y2="764.53"/>
<line x1="624.86" y1="761.4" x2="624.86" y2="764.53"/>
<line x1="628.20" y1="761.4" x2="628.20" y2="764.53"/>
<line x1="631.54" y1="761.4" x2="631.54" y2="764.53"/>
<line x1="634.87" y1="761.4" x2="634.87" y2="764.53"/>
<line x1="638.21" y1="761.4" x2="638.21" y2="764.53"/>
<line x1="641.55" y1="761.4" x2="641.55" y2="764.53"/>
<line x1="644.88" y1="761.4" x2="644.88" y2="764.53"/>
<line x1="648.22" y1="761.4" x2="648.22" y2="764.53"/>
<line x1="651.56" y1="761.4" x2="651.56" y2="764.53"/>
<line x1="654.89" y1="761.4" x2="654.89" y2="764.53"/>
<line x1="658.23" y1="761.4" x2="658.23" y2="764.53"/>
<line x1="661.57" y1="761.4" x2="661.57" y2="764.53"/>
<line x1="664.90" y1="761.4" x2="664.90" y2="764.53"/>
<line x1="668.24" y1="761.4" x2="668.24" y2="764.53"/>
<line x1="671.58" y1="761.4" x2="671.58" y2="764.53"/>
<line x1="674.91" y1="761.4" x2="674.91" y2="764.53"/>
<line x1="678.25" y1="761.4" x2="678.25" y2="764.53"/>
<line x1="681.59" y1="761.4" x2="681.59" y2="764.53"/>
<line x1="684.92" y1="761.4" x2="684.92" y2="764.53"/>
<line x1="688.26" y1="761.4" x2="688.26" y2="764.53"/>
<line x1="691.60" y1="761.4" x2="691.60" y2="764.53"/>
<line x1="694.93" y1="761.4" x2="694.93" y2="764.53"/>
<line x1="698.27" y1="761.4" x2="698.27" y2="764.53"/>
<line x1="701.61" y1="761.4" x2="701.61" y2="764.53"/>
<line x1="704.94" y1="761.4" x2="704.94" y2="764.53"/>
<line x1="708.28" y1="761.4" x2="708.28" y2="764.53"/>
<line x1="711.62" y1="761.4" x2="711.62" y2="764.53"/>
<line x1="714.95" y1="761.4" x2="714.95" y2="764.53"/>
<line x1="718.29" y1="761.4" x2="718.29" y2="764.53"/>
<line x1="721.63" y1="761.4" x2="721.63" y2="764.53"/>
<line x1="724.96" y1="761.4" x2="724.96" y2="764.53"/>
<line x1="728.30" y1="761.4" x2="728.30" y2="764.53"/>
<line x1="731.64" y1="761.4" x2="731.64" y2="764.53"/>
<line x1="734.97" y1="761.4" x2="734.97" y2="764.53"/>
<line x1="738.31" y1="761.4" x2="738.31" y2="764.53"/>
<line x1="741.65" y1="761.4" x2="741.65" y2="764.53"/>
<line x1="744.98" y1="761.4" x2="744.98" y2="764.53"/>
<line x1="748.32" y1="761.4" x2="748.32" y2="764.53"/>
<line x1="751.66" y1="761.4" x2="751.66" y2="764.53"/>
<line x1="754.99" y1="761.4" x2="754.99" y2="764.53"/>
<line x1="758.33" y1="761.4" x2="758.33" y2="764.53"/>
<line x1="761.67" y1="761.4" x2="761.67" y2="764.53"/>
</g>
<text x="48.02" y="764.95" font-size="9.85" textLength="5.25" lengthAdjust="spacingAndGlyphs">0</text>
<text x="25.17" y="710.95" font-size="9.85" textLength="28.13" lengthAdjust="spacingAndGlyphs">20000</text>
<text x="25.23" y="656.95" font-size="9.85" textLength="28.07" lengthAdjust="spacingAndGlyphs">40000</text>
<text x="25.13" y="602.95" font-size="9.85" textLength="28.16" lengthAdjust="spacingAndGlyphs">60000</text>
<text x="25.19" y="548.95" font-size="9.85" textLength="28.10" lengthAdjust="spacingAndGlyphs">80000</text>
<text x="19.54" y="494.95" font-size="9.85" textLength="33.75" lengthAdjust="spacingAndGlyphs">100000</text>
<text x="19.54" y="440.95" font-size="9.85" textLength="33.75" lengthAdjust="spacingAndGlyphs">120000</text>
<text x="340.19" y="431.30" font-size="11.38" textLength="174.37" lengthAdjust="spacingAndGlyphs">max_locks_per_transaction = 64</text>
<g transform="translate(14.0,598.75) rotate(-90)">
<text x="-56.96" y="0.00" font-size="10.44" textLength="113.41" lengthAdjust="spacingAndGlyphs">Number of Wait Events</text>
</g>
<g stroke="#fff" stroke-width="0.3">
<rect x="93.00" y="861.79" width="2.67" height="253.21" fill="#4ca04c"/>
<rect x="93.00" y="830.94" width="2.67" height="30.85" fill="#ffa234"/>
<rect x="93.00" y="821.24" width="2.67" height="9.70" fill="#bd4a4e"/>
<rect x="96.34" y="862.03" width="2.67" height="252.97" fill="#4ca04c"/>
<rect x="96.34" y="832.17" width="2.67" height="29.86" fill="#ffa234"/>
<rect x="96.34" y="821.43" width="2.67" height="10.74" fill="#bd4a4e"/>
<rect x="99.67" y="862.27" width="2.67" height="252.73" fill="#4ca04c"/>
<rect x="99.67" y="831.43" width="2.67" height="30.84" fill="#ffa234"/>
<rect x="99.67" y="820.82" width="2.67" height="10.61" fill="#bd4a4e"/>
<rect x="103.01" y="862.02" width="2.67" height="252.98" fill="#4ca04c"/>
<rect x="103.01" y="830.96" width="2.67" height="31.06" fill="#ffa234"/>
<rect x="103.01" y="822.07" width="2.67" height="8.88" fill="#bd4a4e"/>
<rect x="106.35" y="862.07" width="2.67" height="252.93" fill="#4ca04c"/>
<rect x="106.35" y="831.10" width="2.67" height="30.97" fill="#ffa234"/>
<rect x="106.35" y="820.71" width="2.67" height="10.39" fill="#bd4a4e"/>
<rect x="109.68" y="861.63" width="2.67" height="253.37" fill="#4ca04c"/>
<rect x="109.68" y="831.56" width="2.67" height="30.07" fill="#ffa234"/>
<rect x="109.68" y="822.17" width="2.67" height="9.40" fill="#bd4a4e"/>
<rect x="113.02" y="862.22" width="2.67" height="252.78" fill="#4ca04c"/>
<rect x="113.02" y="831.89" width="2.67" height="30.33" fill="#ffa234"/>
<rect x="113.02" y="822.46" width="2.67" height="9.43" fill="#bd4a4e"/>
<rect x="116.36" y="861.72" width="2.67" height="253.28" fill="#4ca04c"/>
<rect x="116.36" y="831.87" width="2.67" height="29.85" fill="#ffa234"/>
<rect x="116.36" y="820.86" width="2.67" height="11.01" fill="#bd4a4e"/>
<rect x="119.69" y="860.98" width="2.67" height="254.02" fill="#4ca04c"/>
<rect x="119.69" y="831.47" width="2.67" height="29.51" fill="#ffa234"/>
<rect x="119.69" y="820.86" width="2.67" height="10.60" fill="#bd4a4e"/>
<rect x="123.03" y="862.17" width="2.67" height="252.83" fill="#4ca04c"/>
<rect x="123.03" y="832.10" width="2.67" height="30.08" fill="#ffa234"/>
<rect x="123.03" y="822.52" width="2.67" height="9.58" fill="#bd4a4e"/>
<rect x="126.37" y="862.32" width="2.67" height="252.68" fill="#4ca04c"/>
<rect x="126.37" y="831.84" width="2.67" height="30.49" fill="#ffa234"/>
<rect x="126.37" y="822.08" width="2.67" height="9.76" fill="#bd4a4e"/>
<rect x="129.70" y="861.61" width="2.67" height="253.39" fill="#4ca04c"/>
<rect x="129.70" y="830.70" width="2.67" height="30.91" fill="#ffa234"/>
<rect x="129.70" y="822.26" width="2.67" height="8.44" fill="#bd4a4e"/>
<rect x="133.04" y="861.84" width="2.67" height="253.16" fill="#4ca04c"/>
<rect x="133.04" y="831.53" width="2.67" height="30.32" fill="#ffa234"/>
<rect x="133.04" y="821.20" width="2.67" height="10.33" fill="#bd4a4e"/>
<rect x="136.38" y="861.90" width="2.67" height="253.10" fill="#4ca04c"/>
<rect x="136.38" y="831.66" width="2.67" height="30.24" fill="#ffa234"/>
<rect x="136.38" y="821.69" width="2.67" height="9.98" fill="#bd4a4e"/>
<rect x="139.71" y="862.05" width="2.67" height="252.95" fill="#4ca04c"/>
<rect x="139.71" y="830.56" width="2.67" height="31.49" fill="#ffa234"/>
<rect x="139.71" y="822.68" width="2.67" height="7.88" fill="#bd4a4e"/>
<rect x="143.05" y="861.71" width="2.67" height="253.29" fill="#4ca04c"/>
<rect x="143.05" y="831.15" width="2.67" height="30.56" fill="#ffa234"/>
<rect x="143.05" y="822.54" width="2.67" height="8.61" fill="#bd4a4e"/>
<rect x="146.39" y="862.14" width="2.67" height="252.86" fill="#4ca04c"/>
<rect x="146.39" y="831.78" width="2.67" height="30.36" fill="#ffa234"/>
<rect x="146.39" y="820.95" width="2.67" height="10.82" fill="#bd4a4e"/>
<rect x="149.72" y="861.86" width="2.67" height="253.14" fill="#4ca04c"/>
<rect x="149.72" y="831.47" width="2.67" height="30.39" fill="#ffa234"/>
<rect x="149.72" y="822.28" width="2.67" height="9.19" fill="#bd4a4e"/>
<rect x="153.06" y="861.20" width="2.67" height="253.80" fill="#4ca04c"/>
<rect x="153.06" y="830.72" width="2.67" height="30.47" fill="#ffa234"/>
<rect x="153.06" y="820.76" width="2.67" height="9.97" fill="#bd4a4e"/>
<rect x="156.40" y="862.41" width="2.67" height="252.59" fill="#4ca04c"/>
<rect x="156.40" y="831.01" width="2.67" height="31.40" fill="#ffa234"/>
<rect x="156.40" y="822.77" width="2.67" height="8.24" fill="#bd4a4e"/>
<rect x="159.73" y="861.76" width="2.67" height="253.24" fill="#4ca04c"/>
<rect x="159.73" y="831.23" width="2.67" height="30.53" fill="#ffa234"/>
<rect x="159.73" y="820.88" width="2.67" height="10.34" fill="#bd4a4e"/>
<rect x="163.07" y="861.88" width="2.67" height="253.12" fill="#4ca04c"/>
<rect x="163.07" y="830.63" width="2.67" height="31.25" fill="#ffa234"/>
<rect x="163.07" y="822.82" width="2.67" height="7.81" fill="#bd4a4e"/>
<rect x="166.41" y="861.19" width="2.67" height="253.81" fill="#4ca04c"/>
<rect x="166.41" y="830.55" width="2.67" height="30.64" fill="#ffa234"/>
<rect x="166.41" y="821.04" width="2.67" height="9.52" fill="#bd4a4e"/>
<rect x="169.74" y="862.30" width="2.67" height="252.70" fill="#4ca04c"/>
<rect x="169.74" y="831.98" width="2.67" height="30.31" fill="#ffa234"/>
<rect x="169.74" y="822.28" width="2.67" height="9.70" fill="#bd4a4e"/>
<rect x="173.08" y="861.45" width="2.67" height="253.55" fill="#4ca04c"/>
<rect x="173.08" y="830.60" width="2.67" height="30.84" fill="#ffa234"/>
<rect x="173.08" y="821.69" width="2.67" height="8.91" fill="#bd4a4e"/>
<rect x="176.42" y="861.50" width="2.67" height="253.50" fill="#4ca04c"/>
<rect x="176.42" y="830.91" width="2.67" height="30.58" fill="#ffa234"/>
<rect x="176.42" y="821.26" width="2.67" height="9.65" fill="#bd4a4e"/>
<rect x="179.75" y="861.64" width="2.67" height="253.36" fill="#4ca04c"/>
<rect x="179.75" y="832.19" width="2.67" height="29.45" fill="#ffa234"/>
<rect x="179.75" y="821.83" width="2.67" height="10.36" fill="#bd4a4e"/>
<rect x="183.09" y="862.11" width="2.67" height="252.89" fill="#4ca04c"/>
<rect x="183.09" y="830.64" width="2.67" height="31.47" fill="#ffa234"/>
<rect x="183.09" y="821.13" width="2.67" height="9.51" fill="#bd4a4e"/>
<rect x="186.43" y="862.01" width="2.67" height="252.99" fill="#4ca04c"/>
<rect x="186.43" y="832.03" width="2.67" height="29.98" fill="#ffa234"/>
<rect x="186.43" y="821.42" width="2.67" height="10.61" fill="#bd4a4e"/>
<rect x="189.76" y="861.51" width="2.67" height="253.49" fill="#4ca04c"/>
<rect x="189.76" y="831.03" width="2.67" height="30.48" fill="#ffa234"/>
<rect x="189.76" y="822.27" width="2.67" height="8.76" fill="#bd4a4e"/>
<rect x="193.10" y="862.35" width="2.67" height="252.65" fill="#4ca04c"/>
<rect x="193.10" y="831.34" width="2.67" height="31.02" fill="#ffa234"/>
<rect x="193.10" y="822.57" width="2.67" height="8.76" fill="#bd4a4e"/>
<rect x="196.44" y="861.88" width="2.67" height="253.12" fill="#4ca04c"/>
<rect x="196.44" y="831.86" width="2.67" height="30.02" fill="#ffa234"/>
<rect x="196.44" y="821.56" width="2.67" height="10.30" fill="#bd4a4e"/>
<rect x="199.77" y="862.44" width="2.67" height="252.56" fill="#4ca04c"/>
<rect x="199.77" y="831.73" width="2.67" height="30.72" fill="#ffa234"/>
<rect x="199.77" y="821.52" width="2.67" height="10.21" fill="#bd4a4e"/>
<rect x="203.11" y="861.03" width="2.67" height="253.97" fill="#4ca04c"/>
<rect x="203.11" y="831.12" width="2.67" height="29.91" fill="#ffa234"/>
<rect x="203.11" y="821.82" width="2.67" height="9.30" fill="#bd4a4e"/>
<rect x="206.45" y="861.75" width="2.67" height="253.25" fill="#4ca04c"/>
<rect x="206.45" y="831.84" width="2.67" height="29.91" fill="#ffa234"/>
<rect x="206.45" y="820.91" width="2.67" height="10.93" fill="#bd4a4e"/>
<rect x="209.78" y="861.03" width="2.67" height="253.97" fill="#4ca04c"/>
<rect x="209.78" y="831.02" width="2.67" height="30.01" fill="#ffa234"/>
<rect x="209.78" y="822.28" width="2.67" height="8.74" fill="#bd4a4e"/>
<rect x="213.12" y="862.42" width="2.67" height="252.58" fill="#4ca04c"/>
<rect x="213.12" y="831.38" width="2.67" height="31.04" fill="#ffa234"/>
<rect x="213.12" y="822.15" width="2.67" height="9.23" fill="#bd4a4e"/>
<rect x="216.46" y="861.83" width="2.67" height="253.17" fill="#4ca04c"/>
<rect x="216.46" y="831.80" width="2.67" height="30.03" fill="#ffa234"/>
<rect x="216.46" y="821.36" width="2.67" height="10.44" fill="#bd4a4e"/>
<rect x="219.79" y="861.08" width="2.67" height="253.92" fill="#4ca04c"/>
<rect x="219.79" y="831.86" width="2.67" height="29.23" fill="#ffa234"/>
<rect x="219.79" y="821.38" width="2.67" height="10.48" fill="#bd4a4e"/>
<rect x="223.13" y="861.96" width="2.67" height="253.04" fill="#4ca04c"/>
<rect x="223.13" y="831.52" width="2.67" height="30.44" fill="#ffa234"/>
<rect x="223.13" y="822.74" width="2.67" height="8.77" fill="#bd4a4e"/>
<rect x="226.47" y="862.16" width="2.67" height="252.84" fill="#4ca04c"/>
<rect x="226.47" y="830.86" width="2.67" height="31.31" fill="#ffa234"/>
<rect x="226.47" y="821.34" width="2.67" height="9.51" fill="#bd4a4e"/>
<rect x="229.80" y="861.71" width="2.67" height="253.29" fill="#4ca04c"/>
<rect x="229.80" y="831.89" width="2.67" height="29.81" fill="#ffa234"/>
<rect x="229.80" y="821.22" width="2.67" height="10.67" fill="#bd4a4e"/>
<rect x="233.14" y="861.99" width="2.67" height="253.01" fill="#4ca04c"/>
<rect x="233.14" y="830.82" width="2.67" height="31.18" fill="#ffa234"/>
<rect x="233.14" y="820.72" width="2.67" height="10.09" fill="#bd4a4e"/>
<rect x="236.48" y="862.13" width="2.67" height="252.87" fill="#4ca04c"/>
<rect x="236.48" y="830.92" width="2.67" height="31.21" fill="#ffa234"/>
<rect x="236.48" y="822.32" width="2.67" height="8.60" fill="#bd4a4e"/>
<rect x="239.81" y="861.05" width="2.67" height="253.95" fill="#4ca04c"/>
<rect x="239.81" y="831.39" width="2.67" height="29.66" fill="#ffa234"/>
<rect x="239.81" y="822.18" width="2.67" height="9.21" fill="#bd4a4e"/>
<rect x="243.15" y="862.13" width="2.67" height="252.87" fill="#4ca04c"/>
<rect x="243.15" y="831.52" width="2.67" height="30.60" fill="#ffa234"/>
<rect x="243.15" y="822.41" width="2.67" height="9.11" fill="#bd4a4e"/>
<rect x="246.49" y="861.05" width="2.67" height="253.95" fill="#4ca04c"/>
<rect x="246.49" y="832.00" width="2.67" height="29.05" fill="#ffa234"/>
<rect x="246.49" y="821.38" width="2.67" height="10.62" fill="#bd4a4e"/>
<rect x="249.82" y="862.14" width="2.67" height="252.86" fill="#4ca04c"/>
<rect x="249.82" y="830.55" width="2.67" height="31.59" fill="#ffa234"/>
<rect x="249.82" y="821.97" width="2.67" height="8.58" fill="#bd4a4e"/>
<rect x="253.16" y="862.38" width="2.67" height="252.62" fill="#4ca04c"/>
<rect x="253.16" y="832.15" width="2.67" height="30.23" fill="#ffa234"/>
<rect x="253.16" y="822.51" width="2.67" height="9.64" fill="#bd4a4e"/>
<rect x="256.50" y="861.13" width="2.67" height="253.87" fill="#4ca04c"/>
<rect x="256.50" y="830.71" width="2.67" height="30.42" fill="#ffa234"/>
<rect x="256.50" y="821.97" width="2.67" height="8.74" fill="#bd4a4e"/>
<rect x="259.83" y="860.98" width="2.67" height="254.02" fill="#4ca04c"/>
<rect x="259.83" y="830.62" width="2.67" height="30.36" fill="#ffa234"/>
<rect x="259.83" y="821.24" width="2.67" height="9.39" fill="#bd4a4e"/>
<rect x="263.17" y="862.18" width="2.67" height="252.82" fill="#4ca04c"/>
<rect x="263.17" y="830.61" width="2.67" height="31.57" fill="#ffa234"/>
<rect x="263.17" y="822.11" width="2.67" height="8.51" fill="#bd4a4e"/>
<rect x="266.51" y="862.41" width="2.67" height="252.59" fill="#4ca04c"/>
<rect x="266.51" y="831.09" width="2.67" height="31.32" fill="#ffa234"/>
<rect x="266.51" y="821.21" width="2.67" height="9.88" fill="#bd4a4e"/>
<rect x="269.84" y="861.90" width="2.67" height="253.10" fill="#4ca04c"/>
<rect x="269.84" y="831.67" width="2.67" height="30.23" fill="#ffa234"/>
<rect x="269.84" y="822.00" width="2.67" height="9.67" fill="#bd4a4e"/>
<rect x="273.18" y="862.45" width="2.67" height="252.55" fill="#4ca04c"/>
<rect x="273.18" y="831.76" width="2.67" height="30.69" fill="#ffa234"/>
<rect x="273.18" y="822.45" width="2.67" height="9.31" fill="#bd4a4e"/>
<rect x="276.52" y="861.04" width="2.67" height="253.96" fill="#4ca04c"/>
<rect x="276.52" y="832.04" width="2.67" height="29.00" fill="#ffa234"/>
<rect x="276.52" y="822.06" width="2.67" height="9.98" fill="#bd4a4e"/>
<rect x="279.85" y="862.15" width="2.67" height="252.85" fill="#4ca04c"/>
<rect x="279.85" y="831.63" width="2.67" height="30.52" fill="#ffa234"/>
<rect x="279.85" y="820.74" width="2.67" height="10.89" fill="#bd4a4e"/>
<rect x="283.19" y="861.24" width="2.67" height="253.76" fill="#4ca04c"/>
<rect x="283.19" y="831.50" width="2.67" height="29.74" fill="#ffa234"/>
<rect x="283.19" y="821.04" width="2.67" height="10.45" fill="#bd4a4e"/>
<rect x="286.53" y="861.75" width="2.67" height="253.25" fill="#4ca04c"/>
<rect x="286.53" y="831.60" width="2.67" height="30.15" fill="#ffa234"/>
<rect x="286.53" y="822.71" width="2.67" height="8.89" fill="#bd4a4e"/>
<rect x="289.86" y="862.17" width="2.67" height="252.83" fill="#4ca04c"/>
<rect x="289.86" y="831.62" width="2.67" height="30.55" fill="#ffa234"/>
<rect x="289.86" y="820.83" width="2.67" height="10.78" fill="#bd4a4e"/>
<rect x="293.20" y="862.41" width="2.67" height="252.59" fill="#4ca04c"/>
<rect x="293.20" y="831.53" width="2.67" height="30.88" fill="#ffa234"/>
<rect x="293.20" y="820.88" width="2.67" height="10.65" fill="#bd4a4e"/>
<rect x="296.54" y="861.32" width="2.67" height="253.68" fill="#4ca04c"/>
<rect x="296.54" y="832.18" width="2.67" height="29.14" fill="#ffa234"/>
<rect x="296.54" y="821.06" width="2.67" height="11.12" fill="#bd4a4e"/>
<rect x="299.87" y="862.36" width="2.67" height="252.64" fill="#4ca04c"/>
<rect x="299.87" y="830.64" width="2.67" height="31.72" fill="#ffa234"/>
<rect x="299.87" y="822.74" width="2.67" height="7.90" fill="#bd4a4e"/>
<rect x="303.21" y="861.35" width="2.67" height="253.65" fill="#4ca04c"/>
<rect x="303.21" y="830.68" width="2.67" height="30.67" fill="#ffa234"/>
<rect x="303.21" y="822.26" width="2.67" height="8.42" fill="#bd4a4e"/>
<rect x="306.55" y="862.05" width="2.67" height="252.95" fill="#4ca04c"/>
<rect x="306.55" y="830.58" width="2.67" height="31.48" fill="#ffa234"/>
<rect x="306.55" y="822.08" width="2.67" height="8.49" fill="#bd4a4e"/>
<rect x="309.88" y="862.07" width="2.67" height="252.93" fill="#4ca04c"/>
<rect x="309.88" y="831.00" width="2.67" height="31.07" fill="#ffa234"/>
<rect x="309.88" y="821.49" width="2.67" height="9.51" fill="#bd4a4e"/>
<rect x="313.22" y="862.05" width="2.67" height="252.95" fill="#4ca04c"/>
<rect x="313.22" y="832.25" width="2.67" height="29.80" fill="#ffa234"/>
<rect x="313.22" y="822.13" width="2.67" height="10.11" fill="#bd4a4e"/>
<rect x="316.56" y="861.10" width="2.67" height="253.90" fill="#4ca04c"/>
<rect x="316.56" y="831.14" width="2.67" height="29.95" fill="#ffa234"/>
<rect x="316.56" y="821.19" width="2.67" height="9.96" fill="#bd4a4e"/>
<rect x="319.89" y="862.42" width="2.67" height="252.58" fill="#4ca04c"/>
<rect x="319.89" y="831.84" width="2.67" height="30.58" fill="#ffa234"/>
<rect x="319.89" y="820.78" width="2.67" height="11.06" fill="#bd4a4e"/>
<rect x="323.23" y="861.04" width="2.67" height="253.96" fill="#4ca04c"/>
<rect x="323.23" y="830.58" width="2.67" height="30.46" fill="#ffa234"/>
<rect x="323.23" y="821.79" width="2.67" height="8.79" fill="#bd4a4e"/>
<rect x="326.57" y="862.08" width="2.67" height="252.92" fill="#4ca04c"/>
<rect x="326.57" y="831.50" width="2.67" height="30.58" fill="#ffa234"/>
<rect x="326.57" y="821.98" width="2.67" height="9.52" fill="#bd4a4e"/>
<rect x="329.90" y="861.08" width="2.67" height="253.92" fill="#4ca04c"/>
<rect x="329.90" y="831.93" width="2.67" height="29.15" fill="#ffa234"/>
<rect x="329.90" y="821.75" width="2.67" height="10.18" fill="#bd4a4e"/>
<rect x="333.24" y="861.36" width="2.67" height="253.64" fill="#4ca04c"/>
<rect x="333.24" y="830.81" width="2.67" height="30.55" fill="#ffa234"/>
<rect x="333.24" y="821.08" width="2.67" height="9.73" fill="#bd4a4e"/>
<rect x="336.58" y="861.56" width="2.67" height="253.44" fill="#4ca04c"/>
<rect x="336.58" y="831.68" width="2.67" height="29.88" fill="#ffa234"/>
<rect x="336.58" y="821.15" width="2.67" height="10.53" fill="#bd4a4e"/>
<rect x="339.91" y="861.92" width="2.67" height="253.08" fill="#4ca04c"/>
<rect x="339.91" y="830.88" width="2.67" height="31.04" fill="#ffa234"/>
<rect x="339.91" y="822.13" width="2.67" height="8.76" fill="#bd4a4e"/>
<rect x="343.25" y="862.16" width="2.67" height="252.84" fill="#4ca04c"/>
<rect x="343.25" y="830.93" width="2.67" height="31.23" fill="#ffa234"/>
<rect x="343.25" y="822.65" width="2.67" height="8.29" fill="#bd4a4e"/>
<rect x="346.59" y="862.36" width="2.67" height="252.64" fill="#4ca04c"/>
<rect x="346.59" y="832.20" width="2.67" height="30.17" fill="#ffa234"/>
<rect x="346.59" y="822.28" width="2.67" height="9.91" fill="#bd4a4e"/>
<rect x="349.92" y="861.97" width="2.67" height="253.03" fill="#4ca04c"/>
<rect x="349.92" y="830.54" width="2.67" height="31.44" fill="#ffa234"/>
<rect x="349.92" y="821.62" width="2.67" height="8.91" fill="#bd4a4e"/>
<rect x="353.26" y="860.99" width="2.67" height="254.01" fill="#4ca04c"/>
<rect x="353.26" y="831.79" width="2.67" height="29.20" fill="#ffa234"/>
<rect x="353.26" y="820.91" width="2.67" height="10.88" fill="#bd4a4e"/>
<rect x="356.60" y="862.31" width="2.67" height="252.69" fill="#4ca04c"/>
<rect x="356.60" y="831.38" width="2.67" height="30.93" fill="#ffa234"/>
<rect x="356.60" y="822.63" width="2.67" height="8.75" fill="#bd4a4e"/>
<rect x="359.93" y="861.79" width="2.67" height="253.21" fill="#4ca04c"/>
<rect x="359.93" y="831.84" width="2.67" height="29.95" fill="#ffa234"/>
<rect x="359.93" y="821.28" width="2.67" height="10.56" fill="#bd4a4e"/>
<rect x="363.27" y="861.54" width="2.67" height="253.46" fill="#4ca04c"/>
<rect x="363.27" y="831.07" width="2.67" height="30.46" fill="#ffa234"/>
<rect x="363.27" y="821.92" width="2.67" height="9.16" fill="#bd4a4e"/>
<rect x="366.61" y="861.20" width="2.67" height="253.80" fill="#4ca04c"/>
<rect x="366.61" y="831.09" width="2.67" height="30.11" fill="#ffa234"/>
<rect x="366.61" y="821.20" width="2.67" height="9.89" fill="#bd4a4e"/>
<rect x="369.94" y="861.21" width="2.67" height="253.79" fill="#4ca04c"/>
<rect x="369.94" y="831.74" width="2.67" height="29.47" fill="#ffa234"/>
<rect x="369.94" y="822.55" width="2.67" height="9.18" fill="#bd4a4e"/>
<rect x="373.28" y="861.90" width="2.67" height="253.10" fill="#4ca04c"/>
<rect x="373.28" y="830.96" width="2.67" height="30.94" fill="#ffa234"/>
<rect x="373.28" y="821.59" width="2.67" height="9.37" fill="#bd4a4e"/>
<rect x="376.62" y="862.09" width="2.67" height="252.91" fill="#4ca04c"/>
<rect x="376.62" y="831.82" width="2.67" height="30.27" fill="#ffa234"/>
<rect x="376.62" y="822.39" width="2.67" height="9.44" fill="#bd4a4e"/>
<rect x="379.95" y="861.15" width="2.67" height="253.85" fill="#4ca04c"/>
<rect x="379.95" y="831.24" width="2.67" height="29.90" fill="#ffa234"/>
<rect x="379.95" y="822.49" width="2.67" height="8.76" fill="#bd4a4e"/>
<rect x="383.29" y="861.87" width="2.67" height="253.13" fill="#4ca04c"/>
<rect x="383.29" y="830.51" width="2.67" height="31.35" fill="#ffa234"/>
<rect x="383.29" y="822.11" width="2.67" height="8.40" fill="#bd4a4e"/>
<rect x="386.63" y="862.11" width="2.67" height="252.89" fill="#4ca04c"/>
<rect x="386.63" y="830.84" width="2.67" height="31.28" fill="#ffa234"/>
<rect x="386.63" y="821.72" width="2.67" height="9.12" fill="#bd4a4e"/>
<rect x="389.96" y="860.99" width="2.67" height="254.01" fill="#4ca04c"/>
<rect x="389.96" y="832.08" width="2.67" height="28.91" fill="#ffa234"/>
<rect x="389.96" y="821.41" width="2.67" height="10.67" fill="#bd4a4e"/>
<rect x="393.30" y="861.24" width="2.67" height="253.76" fill="#4ca04c"/>
<rect x="393.30" y="830.78" width="2.67" height="30.46" fill="#ffa234"/>
<rect x="393.30" y="821.79" width="2.67" height="8.99" fill="#bd4a4e"/>
<rect x="396.64" y="862.40" width="2.67" height="252.60" fill="#4ca04c"/>
<rect x="396.64" y="831.74" width="2.67" height="30.66" fill="#ffa234"/>
<rect x="396.64" y="820.84" width="2.67" height="10.90" fill="#bd4a4e"/>
<rect x="399.97" y="862.18" width="2.67" height="252.82" fill="#4ca04c"/>
<rect x="399.97" y="830.55" width="2.67" height="31.63" fill="#ffa234"/>
<rect x="399.97" y="822.56" width="2.67" height="7.99" fill="#bd4a4e"/>
<rect x="403.31" y="861.08" width="2.67" height="253.92" fill="#4ca04c"/>
<rect x="403.31" y="831.60" width="2.67" height="29.48" fill="#ffa234"/>
<rect x="403.31" y="821.56" width="2.67" height="10.04" fill="#bd4a4e"/>
<rect x="406.65" y="861.79" width="2.67" height="253.21" fill="#4ca04c"/>
<rect x="406.65" y="831.80" width="2.67" height="29.99" fill="#ffa234"/>
<rect x="406.65" y="820.95" width="2.67" height="10.85" fill="#bd4a4e"/>
<rect x="409.98" y="861.05" width="2.67" height="253.95" fill="#4ca04c"/>
<rect x="409.98" y="832.07" width="2.67" height="28.99" fill="#ffa234"/>
<rect x="409.98" y="821.14" width="2.67" height="10.93" fill="#bd4a4e"/>
<rect x="413.32" y="861.54" width="2.67" height="253.46" fill="#4ca04c"/>
<rect x="413.32" y="831.87" width="2.67" height="29.66" fill="#ffa234"/>
<rect x="413.32" y="821.53" width="2.67" height="10.34" fill="#bd4a4e"/>
<rect x="416.66" y="862.25" width="2.67" height="252.75" fill="#4ca04c"/>
<rect x="416.66" y="831.90" width="2.67" height="30.35" fill="#ffa234"/>
<rect x="416.66" y="822.02" width="2.67" height="9.88" fill="#bd4a4e"/>
<rect x="419.99" y="861.57" width="2.67" height="253.43" fill="#4ca04c"/>
<rect x="419.99" y="831.11" width="2.67" height="30.46" fill="#ffa234"/>
<rect x="419.99" y="822.27" width="2.67" height="8.85" fill="#bd4a4e"/>
<rect x="423.33" y="862.44" width="2.67" height="252.56" fill="#4ca04c"/>
<rect x="423.33" y="831.68" width="2.67" height="30.76" fill="#ffa234"/>
<rect x="423.33" y="822.38" width="2.67" height="9.30" fill="#bd4a4e"/>
<rect x="426.67" y="862.18" width="2.67" height="252.82" fill="#4ca04c"/>
<rect x="426.67" y="831.71" width="2.67" height="30.48" fill="#ffa234"/>
<rect x="426.67" y="821.35" width="2.67" height="10.35" fill="#bd4a4e"/>
<rect x="430.00" y="861.28" width="2.67" height="253.72" fill="#4ca04c"/>
<rect x="430.00" y="831.29" width="2.67" height="29.98" fill="#ffa234"/>
<rect x="430.00" y="822.38" width="2.67" height="8.92" fill="#bd4a4e"/>
<rect x="433.34" y="862.31" width="2.67" height="252.69" fill="#4ca04c"/>
<rect x="433.34" y="831.56" width="2.67" height="30.75" fill="#ffa234"/>
<rect x="433.34" y="822.68" width="2.67" height="8.88" fill="#bd4a4e"/>
<rect x="436.68" y="861.51" width="2.67" height="253.49" fill="#4ca04c"/>
<rect x="436.68" y="832.09" width="2.67" height="29.41" fill="#ffa234"/>
<rect x="436.68" y="821.63" width="2.67" height="10.47" fill="#bd4a4e"/>
<rect x="440.01" y="861.43" width="2.67" height="253.57" fill="#4ca04c"/>
<rect x="440.01" y="831.54" width="2.67" height="29.89" fill="#ffa234"/>
<rect x="440.01" y="822.46" width="2.67" height="9.07" fill="#bd4a4e"/>
<rect x="443.35" y="862.00" width="2.67" height="253.00" fill="#4ca04c"/>
<rect x="443.35" y="830.58" width="2.67" height="31.42" fill="#ffa234"/>
<rect x="443.35" y="822.20" width="2.67" height="8.38" fill="#bd4a4e"/>
<rect x="446.69" y="861.62" width="2.67" height="253.38" fill="#4ca04c"/>
<rect x="446.69" y="831.63" width="2.67" height="29.99" fill="#ffa234"/>
<rect x="446.69" y="822.14" width="2.67" height="9.49" fill="#bd4a4e"/>
<rect x="450.02" y="861.18" width="2.67" height="253.82" fill="#4ca04c"/>
<rect x="450.02" y="830.51" width="2.67" height="30.67" fill="#ffa234"/>
<rect x="450.02" y="821.92" width="2.67" height="8.59" fill="#bd4a4e"/>
<rect x="453.36" y="862.16" width="2.67" height="252.84" fill="#4ca04c"/>
<rect x="453.36" y="830.98" width="2.67" height="31.19" fill="#ffa234"/>
<rect x="453.36" y="822.03" width="2.67" height="8.95" fill="#bd4a4e"/>
<rect x="456.70" y="862.45" width="2.67" height="252.55" fill="#4ca04c"/>
<rect x="456.70" y="830.67" width="2.67" height="31.77" fill="#ffa234"/>
<rect x="456.70" y="822.38" width="2.67" height="8.30" fill="#bd4a4e"/>
<rect x="460.03" y="861.24" width="2.67" height="253.76" fill="#4ca04c"/>
<rect x="460.03" y="831.54" width="2.67" height="29.70" fill="#ffa234"/>
<rect x="460.03" y="821.90" width="2.67" height="9.64" fill="#bd4a4e"/>
<rect x="463.37" y="861.77" width="2.67" height="253.23" fill="#4ca04c"/>
<rect x="463.37" y="831.97" width="2.67" height="29.80" fill="#ffa234"/>
<rect x="463.37" y="820.91" width="2.67" height="11.06" fill="#bd4a4e"/>
<rect x="466.71" y="861.64" width="2.67" height="253.36" fill="#4ca04c"/>
<rect x="466.71" y="831.13" width="2.67" height="30.51" fill="#ffa234"/>
<rect x="466.71" y="822.78" width="2.67" height="8.35" fill="#bd4a4e"/>
<rect x="470.04" y="862.33" width="2.67" height="252.67" fill="#4ca04c"/>
<rect x="470.04" y="831.16" width="2.67" height="31.16" fill="#ffa234"/>
<rect x="470.04" y="820.85" width="2.67" height="10.31" fill="#bd4a4e"/>
<rect x="473.38" y="861.71" width="2.67" height="253.29" fill="#4ca04c"/>
<rect x="473.38" y="832.00" width="2.67" height="29.71" fill="#ffa234"/>
<rect x="473.38" y="822.02" width="2.67" height="9.98" fill="#bd4a4e"/>
<rect x="476.72" y="861.68" width="2.67" height="253.32" fill="#4ca04c"/>
<rect x="476.72" y="830.63" width="2.67" height="31.05" fill="#ffa234"/>
<rect x="476.72" y="822.21" width="2.67" height="8.43" fill="#bd4a4e"/>
<rect x="480.05" y="861.73" width="2.67" height="253.27" fill="#4ca04c"/>
<rect x="480.05" y="830.84" width="2.67" height="30.89" fill="#ffa234"/>
<rect x="480.05" y="822.58" width="2.67" height="8.26" fill="#bd4a4e"/>
<rect x="483.39" y="862.16" width="2.67" height="252.84" fill="#4ca04c"/>
<rect x="483.39" y="832.03" width="2.67" height="30.13" fill="#ffa234"/>
<rect x="483.39" y="820.73" width="2.67" height="11.30" fill="#bd4a4e"/>
<rect x="486.73" y="861.01" width="2.67" height="253.99" fill="#4ca04c"/>
<rect x="486.73" y="831.41" width="2.67" height="29.60" fill="#ffa234"/>
<rect x="486.73" y="820.78" width="2.67" height="10.63" fill="#bd4a4e"/>
<rect x="490.06" y="861.08" width="2.67" height="253.92" fill="#4ca04c"/>
<rect x="490.06" y="831.57" width="2.67" height="29.51" fill="#ffa234"/>
<rect x="490.06" y="822.70" width="2.67" height="8.87" fill="#bd4a4e"/>
<rect x="493.40" y="913.76" width="2.67" height="201.24" fill="#4ca04c"/>
<rect x="493.40" y="882.77" width="2.67" height="30.99" fill="#ffa234"/>
<rect x="493.40" y="872.67" width="2.67" height="10.10" fill="#bd4a4e"/>
<rect x="493.40" y="820.87" width="2.67" height="51.81" fill="#ff2a2a"/>
<rect x="496.74" y="907.82" width="2.67" height="207.18" fill="#4ca04c"/>
<rect x="496.74" y="876.14" width="2.67" height="31.68" fill="#ffa234"/>
<rect x="496.74" y="866.24" width="2.67" height="9.90" fill="#bd4a4e"/>
<rect x="496.74" y="821.48" width="2.67" height="44.76" fill="#ff2a2a"/>
<rect x="500.07" y="909.80" width="2.67" height="205.20" fill="#4ca04c"/>
<rect x="500.07" y="878.12" width="2.67" height="31.68" fill="#ffa234"/>
<rect x="500.07" y="868.51" width="2.67" height="9.60" fill="#bd4a4e"/>
<rect x="500.07" y="821.04" width="2.67" height="47.48" fill="#ff2a2a"/>
<rect x="503.41" y="899.21" width="2.67" height="215.79" fill="#4ca04c"/>
<rect x="503.41" y="868.71" width="2.67" height="30.50" fill="#ffa234"/>
<rect x="503.41" y="858.32" width="2.67" height="10.40" fill="#bd4a4e"/>
<rect x="503.41" y="822.47" width="2.67" height="35.85" fill="#ff2a2a"/>
<rect x="506.75" y="910.10" width="2.67" height="204.90" fill="#4ca04c"/>
<rect x="506.75" y="878.61" width="2.67" height="31.49" fill="#ffa234"/>
<rect x="506.75" y="868.71" width="2.67" height="9.90" fill="#bd4a4e"/>
<rect x="506.75" y="821.12" width="2.67" height="47.59" fill="#ff2a2a"/>
<rect x="510.08" y="894.26" width="2.67" height="220.74" fill="#4ca04c"/>
<rect x="510.08" y="863.27" width="2.67" height="30.99" fill="#ffa234"/>
<rect x="510.08" y="853.66" width="2.67" height="9.60" fill="#bd4a4e"/>
<rect x="510.08" y="822.34" width="2.67" height="31.33" fill="#ff2a2a"/>
<rect x="513.42" y="898.22" width="2.67" height="216.78" fill="#4ca04c"/>
<rect x="513.42" y="867.72" width="2.67" height="30.50" fill="#ffa234"/>
<rect x="513.42" y="857.82" width="2.67" height="9.90" fill="#bd4a4e"/>
<rect x="513.42" y="821.94" width="2.67" height="35.88" fill="#ff2a2a"/>
<rect x="516.75" y="891.98" width="2.67" height="223.02" fill="#4ca04c"/>
<rect x="516.75" y="860.30" width="2.67" height="31.68" fill="#ffa234"/>
<rect x="516.75" y="850.40" width="2.67" height="9.90" fill="#bd4a4e"/>
<rect x="516.75" y="820.99" width="2.67" height="29.41" fill="#ff2a2a"/>
<rect x="520.09" y="901.19" width="2.67" height="213.81" fill="#4ca04c"/>
<rect x="520.09" y="870.50" width="2.67" height="30.69" fill="#ffa234"/>
<rect x="520.09" y="860.59" width="2.67" height="9.90" fill="#bd4a4e"/>
<rect x="520.09" y="821.03" width="2.67" height="39.57" fill="#ff2a2a"/>
<rect x="523.43" y="894.95" width="2.67" height="220.05" fill="#4ca04c"/>
<rect x="523.43" y="863.56" width="2.67" height="31.39" fill="#ffa234"/>
<rect x="523.43" y="853.37" width="2.67" height="10.20" fill="#bd4a4e"/>
<rect x="523.43" y="822.42" width="2.67" height="30.94" fill="#ff2a2a"/>
<rect x="526.76" y="899.21" width="2.67" height="215.79" fill="#4ca04c"/>
<rect x="526.76" y="867.72" width="2.67" height="31.49" fill="#ffa234"/>
<rect x="526.76" y="857.62" width="2.67" height="10.10" fill="#bd4a4e"/>
<rect x="526.76" y="822.35" width="2.67" height="35.28" fill="#ff2a2a"/>
<rect x="530.10" y="899.21" width="2.67" height="215.79" fill="#4ca04c"/>
<rect x="530.10" y="868.51" width="2.67" height="30.69" fill="#ffa234"/>
<rect x="530.10" y="858.61" width="2.67" height="9.90" fill="#bd4a4e"/>
<rect x="530.10" y="821.95" width="2.67" height="36.66" fill="#ff2a2a"/>
<rect x="533.44" y="899.90" width="2.67" height="215.10" fill="#4ca04c"/>
<rect x="533.44" y="868.71" width="2.67" height="31.19" fill="#ffa234"/>
<rect x="533.44" y="858.61" width="2.67" height="10.10" fill="#bd4a4e"/>
<rect x="533.44" y="821.70" width="2.67" height="36.91" fill="#ff2a2a"/>
<rect x="536.77" y="898.22" width="2.67" height="216.78" fill="#4ca04c"/>
<rect x="536.77" y="867.52" width="2.67" height="30.69" fill="#ffa234"/>
<rect x="536.77" y="857.62" width="2.67" height="9.90" fill="#bd4a4e"/>
<rect x="536.77" y="821.99" width="2.67" height="35.64" fill="#ff2a2a"/>
<rect x="540.11" y="899.41" width="2.67" height="215.59" fill="#4ca04c"/>
<rect x="540.11" y="867.92" width="2.67" height="31.49" fill="#ffa234"/>
<rect x="540.11" y="857.82" width="2.67" height="10.10" fill="#bd4a4e"/>
<rect x="540.11" y="822.55" width="2.67" height="35.27" fill="#ff2a2a"/>
<rect x="543.45" y="895.64" width="2.67" height="219.36" fill="#4ca04c"/>
<rect x="543.45" y="864.26" width="2.67" height="31.39" fill="#ffa234"/>
<rect x="543.45" y="854.65" width="2.67" height="9.60" fill="#bd4a4e"/>
<rect x="543.45" y="822.28" width="2.67" height="32.37" fill="#ff2a2a"/>
<rect x="546.78" y="894.26" width="2.67" height="220.74" fill="#4ca04c"/>
<rect x="546.78" y="863.76" width="2.67" height="30.50" fill="#ffa234"/>
<rect x="546.78" y="853.66" width="2.67" height="10.10" fill="#bd4a4e"/>
<rect x="546.78" y="821.25" width="2.67" height="32.41" fill="#ff2a2a"/>
<rect x="550.12" y="892.67" width="2.67" height="222.33" fill="#4ca04c"/>
<rect x="550.12" y="860.59" width="2.67" height="32.08" fill="#ffa234"/>
<rect x="550.12" y="850.40" width="2.67" height="10.20" fill="#bd4a4e"/>
<rect x="550.12" y="820.88" width="2.67" height="29.52" fill="#ff2a2a"/>
<rect x="553.46" y="894.95" width="2.67" height="220.05" fill="#4ca04c"/>
<rect x="553.46" y="864.55" width="2.67" height="30.40" fill="#ffa234"/>
<rect x="553.46" y="854.36" width="2.67" height="10.20" fill="#bd4a4e"/>
<rect x="553.46" y="822.73" width="2.67" height="31.63" fill="#ff2a2a"/>
<rect x="556.79" y="892.67" width="2.67" height="222.33" fill="#4ca04c"/>
<rect x="556.79" y="861.29" width="2.67" height="31.39" fill="#ffa234"/>
<rect x="556.79" y="851.68" width="2.67" height="9.60" fill="#bd4a4e"/>
<rect x="556.79" y="821.60" width="2.67" height="30.08" fill="#ff2a2a"/>
<rect x="560.13" y="893.96" width="2.67" height="221.04" fill="#4ca04c"/>
<rect x="560.13" y="862.28" width="2.67" height="31.68" fill="#ffa234"/>
<rect x="560.13" y="852.38" width="2.67" height="9.90" fill="#bd4a4e"/>
<rect x="560.13" y="821.18" width="2.67" height="31.19" fill="#ff2a2a"/>
<rect x="563.47" y="933.07" width="2.67" height="181.93" fill="#4ca04c"/>
<rect x="563.47" y="900.59" width="2.67" height="32.48" fill="#ffa234"/>
<rect x="563.47" y="890.50" width="2.67" height="10.10" fill="#bd4a4e"/>
<rect x="563.47" y="822.73" width="2.67" height="67.76" fill="#ff2a2a"/>
<rect x="566.80" y="934.85" width="2.67" height="180.15" fill="#4ca04c"/>
<rect x="566.80" y="901.88" width="2.67" height="32.97" fill="#ffa234"/>
<rect x="566.80" y="891.49" width="2.67" height="10.40" fill="#bd4a4e"/>
<rect x="566.80" y="821.01" width="2.67" height="70.48" fill="#ff2a2a"/>
<rect x="570.14" y="915.74" width="2.67" height="199.26" fill="#4ca04c"/>
<rect x="570.14" y="883.56" width="2.67" height="32.18" fill="#ffa234"/>
<rect x="570.14" y="873.47" width="2.67" height="10.10" fill="#bd4a4e"/>
<rect x="570.14" y="822.56" width="2.67" height="50.90" fill="#ff2a2a"/>
<rect x="573.48" y="933.07" width="2.67" height="181.93" fill="#4ca04c"/>
<rect x="573.48" y="900.40" width="2.67" height="32.67" fill="#ffa234"/>
<rect x="573.48" y="890.50" width="2.67" height="9.90" fill="#bd4a4e"/>
<rect x="573.48" y="821.52" width="2.67" height="68.97" fill="#ff2a2a"/>
<rect x="576.81" y="928.32" width="2.67" height="186.68" fill="#4ca04c"/>
<rect x="576.81" y="896.44" width="2.67" height="31.88" fill="#ffa234"/>
<rect x="576.81" y="886.53" width="2.67" height="9.90" fill="#bd4a4e"/>
<rect x="576.81" y="821.63" width="2.67" height="64.91" fill="#ff2a2a"/>
<rect x="580.15" y="911.78" width="2.67" height="203.22" fill="#4ca04c"/>
<rect x="580.15" y="879.41" width="2.67" height="32.38" fill="#ffa234"/>
<rect x="580.15" y="869.50" width="2.67" height="9.90" fill="#bd4a4e"/>
<rect x="580.15" y="821.46" width="2.67" height="48.04" fill="#ff2a2a"/>
<rect x="583.49" y="941.49" width="2.67" height="173.51" fill="#4ca04c"/>
<rect x="583.49" y="908.32" width="2.67" height="33.17" fill="#ffa234"/>
<rect x="583.49" y="898.42" width="2.67" height="9.90" fill="#bd4a4e"/>
<rect x="583.49" y="822.16" width="2.67" height="76.26" fill="#ff2a2a"/>
<rect x="586.82" y="975.54" width="2.67" height="139.46" fill="#4ca04c"/>
<rect x="586.82" y="942.48" width="2.67" height="33.07" fill="#ffa234"/>
<rect x="586.82" y="932.57" width="2.67" height="9.90" fill="#bd4a4e"/>
<rect x="586.82" y="821.91" width="2.67" height="110.66" fill="#ff2a2a"/>
<rect x="590.16" y="971.39" width="2.67" height="143.61" fill="#4ca04c"/>
<rect x="590.16" y="937.72" width="2.67" height="33.66" fill="#ffa234"/>
<rect x="590.16" y="927.62" width="2.67" height="10.10" fill="#bd4a4e"/>
<rect x="590.16" y="821.56" width="2.67" height="106.06" fill="#ff2a2a"/>
<rect x="593.50" y="968.42" width="2.67" height="146.58" fill="#4ca04c"/>
<rect x="593.50" y="934.55" width="2.67" height="33.86" fill="#ffa234"/>
<rect x="593.50" y="924.65" width="2.67" height="9.90" fill="#bd4a4e"/>
<rect x="593.50" y="821.90" width="2.67" height="102.76" fill="#ff2a2a"/>
<rect x="596.83" y="974.85" width="2.67" height="140.15" fill="#4ca04c"/>
<rect x="596.83" y="940.50" width="2.67" height="34.36" fill="#ffa234"/>
<rect x="596.83" y="930.79" width="2.67" height="9.70" fill="#bd4a4e"/>
<rect x="596.83" y="821.39" width="2.67" height="109.40" fill="#ff2a2a"/>
<rect x="600.17" y="963.96" width="2.67" height="151.04" fill="#4ca04c"/>
<rect x="600.17" y="930.30" width="2.67" height="33.66" fill="#ffa234"/>
<rect x="600.17" y="920.69" width="2.67" height="9.60" fill="#bd4a4e"/>
<rect x="600.17" y="821.85" width="2.67" height="98.84" fill="#ff2a2a"/>
<rect x="603.51" y="965.94" width="2.67" height="149.06" fill="#4ca04c"/>
<rect x="603.51" y="933.27" width="2.67" height="32.67" fill="#ffa234"/>
<rect x="603.51" y="923.37" width="2.67" height="9.90" fill="#bd4a4e"/>
<rect x="603.51" y="821.87" width="2.67" height="101.50" fill="#ff2a2a"/>
<rect x="606.84" y="966.44" width="2.67" height="148.56" fill="#4ca04c"/>
<rect x="606.84" y="932.57" width="2.67" height="33.86" fill="#ffa234"/>
<rect x="606.84" y="922.67" width="2.67" height="9.90" fill="#bd4a4e"/>
<rect x="606.84" y="822.77" width="2.67" height="99.91" fill="#ff2a2a"/>
<rect x="610.18" y="966.93" width="2.67" height="148.07" fill="#4ca04c"/>
<rect x="610.18" y="933.96" width="2.67" height="32.97" fill="#ffa234"/>
<rect x="610.18" y="924.36" width="2.67" height="9.60" fill="#bd4a4e"/>
<rect x="610.18" y="821.48" width="2.67" height="102.88" fill="#ff2a2a"/>
<rect x="613.52" y="976.53" width="2.67" height="138.47" fill="#4ca04c"/>
<rect x="613.52" y="942.87" width="2.67" height="33.66" fill="#ffa234"/>
<rect x="613.52" y="932.97" width="2.67" height="9.90" fill="#bd4a4e"/>
<rect x="613.52" y="821.76" width="2.67" height="111.21" fill="#ff2a2a"/>
<rect x="616.85" y="976.14" width="2.67" height="138.86" fill="#4ca04c"/>
<rect x="616.85" y="942.18" width="2.67" height="33.96" fill="#ffa234"/>
<rect x="616.85" y="932.57" width="2.67" height="9.60" fill="#bd4a4e"/>
<rect x="616.85" y="822.31" width="2.67" height="110.27" fill="#ff2a2a"/>
<rect x="620.19" y="972.87" width="2.67" height="142.13" fill="#4ca04c"/>
<rect x="620.19" y="939.50" width="2.67" height="33.37" fill="#ffa234"/>
<rect x="620.19" y="929.31" width="2.67" height="10.20" fill="#bd4a4e"/>
<rect x="620.19" y="821.17" width="2.67" height="108.14" fill="#ff2a2a"/>
<rect x="623.53" y="972.18" width="2.67" height="142.82" fill="#4ca04c"/>
<rect x="623.53" y="938.22" width="2.67" height="33.96" fill="#ffa234"/>
<rect x="623.53" y="928.32" width="2.67" height="9.90" fill="#bd4a4e"/>
<rect x="623.53" y="821.13" width="2.67" height="107.18" fill="#ff2a2a"/>
<rect x="626.86" y="984.06" width="2.67" height="130.94" fill="#4ca04c"/>
<rect x="626.86" y="949.41" width="2.67" height="34.65" fill="#ffa234"/>
<rect x="626.86" y="939.50" width="2.67" height="9.90" fill="#bd4a4e"/>
<rect x="626.86" y="821.83" width="2.67" height="117.68" fill="#ff2a2a"/>
<rect x="630.20" y="988.22" width="2.67" height="126.78" fill="#4ca04c"/>
<rect x="630.20" y="953.37" width="2.67" height="34.85" fill="#ffa234"/>
<rect x="630.20" y="943.66" width="2.67" height="9.70" fill="#bd4a4e"/>
<rect x="630.20" y="822.43" width="2.67" height="121.23" fill="#ff2a2a"/>
<rect x="633.54" y="983.76" width="2.67" height="131.24" fill="#4ca04c"/>
<rect x="633.54" y="949.11" width="2.67" height="34.65" fill="#ffa234"/>
<rect x="633.54" y="939.21" width="2.67" height="9.90" fill="#bd4a4e"/>
<rect x="633.54" y="821.80" width="2.67" height="117.41" fill="#ff2a2a"/>
<rect x="636.87" y="986.04" width="2.67" height="128.96" fill="#4ca04c"/>
<rect x="636.87" y="950.59" width="2.67" height="35.45" fill="#ffa234"/>
<rect x="636.87" y="940.69" width="2.67" height="9.90" fill="#bd4a4e"/>
<rect x="636.87" y="822.59" width="2.67" height="118.11" fill="#ff2a2a"/>
<rect x="640.21" y="984.75" width="2.67" height="130.25" fill="#4ca04c"/>
<rect x="640.21" y="950.40" width="2.67" height="34.36" fill="#ffa234"/>
<rect x="640.21" y="940.20" width="2.67" height="10.20" fill="#bd4a4e"/>
<rect x="640.21" y="822.54" width="2.67" height="117.66" fill="#ff2a2a"/>
<rect x="643.55" y="984.75" width="2.67" height="130.25" fill="#4ca04c"/>
<rect x="643.55" y="949.60" width="2.67" height="35.15" fill="#ffa234"/>
<rect x="643.55" y="939.50" width="2.67" height="10.10" fill="#bd4a4e"/>
<rect x="643.55" y="821.89" width="2.67" height="117.62" fill="#ff2a2a"/>
<rect x="646.88" y="995.94" width="2.67" height="119.06" fill="#4ca04c"/>
<rect x="646.88" y="959.31" width="2.67" height="36.63" fill="#ffa234"/>
<rect x="646.88" y="949.60" width="2.67" height="9.70" fill="#bd4a4e"/>
<rect x="646.88" y="822.62" width="2.67" height="126.99" fill="#ff2a2a"/>
<rect x="650.22" y="990.00" width="2.67" height="125.00" fill="#4ca04c"/>
<rect x="650.22" y="955.35" width="2.67" height="34.65" fill="#ffa234"/>
<rect x="650.22" y="945.64" width="2.67" height="9.70" fill="#bd4a4e"/>
<rect x="650.22" y="821.86" width="2.67" height="123.78" fill="#ff2a2a"/>
<rect x="653.56" y="995.64" width="2.67" height="119.36" fill="#4ca04c"/>
<rect x="653.56" y="959.31" width="2.67" height="36.34" fill="#ffa234"/>
<rect x="653.56" y="949.41" width="2.67" height="9.90" fill="#bd4a4e"/>
<rect x="653.56" y="821.72" width="2.67" height="127.69" fill="#ff2a2a"/>
<rect x="656.89" y="990.99" width="2.67" height="124.01" fill="#4ca04c"/>
<rect x="656.89" y="955.74" width="2.67" height="35.25" fill="#ffa234"/>
<rect x="656.89" y="945.84" width="2.67" height="9.90" fill="#bd4a4e"/>
<rect x="656.89" y="822.73" width="2.67" height="123.11" fill="#ff2a2a"/>
<rect x="660.23" y="993.96" width="2.67" height="121.04" fill="#4ca04c"/>
<rect x="660.23" y="958.51" width="2.67" height="35.45" fill="#ffa234"/>
<rect x="660.23" y="948.81" width="2.67" height="9.70" fill="#bd4a4e"/>
<rect x="660.23" y="821.44" width="2.67" height="127.37" fill="#ff2a2a"/>
<rect x="663.57" y="994.65" width="2.67" height="120.35" fill="#4ca04c"/>
<rect x="663.57" y="959.31" width="2.67" height="35.35" fill="#ffa234"/>
<rect x="663.57" y="949.41" width="2.67" height="9.90" fill="#bd4a4e"/>
<rect x="663.57" y="822.64" width="2.67" height="126.77" fill="#ff2a2a"/>
<rect x="666.90" y="997.62" width="2.67" height="117.38" fill="#4ca04c"/>
<rect x="666.90" y="961.29" width="2.67" height="36.34" fill="#ffa234"/>
<rect x="666.90" y="951.58" width="2.67" height="9.70" fill="#bd4a4e"/>
<rect x="666.90" y="821.23" width="2.67" height="130.35" fill="#ff2a2a"/>
<rect x="670.24" y="1002.08" width="2.67" height="112.92" fill="#4ca04c"/>
<rect x="670.24" y="965.64" width="2.67" height="36.44" fill="#ffa234"/>
<rect x="670.24" y="955.74" width="2.67" height="9.90" fill="#bd4a4e"/>
<rect x="670.24" y="821.14" width="2.67" height="134.60" fill="#ff2a2a"/>
<rect x="673.58" y="995.94" width="2.67" height="119.06" fill="#4ca04c"/>
<rect x="673.58" y="960.50" width="2.67" height="35.45" fill="#ffa234"/>
<rect x="673.58" y="950.59" width="2.67" height="9.90" fill="#bd4a4e"/>
<rect x="673.58" y="821.71" width="2.67" height="128.88" fill="#ff2a2a"/>
<rect x="676.91" y="996.34" width="2.67" height="118.66" fill="#4ca04c"/>
<rect x="676.91" y="960.69" width="2.67" height="35.64" fill="#ffa234"/>
<rect x="676.91" y="950.59" width="2.67" height="10.10" fill="#bd4a4e"/>
<rect x="676.91" y="822.70" width="2.67" height="127.89" fill="#ff2a2a"/>
<rect x="680.25" y="995.94" width="2.67" height="119.06" fill="#4ca04c"/>
<rect x="680.25" y="960.99" width="2.67" height="34.95" fill="#ffa234"/>
<rect x="680.25" y="951.09" width="2.67" height="9.90" fill="#bd4a4e"/>
<rect x="680.25" y="821.73" width="2.67" height="129.36" fill="#ff2a2a"/>
<rect x="683.59" y="999.60" width="2.67" height="115.40" fill="#4ca04c"/>
<rect x="683.59" y="962.97" width="2.67" height="36.63" fill="#ffa234"/>
<rect x="683.59" y="953.37" width="2.67" height="9.60" fill="#bd4a4e"/>
<rect x="683.59" y="822.00" width="2.67" height="131.37" fill="#ff2a2a"/>
<rect x="686.92" y="1003.47" width="2.67" height="111.53" fill="#4ca04c"/>
<rect x="686.92" y="966.63" width="2.67" height="36.83" fill="#ffa234"/>
<rect x="686.92" y="956.24" width="2.67" height="10.40" fill="#bd4a4e"/>
<rect x="686.92" y="820.76" width="2.67" height="135.47" fill="#ff2a2a"/>
<rect x="690.26" y="1000.79" width="2.67" height="114.21" fill="#4ca04c"/>
<rect x="690.26" y="965.45" width="2.67" height="35.35" fill="#ffa234"/>
<rect x="690.26" y="955.54" width="2.67" height="9.90" fill="#bd4a4e"/>
<rect x="690.26" y="822.52" width="2.67" height="133.02" fill="#ff2a2a"/>
<rect x="693.60" y="1000.79" width="2.67" height="114.21" fill="#4ca04c"/>
<rect x="693.60" y="964.65" width="2.67" height="36.14" fill="#ffa234"/>
<rect x="693.60" y="954.75" width="2.67" height="9.90" fill="#bd4a4e"/>
<rect x="693.60" y="820.97" width="2.67" height="133.79" fill="#ff2a2a"/>
<rect x="696.93" y="1002.28" width="2.67" height="112.72" fill="#4ca04c"/>
<rect x="696.93" y="966.63" width="2.67" height="35.64" fill="#ffa234"/>
<rect x="696.93" y="956.53" width="2.67" height="10.10" fill="#bd4a4e"/>
<rect x="696.93" y="820.67" width="2.67" height="135.87" fill="#ff2a2a"/>
<rect x="700.27" y="1000.79" width="2.67" height="114.21" fill="#4ca04c"/>
<rect x="700.27" y="964.16" width="2.67" height="36.63" fill="#ffa234"/>
<rect x="700.27" y="954.26" width="2.67" height="9.90" fill="#bd4a4e"/>
<rect x="700.27" y="821.24" width="2.67" height="133.02" fill="#ff2a2a"/>
<rect x="703.61" y="1003.47" width="2.67" height="111.53" fill="#4ca04c"/>
<rect x="703.61" y="966.63" width="2.67" height="36.83" fill="#ffa234"/>
<rect x="703.61" y="956.53" width="2.67" height="10.10" fill="#bd4a4e"/>
<rect x="703.61" y="821.06" width="2.67" height="135.48" fill="#ff2a2a"/>
<rect x="706.94" y="1000.79" width="2.67" height="114.21" fill="#4ca04c"/>
<rect x="706.94" y="965.15" width="2.67" height="35.64" fill="#ffa234"/>
<rect x="706.94" y="955.25" width="2.67" height="9.90" fill="#bd4a4e"/>
<rect x="706.94" y="822.40" width="2.67" height="132.85" fill="#ff2a2a"/>
<rect x="710.28" y="1000.10" width="2.67" height="114.90" fill="#4ca04c"/>
<rect x="710.28" y="963.86" width="2.67" height="36.24" fill="#ffa234"/>
<rect x="710.28" y="953.76" width="2.67" height="10.10" fill="#bd4a4e"/>
<rect x="710.28" y="820.70" width="2.67" height="133.06" fill="#ff2a2a"/>
<rect x="713.62" y="999.80" width="2.67" height="115.20" fill="#4ca04c"/>
<rect x="713.62" y="964.46" width="2.67" height="35.35" fill="#ffa234"/>
<rect x="713.62" y="954.26" width="2.67" height="10.20" fill="#bd4a4e"/>
<rect x="713.62" y="821.76" width="2.67" height="132.50" fill="#ff2a2a"/>
<rect x="716.95" y="1000.30" width="2.67" height="114.70" fill="#4ca04c"/>
<rect x="716.95" y="964.16" width="2.67" height="36.14" fill="#ffa234"/>
<rect x="716.95" y="954.26" width="2.67" height="9.90" fill="#bd4a4e"/>
<rect x="716.95" y="820.75" width="2.67" height="133.51" fill="#ff2a2a"/>
<rect x="720.29" y="1001.78" width="2.67" height="113.22" fill="#4ca04c"/>
<rect x="720.29" y="965.64" width="2.67" height="36.14" fill="#ffa234"/>
<rect x="720.29" y="955.94" width="2.67" height="9.70" fill="#bd4a4e"/>
<rect x="720.29" y="820.84" width="2.67" height="135.10" fill="#ff2a2a"/>
<rect x="723.63" y="1000.30" width="2.67" height="114.70" fill="#4ca04c"/>
<rect x="723.63" y="963.86" width="2.67" height="36.44" fill="#ffa234"/>
<rect x="723.63" y="953.76" width="2.67" height="10.10" fill="#bd4a4e"/>
<rect x="723.63" y="822.46" width="2.67" height="131.30" fill="#ff2a2a"/>
<rect x="726.96" y="1000.79" width="2.67" height="114.21" fill="#4ca04c"/>
<rect x="726.96" y="964.46" width="2.67" height="36.34" fill="#ffa234"/>
<rect x="726.96" y="954.55" width="2.67" height="9.90" fill="#bd4a4e"/>
<rect x="726.96" y="821.12" width="2.67" height="133.44" fill="#ff2a2a"/>
<rect x="730.30" y="1001.78" width="2.67" height="113.22" fill="#4ca04c"/>
<rect x="730.30" y="966.44" width="2.67" height="35.35" fill="#ffa234"/>
<rect x="730.30" y="956.53" width="2.67" height="9.90" fill="#bd4a4e"/>
<rect x="730.30" y="820.81" width="2.67" height="135.73" fill="#ff2a2a"/>
<rect x="733.64" y="1001.29" width="2.67" height="113.71" fill="#4ca04c"/>
<rect x="733.64" y="964.65" width="2.67" height="36.63" fill="#ffa234"/>
<rect x="733.64" y="954.26" width="2.67" height="10.40" fill="#bd4a4e"/>
<rect x="733.64" y="822.67" width="2.67" height="131.58" fill="#ff2a2a"/>
<rect x="736.97" y="1002.08" width="2.67" height="112.92" fill="#4ca04c"/>
<rect x="736.97" y="966.44" width="2.67" height="35.64" fill="#ffa234"/>
<rect x="736.97" y="956.24" width="2.67" height="10.20" fill="#bd4a4e"/>
<rect x="736.97" y="822.06" width="2.67" height="134.18" fill="#ff2a2a"/>
<rect x="740.31" y="1000.79" width="2.67" height="114.21" fill="#4ca04c"/>
<rect x="740.31" y="965.15" width="2.67" height="35.64" fill="#ffa234"/>
<rect x="740.31" y="955.25" width="2.67" height="9.90" fill="#bd4a4e"/>
<rect x="740.31" y="821.18" width="2.67" height="134.06" fill="#ff2a2a"/>
<rect x="743.65" y="1001.29" width="2.67" height="113.71" fill="#4ca04c"/>
<rect x="743.65" y="964.16" width="2.67" height="37.13" fill="#ffa234"/>
<rect x="743.65" y="954.26" width="2.67" height="9.90" fill="#bd4a4e"/>
<rect x="743.65" y="822.47" width="2.67" height="131.78" fill="#ff2a2a"/>
<rect x="746.98" y="998.32" width="2.67" height="116.68" fill="#4ca04c"/>
<rect x="746.98" y="962.18" width="2.67" height="36.14" fill="#ffa234"/>
<rect x="746.98" y="952.57" width="2.67" height="9.60" fill="#bd4a4e"/>
<rect x="746.98" y="820.88" width="2.67" height="131.69" fill="#ff2a2a"/>
<rect x="750.32" y="1005.05" width="2.67" height="109.95" fill="#4ca04c"/>
<rect x="750.32" y="968.12" width="2.67" height="36.93" fill="#ffa234"/>
<rect x="750.32" y="958.22" width="2.67" height="9.90" fill="#bd4a4e"/>
<rect x="750.32" y="822.22" width="2.67" height="135.99" fill="#ff2a2a"/>
<rect x="753.66" y="1003.07" width="2.67" height="111.93" fill="#4ca04c"/>
<rect x="753.66" y="967.13" width="2.67" height="35.94" fill="#ffa234"/>
<rect x="753.66" y="957.23" width="2.67" height="9.90" fill="#bd4a4e"/>
<rect x="753.66" y="821.06" width="2.67" height="136.17" fill="#ff2a2a"/>
<rect x="756.99" y="1006.73" width="2.67" height="108.27" fill="#4ca04c"/>
<rect x="756.99" y="970.10" width="2.67" height="36.63" fill="#ffa234"/>
<rect x="756.99" y="960.50" width="2.67" height="9.60" fill="#bd4a4e"/>
<rect x="756.99" y="822.51" width="2.67" height="137.99" fill="#ff2a2a"/>
<rect x="760.33" y="1007.72" width="2.67" height="107.28" fill="#4ca04c"/>
<rect x="760.33" y="970.59" width="2.67" height="37.13" fill="#ffa234"/>
<rect x="760.33" y="960.69" width="2.67" height="9.90" fill="#bd4a4e"/>
<rect x="760.33" y="821.73" width="2.67" height="138.96" fill="#ff2a2a"/>
</g>
<g stroke="#b0b0b0" stroke-opacity="0.25" stroke-width="1">
<line x1="59.5" y1="1061.50" x2="796.5" y2="1061.50"/>
<line x1="59.5" y1="1007.50" x2="796.5" y2="1007.50"/>
<line x1="59.5" y1="953.50" x2="796.5" y2="953.50"/>
<line x1="59.5" y1="899.50" x2="796.5" y2="899.50"/>
<line x1="59.5" y1="845.50" x2="796.5" y2="845.50"/>
</g>
<rect x="59.5" y="790.6" width="737.0" height="324.40" fill="none" stroke="#000" stroke-width="0.72"/>
<g stroke="#000" stroke-width="0.72">
<line x1="56.37" y1="1115.00" x2="59.5" y2="1115.00"/>
<line x1="56.37" y1="1061.07" x2="59.5" y2="1061.07"/>
<line x1="56.37" y1="1007.13" x2="59.5" y2="1007.13"/>
<line x1="56.37" y1="953.20" x2="59.5" y2="953.20"/>
<line x1="56.37" y1="899.27" x2="59.5" y2="899.27"/>
<line x1="56.37" y1="845.33" x2="59.5" y2="845.33"/>
<line x1="56.37" y1="791.40" x2="59.5" y2="791.40"/>
<line x1="94.33" y1="1115.0" x2="94.33" y2="1118.13"/>
<line x1="97.67" y1="1115.0" x2="97.67" y2="1118.13"/>
<line x1="101.01" y1="1115.0" x2="101.01" y2="1118.13"/>
<line x1="104.34" y1="1115.0" x2="104.34" y2="1118.13"/>
<line x1="107.68" y1="1115.0" x2="107.68" y2="1118.13"/>
<line x1="111.02" y1="1115.0" x2="111.02" y2="1118.13"/>
<line x1="114.35" y1="1115.0" x2="114.35" y2="1118.13"/>
<line x1="117.69" y1="1115.0" x2="117.69" y2="1118.13"/>
<line x1="121.03" y1="1115.0" x2="121.03" y2="1118.13"/>
<line x1="124.36" y1="1115.0" x2="124.36" y2="1118.13"/>
<line x1="127.70" y1="1115.0" x2="127.70" y2="1118.13"/>
<line x1="131.04" y1="1115.0" x2="131.04" y2="1118.13"/>
<line x1="134.37" y1="1115.0" x2="134.37" y2="1118.13"/>
<line x1="137.71" y1="1115.0" x2="137.71" y2="1118.13"/>
<line x1="141.05" y1="1115.0" x2="141.05" y2="1118.13"/>
<line x1="144.38" y1="1115.0" x2="144.38" y2="1118.13"/>
<line x1="147.72" y1="1115.0" x2="147.72" y2="1118.13"/>
<line x1="151.06" y1="1115.0" x2="151.06" y2="1118.13"/>
<line x1="154.39" y1="1115.0" x2="154.39" y2="1118.13"/>
<line x1="157.73" y1="1115.0" x2="157.73" y2="1118.13"/>
<line x1="161.07" y1="1115.0" x2="161.07" y2="1118.13"/>
<line x1="164.40" y1="1115.0" x2="164.40" y2="1118.13"/>
<line x1="167.74" y1="1115.0" x2="167.74" y2="1118.13"/>
<line x1="171.08" y1="1115.0" x2="171.08" y2="1118.13"/>
<line x1="174.41" y1="1115.0" x2="174.41" y2="1118.13"/>
<line x1="177.75" y1="1115.0" x2="177.75" y2="1118.13"/>
<line x1="181.09" y1="1115.0" x2="181.09" y2="1118.13"/>
<line x1="184.42" y1="1115.0" x2="184.42" y2="1118.13"/>
<line x1="187.76" y1="1115.0" x2="187.76" y2="1118.13"/>
<line x1="191.10" y1="1115.0" x2="191.10" y2="1118.13"/>
<line x1="194.43" y1="1115.0" x2="194.43" y2="1118.13"/>
<line x1="197.77" y1="1115.0" x2="197.77" y2="1118.13"/>
<line x1="201.11" y1="1115.0" x2="201.11" y2="1118.13"/>
<line x1="204.44" y1="1115.0" x2="204.44" y2="1118.13"/>
<line x1="207.78" y1="1115.0" x2="207.78" y2="1118.13"/>
<line x1="211.12" y1="1115.0" x2="211.12" y2="1118.13"/>
<line x1="214.45" y1="1115.0" x2="214.45" y2="1118.13"/>
<line x1="217.79" y1="1115.0" x2="217.79" y2="1118.13"/>
<line x1="221.13" y1="1115.0" x2="221.13" y2="1118.13"/>
<line x1="224.46" y1="1115.0" x2="224.46" y2="1118.13"/>
<line x1="227.80" y1="1115.0" x2="227.80" y2="1118.13"/>
<line x1="231.14" y1="1115.0" x2="231.14" y2="1118.13"/>
<line x1="234.47" y1="1115.0" x2="234.47" y2="1118.13"/>
<line x1="237.81" y1="1115.0" x2="237.81" y2="1118.13"/>
<line x1="241.15" y1="1115.0" x2="241.15" y2="1118.13"/>
<line x1="244.48" y1="1115.0" x2="244.48" y2="1118.13"/>
<line x1="247.82" y1="1115.0" x2="247.82" y2="1118.13"/>
<line x1="251.16" y1="1115.0" x2="251.16" y2="1118.13"/>
<line x1="254.49" y1="1115.0" x2="254.49" y2="1118.13"/>
<line x1="257.83" y1="1115.0" x2="257.83" y2="1118.13"/>
<line x1="261.17" y1="1115.0" x2="261.17" y2="1118.13"/>
<line x1="264.50" y1="1115.0" x2="264.50" y2="1118.13"/>
<line x1="267.84" y1="1115.0" x2="267.84" y2="1118.13"/>
<line x1="271.18" y1="1115.0" x2="271.18" y2="1118.13"/>
<line x1="274.51" y1="1115.0" x2="274.51" y2="1118.13"/>
<line x1="277.85" y1="1115.0" x2="277.85" y2="1118.13"/>
<line x1="281.19" y1="1115.0" x2="281.19" y2="1118.13"/>
<line x1="284.52" y1="1115.0" x2="284.52" y2="1118.13"/>
<line x1="287.86" y1="1115.0" x2="287.86" y2="1118.13"/>
<line x1="291.20" y1="1115.0" x2="291.20" y2="1118.13"/>
<line x1="294.53" y1="1115.0" x2="294.53" y2="1118.13"/>
<line x1="297.87" y1="1115.0" x2="297.87" y2="1118.13"/>
<line x1="301.21" y1="1115.0" x2="301.21" y2="1118.13"/>
<line x1="304.54" y1="1115.0" x2="304.54" y2="1118.13"/>
<line x1="307.88" y1="1115.0" x2="307.88" y2="1118.13"/>
<line x1="311.22" y1="1115.0" x2="311.22" y2="1118.13"/>
<line x1="314.55" y1="1115.0" x2="314.55" y2="1118.13"/>
<line x1="317.89" y1="1115.0" x2="317.89" y2="1118.13"/>
<line x1="321.23" y1="1115.0" x2="321.23" y2="1118.13"/>
<line x1="324.56" y1="1115.0" x2="324.56" y2="1118.13"/>
<line x1="327.90" y1="1115.0" x2="327.90" y2="1118.13"/>
<line x1="331.24" y1="1115.0" x2="331.24" y2="1118.13"/>
<line x1="334.57" y1="1115.0" x2="334.57" y2="1118.13"/>
<line x1="337.91" y1="1115.0" x2="337.91" y2="1118.13"/>
<line x1="341.25" y1="1115.0" x2="341.25" y2="1118.13"/>
<line x1="344.58" y1="1115.0" x2="344.58" y2="1118.13"/>
<line x1="347.92" y1="1115.0" x2="347.92" y2="1118.13"/>
<line x1="351.26" y1="1115.0" x2="351.26" y2="1118.13"/>
<line x1="354.59" y1="1115.0" x2="354.59" y2="1118.13"/>
<line x1="357.93" y1="1115.0" x2="357.93" y2="1118.13"/>
<line x1="361.27" y1="1115.0" x2="361.27" y2="1118.13"/>
<line x1="364.60" y1="1115.0" x2="364.60" y2="1118.13"/>
<line x1="367.94" y1="1115.0" x2="367.94" y2="1118.13"/>
<line x1="371.28" y1="1115.0" x2="371.28" y2="1118.13"/>
<line x1="374.61" y1="1115.0" x2="374.61" y2="1118.13"/>
<line x1="377.95" y1="1115.0" x2="377.95" y2="1118.13"/>
<line x1="381.29" y1="1115.0" x2="381.29" y2="1118.13"/>
<line x1="384.62" y1="1115.0" x2="384.62" y2="1118.13"/>
<line x1="387.96" y1="1115.0" x2="387.96" y2="1118.13"/>
<line x1="391.30" y1="1115.0" x2="391.30" y2="1118.13"/>
<line x1="394.63" y1="1115.0" x2="394.63" y2="1118.13"/>
<line x1="397.97" y1="1115.0" x2="397.97" y2="1118.13"/>
<line x1="401.31" y1="1115.0" x2="401.31" y2="1118.13"/>
<line x1="404.64" y1="1115.0" x2="404.64" y2="1118.13"/>
<line x1="407.98" y1="1115.0" x2="407.98" y2="1118.13"/>
<line x1="411.32" y1="1115.0" x2="411.32" y2="1118.13"/>
<line x1="414.65" y1="1115.0" x2="414.65" y2="1118.13"/>
<line x1="417.99" y1="1115.0" x2="417.99" y2="1118.13"/>
<line x1="421.33" y1="1115.0" x2="421.33" y2="1118.13"/>
<line x1="424.66" y1="1115.0" x2="424.66" y2="1118.13"/>
<line x1="428.00" y1="1115.0" x2="428.00" y2="1118.13"/>
<line x1="431.34" y1="1115.0" x2="431.34" y2="1118.13"/>
<line x1="434.67" y1="1115.0" x2="434.67" y2="1118.13"/>
<line x1="438.01" y1="1115.0" x2="438.01" y2="1118.13"/>
<line x1="441.35" y1="1115.0" x2="441.35" y2="1118.13"/>
<line x1="444.68" y1="1115.0" x2="444.68" y2="1118.13"/>
<line x1="448.02" y1="1115.0" x2="448.02" y2="1118.13"/>
<line x1="451.36" y1="1115.0" x2="451.36" y2="1118.13"/>
<line x1="454.69" y1="1115.0" x2="454.69" y2="1118.13"/>
<line x1="458.03" y1="1115.0" x2="458.03" y2="1118.13"/>
<line x1="461.37" y1="1115.0" x2="461.37" y2="1118.13"/>
<line x1="464.70" y1="1115.0" x2="464.70" y2="1118.13"/>
<line x1="468.04" y1="1115.0" x2="468.04" y2="1118.13"/>
<line x1="471.38" y1="1115.0" x2="471.38" y2="1118.13"/>
<line x1="474.71" y1="1115.0" x2="474.71" y2="1118.13"/>
<line x1="478.05" y1="1115.0" x2="478.05" y2="1118.13"/>
<line x1="481.39" y1="1115.0" x2="481.39" y2="1118.13"/>
<line x1="484.72" y1="1115.0" x2="484.72" y2="1118.13"/>
<line x1="488.06" y1="1115.0" x2="488.06" y2="1118.13"/>
<line x1="491.40" y1="1115.0" x2="491.40" y2="1118.13"/>
<line x1="494.73" y1="1115.0" x2="494.73" y2="1118.13"/>
<line x1="498.07" y1="1115.0" x2="498.07" y2="1118.13"/>
<line x1="501.41" y1="1115.0" x2="501.41" y2="1118.13"/>
<line x1="504.74" y1="1115.0" x2="504.74" y2="1118.13"/>
<line x1="508.08" y1="1115.0" x2="508.08" y2="1118.13"/>
<line x1="511.42" y1="1115.0" x2="511.42" y2="1118.13"/>
<line x1="514.75" y1="1115.0" x2="514.75" y2="1118.13"/>
<line x1="518.09" y1="1115.0" x2="518.09" y2="1118.13"/>
<line x1="521.43" y1="1115.0" x2="521.43" y2="1118.13"/>
<line x1="524.76" y1="1115.0" x2="524.76" y2="1118.13"/>
<line x1="528.10" y1="1115.0" x2="528.10" y2="1118.13"/>
<line x1="531.44" y1="1115.0" x2="531.44" y2="1118.13"/>
<line x1="534.77" y1="1115.0" x2="534.77" y2="1118.13"/>
<line x1="538.11" y1="1115.0" x2="538.11" y2="1118.13"/>
<line x1="541.45" y1="1115.0" x2="541.45" y2="1118.13"/>
<line x1="544.78" y1="1115.0" x2="544.78" y2="1118.13"/>
<line x1="548.12" y1="1115.0" x2="548.12" y2="1118.13"/>
<line x1="551.46" y1="1115.0" x2="551.46" y2="1118.13"/>
<line x1="554.79" y1="1115.0" x2="554.79" y2="1118.13"/>
<line x1="558.13" y1="1115.0" x2="558.13" y2="1118.13"/>
<line x1="561.47" y1="1115.0" x2="561.47" y2="1118.13"/>
<line x1="564.80" y1="1115.0" x2="564.80" y2="1118.13"/>
<line x1="568.14" y1="1115.0" x2="568.14" y2="1118.13"/>
<line x1="571.48" y1="1115.0" x2="571.48" y2="1118.13"/>
<line x1="574.81" y1="1115.0" x2="574.81" y2="1118.13"/>
<line x1="578.15" y1="1115.0" x2="578.15" y2="1118.13"/>
<line x1="581.49" y1="1115.0" x2="581.49" y2="1118.13"/>
<line x1="584.82" y1="1115.0" x2="584.82" y2="1118.13"/>
<line x1="588.16" y1="1115.0" x2="588.16" y2="1118.13"/>
<line x1="591.50" y1="1115.0" x2="591.50" y2="1118.13"/>
<line x1="594.83" y1="1115.0" x2="594.83" y2="1118.13"/>
<line x1="598.17" y1="1115.0" x2="598.17" y2="1118.13"/>
<line x1="601.51" y1="1115.0" x2="601.51" y2="1118.13"/>
<line x1="604.84" y1="1115.0" x2="604.84" y2="1118.13"/>
<line x1="608.18" y1="1115.0" x2="608.18" y2="1118.13"/>
<line x1="611.52" y1="1115.0" x2="611.52" y2="1118.13"/>
<line x1="614.85" y1="1115.0" x2="614.85" y2="1118.13"/>
<line x1="618.19" y1="1115.0" x2="618.19" y2="1118.13"/>
<line x1="621.53" y1="1115.0" x2="621.53" y2="1118.13"/>
<line x1="624.86" y1="1115.0" x2="624.86" y2="1118.13"/>
<line x1="628.20" y1="1115.0" x2="628.20" y2="1118.13"/>
<line x1="631.54" y1="1115.0" x2="631.54" y2="1118.13"/>
<line x1="634.87" y1="1115.0" x2="634.87" y2="1118.13"/>
<line x1="638.21" y1="1115.0" x2="638.21" y2="1118.13"/>
<line x1="641.55" y1="1115.0" x2="641.55" y2="1118.13"/>
<line x1="644.88" y1="1115.0" x2="644.88" y2="1118.13"/>
<line x1="648.22" y1="1115.0" x2="648.22" y2="1118.13"/>
<line x1="651.56" y1="1115.0" x2="651.56" y2="1118.13"/>
<line x1="654.89" y1="1115.0" x2="654.89" y2="1118.13"/>
<line x1="658.23" y1="1115.0" x2="658.23" y2="1118.13"/>
<line x1="661.57" y1="1115.0" x2="661.57" y2="1118.13"/>
<line x1="664.90" y1="1115.0" x2="664.90" y2="1118.13"/>
<line x1="668.24" y1="1115.0" x2="668.24" y2="1118.13"/>
<line x1="671.58" y1="1115.0" x2="671.58" y2="1118.13"/>
<line x1="674.91" y1="1115.0" x2="674.91" y2="1118.13"/>
<line x1="678.25" y1="1115.0" x2="678.25" y2="1118.13"/>
<line x1="681.59" y1="1115.0" x2="681.59" y2="1118.13"/>
<line x1="684.92" y1="1115.0" x2="684.92" y2="1118.13"/>
<line x1="688.26" y1="1115.0" x2="688.26" y2="1118.13"/>
<line x1="691.60" y1="1115.0" x2="691.60" y2="1118.13"/>
<line x1="694.93" y1="1115.0" x2="694.93" y2="1118.13"/>
<line x1="698.27" y1="1115.0" x2="698.27" y2="1118.13"/>
<line x1="701.61" y1="1115.0" x2="701.61" y2="1118.13"/>
<line x1="704.94" y1="1115.0" x2="704.94" y2="1118.13"/>
<line x1="708.28" y1="1115.0" x2="708.28" y2="1118.13"/>
<line x1="711.62" y1="1115.0" x2="711.62" y2="1118.13"/>
<line x1="714.95" y1="1115.0" x2="714.95" y2="1118.13"/>
<line x1="718.29" y1="1115.0" x2="718.29" y2="1118.13"/>
<line x1="721.63" y1="1115.0" x2="721.63" y2="1118.13"/>
<line x1="724.96" y1="1115.0" x2="724.96" y2="1118.13"/>
<line x1="728.30" y1="1115.0" x2="728.30" y2="1118.13"/>
<line x1="731.64" y1="1115.0" x2="731.64" y2="1118.13"/>
<line x1="734.97" y1="1115.0" x2="734.97" y2="1118.13"/>
<line x1="738.31" y1="1115.0" x2="738.31" y2="1118.13"/>
<line x1="741.65" y1="1115.0" x2="741.65" y2="1118.13"/>
<line x1="744.98" y1="1115.0" x2="744.98" y2="1118.13"/>
<line x1="748.32" y1="1115.0" x2="748.32" y2="1118.13"/>
<line x1="751.66" y1="1115.0" x2="751.66" y2="1118.13"/>
<line x1="754.99" y1="1115.0" x2="754.99" y2="1118.13"/>
<line x1="758.33" y1="1115.0" x2="758.33" y2="1118.13"/>
<line x1="761.67" y1="1115.0" x2="761.67" y2="1118.13"/>
</g>
<text x="48.02" y="1118.55" font-size="9.85" textLength="5.25" lengthAdjust="spacingAndGlyphs">0</text>
<text x="25.17" y="1064.62" font-size="9.85" textLength="28.13" lengthAdjust="spacingAndGlyphs">20000</text>
<text x="25.23" y="1010.68" font-size="9.85" textLength="28.07" lengthAdjust="spacingAndGlyphs">40000</text>
<text x="25.13" y="956.75" font-size="9.85" textLength="28.16" lengthAdjust="spacingAndGlyphs">60000</text>
<text x="25.19" y="902.82" font-size="9.85" textLength="28.10" lengthAdjust="spacingAndGlyphs">80000</text>
<text x="19.54" y="848.88" font-size="9.85" textLength="33.75" lengthAdjust="spacingAndGlyphs">100000</text>
<text x="19.54" y="794.95" font-size="9.85" textLength="33.75" lengthAdjust="spacingAndGlyphs">120000</text>
<text x="336.84" y="785.10" font-size="11.38" textLength="181.24" lengthAdjust="spacingAndGlyphs">max_locks_per_transaction = 128</text>
<g transform="translate(14.0,952.45) rotate(-90)">
<text x="-56.96" y="0.00" font-size="10.44" textLength="113.41" lengthAdjust="spacingAndGlyphs">Number of Wait Events</text>
</g>
<g stroke="#fff" stroke-width="0.3">
<rect x="93.00" y="1215.63" width="2.67" height="252.77" fill="#4ca04c"/>
<rect x="93.00" y="1185.28" width="2.67" height="30.35" fill="#ffa234"/>
<rect x="93.00" y="1174.32" width="2.67" height="10.96" fill="#bd4a4e"/>
<rect x="96.34" y="1215.46" width="2.67" height="252.94" fill="#4ca04c"/>
<rect x="96.34" y="1185.68" width="2.67" height="29.78" fill="#ffa234"/>
<rect x="96.34" y="1175.22" width="2.67" height="10.46" fill="#bd4a4e"/>
<rect x="99.67" y="1215.70" width="2.67" height="252.70" fill="#4ca04c"/>
<rect x="99.67" y="1184.10" width="2.67" height="31.60" fill="#ffa234"/>
<rect x="99.67" y="1175.91" width="2.67" height="8.19" fill="#bd4a4e"/>
<rect x="103.01" y="1214.61" width="2.67" height="253.79" fill="#4ca04c"/>
<rect x="103.01" y="1185.45" width="2.67" height="29.16" fill="#ffa234"/>
<rect x="103.01" y="1174.84" width="2.67" height="10.61" fill="#bd4a4e"/>
<rect x="106.35" y="1215.76" width="2.67" height="252.64" fill="#4ca04c"/>
<rect x="106.35" y="1184.81" width="2.67" height="30.95" fill="#ffa234"/>
<rect x="106.35" y="1174.61" width="2.67" height="10.20" fill="#bd4a4e"/>
<rect x="109.68" y="1215.40" width="2.67" height="253.00" fill="#4ca04c"/>
<rect x="109.68" y="1184.21" width="2.67" height="31.19" fill="#ffa234"/>
<rect x="109.68" y="1174.93" width="2.67" height="9.28" fill="#bd4a4e"/>
<rect x="113.02" y="1215.08" width="2.67" height="253.32" fill="#4ca04c"/>
<rect x="113.02" y="1184.20" width="2.67" height="30.88" fill="#ffa234"/>
<rect x="113.02" y="1175.11" width="2.67" height="9.09" fill="#bd4a4e"/>
<rect x="116.36" y="1214.46" width="2.67" height="253.94" fill="#4ca04c"/>
<rect x="116.36" y="1184.64" width="2.67" height="29.82" fill="#ffa234"/>
<rect x="116.36" y="1176.08" width="2.67" height="8.56" fill="#bd4a4e"/>
<rect x="119.69" y="1214.75" width="2.67" height="253.65" fill="#4ca04c"/>
<rect x="119.69" y="1185.28" width="2.67" height="29.47" fill="#ffa234"/>
<rect x="119.69" y="1175.46" width="2.67" height="9.82" fill="#bd4a4e"/>
<rect x="123.03" y="1215.08" width="2.67" height="253.32" fill="#4ca04c"/>
<rect x="123.03" y="1185.11" width="2.67" height="29.97" fill="#ffa234"/>
<rect x="123.03" y="1174.17" width="2.67" height="10.94" fill="#bd4a4e"/>
<rect x="126.37" y="1215.28" width="2.67" height="253.12" fill="#4ca04c"/>
<rect x="126.37" y="1185.43" width="2.67" height="29.85" fill="#ffa234"/>
<rect x="126.37" y="1174.66" width="2.67" height="10.77" fill="#bd4a4e"/>
<rect x="129.70" y="1215.86" width="2.67" height="252.54" fill="#4ca04c"/>
<rect x="129.70" y="1184.31" width="2.67" height="31.56" fill="#ffa234"/>
<rect x="129.70" y="1174.70" width="2.67" height="9.60" fill="#bd4a4e"/>
<rect x="133.04" y="1214.99" width="2.67" height="253.41" fill="#4ca04c"/>
<rect x="133.04" y="1184.02" width="2.67" height="30.97" fill="#ffa234"/>
<rect x="133.04" y="1175.76" width="2.67" height="8.26" fill="#bd4a4e"/>
<rect x="136.38" y="1214.95" width="2.67" height="253.45" fill="#4ca04c"/>
<rect x="136.38" y="1185.19" width="2.67" height="29.76" fill="#ffa234"/>
<rect x="136.38" y="1175.04" width="2.67" height="10.15" fill="#bd4a4e"/>
<rect x="139.71" y="1215.89" width="2.67" height="252.51" fill="#4ca04c"/>
<rect x="139.71" y="1185.48" width="2.67" height="30.40" fill="#ffa234"/>
<rect x="139.71" y="1176.30" width="2.67" height="9.18" fill="#bd4a4e"/>
<rect x="143.05" y="1215.29" width="2.67" height="253.11" fill="#4ca04c"/>
<rect x="143.05" y="1184.84" width="2.67" height="30.45" fill="#ffa234"/>
<rect x="143.05" y="1174.98" width="2.67" height="9.87" fill="#bd4a4e"/>
<rect x="146.39" y="1215.74" width="2.67" height="252.66" fill="#4ca04c"/>
<rect x="146.39" y="1185.34" width="2.67" height="30.40" fill="#ffa234"/>
<rect x="146.39" y="1174.38" width="2.67" height="10.97" fill="#bd4a4e"/>
<rect x="149.72" y="1215.90" width="2.67" height="252.50" fill="#4ca04c"/>
<rect x="149.72" y="1185.74" width="2.67" height="30.16" fill="#ffa234"/>
<rect x="149.72" y="1174.90" width="2.67" height="10.84" fill="#bd4a4e"/>
<rect x="153.06" y="1215.78" width="2.67" height="252.62" fill="#4ca04c"/>
<rect x="153.06" y="1185.12" width="2.67" height="30.66" fill="#ffa234"/>
<rect x="153.06" y="1175.54" width="2.67" height="9.58" fill="#bd4a4e"/>
<rect x="156.40" y="1215.07" width="2.67" height="253.33" fill="#4ca04c"/>
<rect x="156.40" y="1184.71" width="2.67" height="30.36" fill="#ffa234"/>
<rect x="156.40" y="1175.82" width="2.67" height="8.89" fill="#bd4a4e"/>
<rect x="159.73" y="1215.01" width="2.67" height="253.39" fill="#4ca04c"/>
<rect x="159.73" y="1184.91" width="2.67" height="30.10" fill="#ffa234"/>
<rect x="159.73" y="1175.87" width="2.67" height="9.04" fill="#bd4a4e"/>
<rect x="163.07" y="1214.55" width="2.67" height="253.85" fill="#4ca04c"/>
<rect x="163.07" y="1185.32" width="2.67" height="29.23" fill="#ffa234"/>
<rect x="163.07" y="1176.02" width="2.67" height="9.30" fill="#bd4a4e"/>
<rect x="166.41" y="1215.79" width="2.67" height="252.61" fill="#4ca04c"/>
<rect x="166.41" y="1184.62" width="2.67" height="31.17" fill="#ffa234"/>
<rect x="166.41" y="1175.98" width="2.67" height="8.64" fill="#bd4a4e"/>
<rect x="169.74" y="1214.78" width="2.67" height="253.62" fill="#4ca04c"/>
<rect x="169.74" y="1185.04" width="2.67" height="29.74" fill="#ffa234"/>
<rect x="169.74" y="1174.43" width="2.67" height="10.61" fill="#bd4a4e"/>
<rect x="173.08" y="1215.92" width="2.67" height="252.48" fill="#4ca04c"/>
<rect x="173.08" y="1184.61" width="2.67" height="31.31" fill="#ffa234"/>
<rect x="173.08" y="1175.74" width="2.67" height="8.88" fill="#bd4a4e"/>
<rect x="176.42" y="1215.42" width="2.67" height="252.98" fill="#4ca04c"/>
<rect x="176.42" y="1184.61" width="2.67" height="30.81" fill="#ffa234"/>
<rect x="176.42" y="1175.09" width="2.67" height="9.52" fill="#bd4a4e"/>
<rect x="179.75" y="1214.55" width="2.67" height="253.85" fill="#4ca04c"/>
<rect x="179.75" y="1184.46" width="2.67" height="30.09" fill="#ffa234"/>
<rect x="179.75" y="1175.35" width="2.67" height="9.11" fill="#bd4a4e"/>
<rect x="183.09" y="1214.60" width="2.67" height="253.80" fill="#4ca04c"/>
<rect x="183.09" y="1185.66" width="2.67" height="28.93" fill="#ffa234"/>
<rect x="183.09" y="1175.77" width="2.67" height="9.89" fill="#bd4a4e"/>
<rect x="186.43" y="1215.33" width="2.67" height="253.07" fill="#4ca04c"/>
<rect x="186.43" y="1185.33" width="2.67" height="30.01" fill="#ffa234"/>
<rect x="186.43" y="1175.16" width="2.67" height="10.17" fill="#bd4a4e"/>
<rect x="189.76" y="1214.78" width="2.67" height="253.62" fill="#4ca04c"/>
<rect x="189.76" y="1185.72" width="2.67" height="29.06" fill="#ffa234"/>
<rect x="189.76" y="1176.18" width="2.67" height="9.54" fill="#bd4a4e"/>
<rect x="193.10" y="1214.54" width="2.67" height="253.86" fill="#4ca04c"/>
<rect x="193.10" y="1185.49" width="2.67" height="29.05" fill="#ffa234"/>
<rect x="193.10" y="1175.12" width="2.67" height="10.37" fill="#bd4a4e"/>
<rect x="196.44" y="1215.03" width="2.67" height="253.37" fill="#4ca04c"/>
<rect x="196.44" y="1184.85" width="2.67" height="30.18" fill="#ffa234"/>
<rect x="196.44" y="1175.88" width="2.67" height="8.98" fill="#bd4a4e"/>
<rect x="199.77" y="1214.73" width="2.67" height="253.67" fill="#4ca04c"/>
<rect x="199.77" y="1185.44" width="2.67" height="29.29" fill="#ffa234"/>
<rect x="199.77" y="1174.92" width="2.67" height="10.51" fill="#bd4a4e"/>
<rect x="203.11" y="1215.49" width="2.67" height="252.91" fill="#4ca04c"/>
<rect x="203.11" y="1185.66" width="2.67" height="29.83" fill="#ffa234"/>
<rect x="203.11" y="1175.64" width="2.67" height="10.02" fill="#bd4a4e"/>
<rect x="206.45" y="1214.77" width="2.67" height="253.63" fill="#4ca04c"/>
<rect x="206.45" y="1184.49" width="2.67" height="30.29" fill="#ffa234"/>
<rect x="206.45" y="1174.39" width="2.67" height="10.10" fill="#bd4a4e"/>
<rect x="209.78" y="1214.68" width="2.67" height="253.72" fill="#4ca04c"/>
<rect x="209.78" y="1184.44" width="2.67" height="30.25" fill="#ffa234"/>
<rect x="209.78" y="1176.29" width="2.67" height="8.14" fill="#bd4a4e"/>
<rect x="213.12" y="1214.84" width="2.67" height="253.56" fill="#4ca04c"/>
<rect x="213.12" y="1184.95" width="2.67" height="29.89" fill="#ffa234"/>
<rect x="213.12" y="1175.30" width="2.67" height="9.65" fill="#bd4a4e"/>
<rect x="216.46" y="1215.78" width="2.67" height="252.62" fill="#4ca04c"/>
<rect x="216.46" y="1185.33" width="2.67" height="30.44" fill="#ffa234"/>
<rect x="216.46" y="1175.82" width="2.67" height="9.52" fill="#bd4a4e"/>
<rect x="219.79" y="1215.44" width="2.67" height="252.96" fill="#4ca04c"/>
<rect x="219.79" y="1184.43" width="2.67" height="31.01" fill="#ffa234"/>
<rect x="219.79" y="1176.22" width="2.67" height="8.21" fill="#bd4a4e"/>
<rect x="223.13" y="1214.68" width="2.67" height="253.72" fill="#4ca04c"/>
<rect x="223.13" y="1184.49" width="2.67" height="30.19" fill="#ffa234"/>
<rect x="223.13" y="1174.81" width="2.67" height="9.69" fill="#bd4a4e"/>
<rect x="226.47" y="1215.11" width="2.67" height="253.29" fill="#4ca04c"/>
<rect x="226.47" y="1184.98" width="2.67" height="30.14" fill="#ffa234"/>
<rect x="226.47" y="1175.73" width="2.67" height="9.24" fill="#bd4a4e"/>
<rect x="229.80" y="1215.16" width="2.67" height="253.24" fill="#4ca04c"/>
<rect x="229.80" y="1185.28" width="2.67" height="29.88" fill="#ffa234"/>
<rect x="229.80" y="1174.61" width="2.67" height="10.67" fill="#bd4a4e"/>
<rect x="233.14" y="1214.50" width="2.67" height="253.90" fill="#4ca04c"/>
<rect x="233.14" y="1185.36" width="2.67" height="29.14" fill="#ffa234"/>
<rect x="233.14" y="1174.92" width="2.67" height="10.44" fill="#bd4a4e"/>
<rect x="236.48" y="1215.91" width="2.67" height="252.49" fill="#4ca04c"/>
<rect x="236.48" y="1185.29" width="2.67" height="30.63" fill="#ffa234"/>
<rect x="236.48" y="1174.41" width="2.67" height="10.88" fill="#bd4a4e"/>
<rect x="239.81" y="1214.83" width="2.67" height="253.57" fill="#4ca04c"/>
<rect x="239.81" y="1184.09" width="2.67" height="30.75" fill="#ffa234"/>
<rect x="239.81" y="1175.80" width="2.67" height="8.29" fill="#bd4a4e"/>
<rect x="243.15" y="1215.45" width="2.67" height="252.95" fill="#4ca04c"/>
<rect x="243.15" y="1184.20" width="2.67" height="31.25" fill="#ffa234"/>
<rect x="243.15" y="1174.70" width="2.67" height="9.50" fill="#bd4a4e"/>
<rect x="246.49" y="1215.58" width="2.67" height="252.82" fill="#4ca04c"/>
<rect x="246.49" y="1184.15" width="2.67" height="31.43" fill="#ffa234"/>
<rect x="246.49" y="1175.60" width="2.67" height="8.55" fill="#bd4a4e"/>
<rect x="249.82" y="1214.91" width="2.67" height="253.49" fill="#4ca04c"/>
<rect x="249.82" y="1184.58" width="2.67" height="30.33" fill="#ffa234"/>
<rect x="249.82" y="1174.95" width="2.67" height="9.63" fill="#bd4a4e"/>
<rect x="253.16" y="1215.24" width="2.67" height="253.16" fill="#4ca04c"/>
<rect x="253.16" y="1184.27" width="2.67" height="30.97" fill="#ffa234"/>
<rect x="253.16" y="1174.20" width="2.67" height="10.08" fill="#bd4a4e"/>
<rect x="256.50" y="1214.66" width="2.67" height="253.74" fill="#4ca04c"/>
<rect x="256.50" y="1184.98" width="2.67" height="29.69" fill="#ffa234"/>
<rect x="256.50" y="1174.80" width="2.67" height="10.17" fill="#bd4a4e"/>
<rect x="259.83" y="1215.09" width="2.67" height="253.31" fill="#4ca04c"/>
<rect x="259.83" y="1185.20" width="2.67" height="29.89" fill="#ffa234"/>
<rect x="259.83" y="1174.74" width="2.67" height="10.46" fill="#bd4a4e"/>
<rect x="263.17" y="1215.01" width="2.67" height="253.39" fill="#4ca04c"/>
<rect x="263.17" y="1185.61" width="2.67" height="29.41" fill="#ffa234"/>
<rect x="263.17" y="1175.85" width="2.67" height="9.76" fill="#bd4a4e"/>
<rect x="266.51" y="1215.72" width="2.67" height="252.68" fill="#4ca04c"/>
<rect x="266.51" y="1185.69" width="2.67" height="30.03" fill="#ffa234"/>
<rect x="266.51" y="1174.34" width="2.67" height="11.35" fill="#bd4a4e"/>
<rect x="269.84" y="1214.56" width="2.67" height="253.84" fill="#4ca04c"/>
<rect x="269.84" y="1185.14" width="2.67" height="29.42" fill="#ffa234"/>
<rect x="269.84" y="1176.08" width="2.67" height="9.06" fill="#bd4a4e"/>
<rect x="273.18" y="1215.89" width="2.67" height="252.51" fill="#4ca04c"/>
<rect x="273.18" y="1185.67" width="2.67" height="30.22" fill="#ffa234"/>
<rect x="273.18" y="1176.00" width="2.67" height="9.67" fill="#bd4a4e"/>
<rect x="276.52" y="1215.00" width="2.67" height="253.40" fill="#4ca04c"/>
<rect x="276.52" y="1184.52" width="2.67" height="30.47" fill="#ffa234"/>
<rect x="276.52" y="1174.81" width="2.67" height="9.71" fill="#bd4a4e"/>
<rect x="279.85" y="1215.84" width="2.67" height="252.56" fill="#4ca04c"/>
<rect x="279.85" y="1184.71" width="2.67" height="31.13" fill="#ffa234"/>
<rect x="279.85" y="1174.72" width="2.67" height="9.99" fill="#bd4a4e"/>
<rect x="283.19" y="1214.72" width="2.67" height="253.68" fill="#4ca04c"/>
<rect x="283.19" y="1184.31" width="2.67" height="30.42" fill="#ffa234"/>
<rect x="283.19" y="1175.52" width="2.67" height="8.78" fill="#bd4a4e"/>
<rect x="286.53" y="1215.84" width="2.67" height="252.56" fill="#4ca04c"/>
<rect x="286.53" y="1184.22" width="2.67" height="31.62" fill="#ffa234"/>
<rect x="286.53" y="1174.38" width="2.67" height="9.84" fill="#bd4a4e"/>
<rect x="289.86" y="1214.54" width="2.67" height="253.86" fill="#4ca04c"/>
<rect x="289.86" y="1185.55" width="2.67" height="28.98" fill="#ffa234"/>
<rect x="289.86" y="1174.33" width="2.67" height="11.22" fill="#bd4a4e"/>
<rect x="293.20" y="1215.77" width="2.67" height="252.63" fill="#4ca04c"/>
<rect x="293.20" y="1185.68" width="2.67" height="30.09" fill="#ffa234"/>
<rect x="293.20" y="1175.86" width="2.67" height="9.82" fill="#bd4a4e"/>
<rect x="296.54" y="1214.73" width="2.67" height="253.67" fill="#4ca04c"/>
<rect x="296.54" y="1184.63" width="2.67" height="30.10" fill="#ffa234"/>
<rect x="296.54" y="1174.48" width="2.67" height="10.15" fill="#bd4a4e"/>
<rect x="299.87" y="1215.00" width="2.67" height="253.40" fill="#4ca04c"/>
<rect x="299.87" y="1185.24" width="2.67" height="29.76" fill="#ffa234"/>
<rect x="299.87" y="1174.53" width="2.67" height="10.71" fill="#bd4a4e"/>
<rect x="303.21" y="1215.79" width="2.67" height="252.61" fill="#4ca04c"/>
<rect x="303.21" y="1184.41" width="2.67" height="31.38" fill="#ffa234"/>
<rect x="303.21" y="1176.09" width="2.67" height="8.32" fill="#bd4a4e"/>
<rect x="306.55" y="1215.46" width="2.67" height="252.94" fill="#4ca04c"/>
<rect x="306.55" y="1185.00" width="2.67" height="30.46" fill="#ffa234"/>
<rect x="306.55" y="1175.86" width="2.67" height="9.13" fill="#bd4a4e"/>
<rect x="309.88" y="1215.55" width="2.67" height="252.85" fill="#4ca04c"/>
<rect x="309.88" y="1185.25" width="2.67" height="30.31" fill="#ffa234"/>
<rect x="309.88" y="1176.26" width="2.67" height="8.99" fill="#bd4a4e"/>
<rect x="313.22" y="1215.39" width="2.67" height="253.01" fill="#4ca04c"/>
<rect x="313.22" y="1185.18" width="2.67" height="30.21" fill="#ffa234"/>
<rect x="313.22" y="1174.76" width="2.67" height="10.42" fill="#bd4a4e"/>
<rect x="316.56" y="1215.19" width="2.67" height="253.21" fill="#4ca04c"/>
<rect x="316.56" y="1184.25" width="2.67" height="30.94" fill="#ffa234"/>
<rect x="316.56" y="1174.23" width="2.67" height="10.02" fill="#bd4a4e"/>
<rect x="319.89" y="1215.89" width="2.67" height="252.51" fill="#4ca04c"/>
<rect x="319.89" y="1185.02" width="2.67" height="30.87" fill="#ffa234"/>
<rect x="319.89" y="1174.97" width="2.67" height="10.05" fill="#bd4a4e"/>
<rect x="323.23" y="1214.79" width="2.67" height="253.61" fill="#4ca04c"/>
<rect x="323.23" y="1185.13" width="2.67" height="29.65" fill="#ffa234"/>
<rect x="323.23" y="1175.37" width="2.67" height="9.77" fill="#bd4a4e"/>
<rect x="326.57" y="1215.14" width="2.67" height="253.26" fill="#4ca04c"/>
<rect x="326.57" y="1185.36" width="2.67" height="29.78" fill="#ffa234"/>
<rect x="326.57" y="1174.79" width="2.67" height="10.58" fill="#bd4a4e"/>
<rect x="329.90" y="1215.80" width="2.67" height="252.60" fill="#4ca04c"/>
<rect x="329.90" y="1184.31" width="2.67" height="31.50" fill="#ffa234"/>
<rect x="329.90" y="1174.45" width="2.67" height="9.86" fill="#bd4a4e"/>
<rect x="333.24" y="1215.93" width="2.67" height="252.47" fill="#4ca04c"/>
<rect x="333.24" y="1185.39" width="2.67" height="30.55" fill="#ffa234"/>
<rect x="333.24" y="1175.94" width="2.67" height="9.45" fill="#bd4a4e"/>
<rect x="336.58" y="1214.49" width="2.67" height="253.91" fill="#4ca04c"/>
<rect x="336.58" y="1185.73" width="2.67" height="28.75" fill="#ffa234"/>
<rect x="336.58" y="1174.66" width="2.67" height="11.07" fill="#bd4a4e"/>
<rect x="339.91" y="1215.21" width="2.67" height="253.19" fill="#4ca04c"/>
<rect x="339.91" y="1184.35" width="2.67" height="30.86" fill="#ffa234"/>
<rect x="339.91" y="1175.25" width="2.67" height="9.10" fill="#bd4a4e"/>
<rect x="343.25" y="1215.20" width="2.67" height="253.20" fill="#4ca04c"/>
<rect x="343.25" y="1185.13" width="2.67" height="30.07" fill="#ffa234"/>
<rect x="343.25" y="1175.91" width="2.67" height="9.22" fill="#bd4a4e"/>
<rect x="346.59" y="1215.55" width="2.67" height="252.85" fill="#4ca04c"/>
<rect x="346.59" y="1184.09" width="2.67" height="31.46" fill="#ffa234"/>
<rect x="346.59" y="1174.51" width="2.67" height="9.58" fill="#bd4a4e"/>
<rect x="349.92" y="1215.62" width="2.67" height="252.78" fill="#4ca04c"/>
<rect x="349.92" y="1184.52" width="2.67" height="31.10" fill="#ffa234"/>
<rect x="349.92" y="1175.69" width="2.67" height="8.82" fill="#bd4a4e"/>
<rect x="353.26" y="1215.77" width="2.67" height="252.63" fill="#4ca04c"/>
<rect x="353.26" y="1184.63" width="2.67" height="31.15" fill="#ffa234"/>
<rect x="353.26" y="1175.23" width="2.67" height="9.39" fill="#bd4a4e"/>
<rect x="356.60" y="1214.77" width="2.67" height="253.63" fill="#4ca04c"/>
<rect x="356.60" y="1184.52" width="2.67" height="30.25" fill="#ffa234"/>
<rect x="356.60" y="1176.13" width="2.67" height="8.39" fill="#bd4a4e"/>
<rect x="359.93" y="1215.00" width="2.67" height="253.40" fill="#4ca04c"/>
<rect x="359.93" y="1185.12" width="2.67" height="29.89" fill="#ffa234"/>
<rect x="359.93" y="1174.61" width="2.67" height="10.51" fill="#bd4a4e"/>
<rect x="363.27" y="1215.35" width="2.67" height="253.05" fill="#4ca04c"/>
<rect x="363.27" y="1184.18" width="2.67" height="31.17" fill="#ffa234"/>
<rect x="363.27" y="1175.44" width="2.67" height="8.74" fill="#bd4a4e"/>
<rect x="366.61" y="1214.62" width="2.67" height="253.78" fill="#4ca04c"/>
<rect x="366.61" y="1185.70" width="2.67" height="28.92" fill="#ffa234"/>
<rect x="366.61" y="1176.12" width="2.67" height="9.58" fill="#bd4a4e"/>
<rect x="369.94" y="1215.54" width="2.67" height="252.86" fill="#4ca04c"/>
<rect x="369.94" y="1184.16" width="2.67" height="31.38" fill="#ffa234"/>
<rect x="369.94" y="1175.86" width="2.67" height="8.30" fill="#bd4a4e"/>
<rect x="373.28" y="1215.37" width="2.67" height="253.03" fill="#4ca04c"/>
<rect x="373.28" y="1184.19" width="2.67" height="31.18" fill="#ffa234"/>
<rect x="373.28" y="1175.23" width="2.67" height="8.97" fill="#bd4a4e"/>
<rect x="376.62" y="1215.25" width="2.67" height="253.15" fill="#4ca04c"/>
<rect x="376.62" y="1184.81" width="2.67" height="30.44" fill="#ffa234"/>
<rect x="376.62" y="1175.80" width="2.67" height="9.01" fill="#bd4a4e"/>
<rect x="379.95" y="1214.82" width="2.67" height="253.58" fill="#4ca04c"/>
<rect x="379.95" y="1184.61" width="2.67" height="30.21" fill="#ffa234"/>
<rect x="379.95" y="1174.68" width="2.67" height="9.93" fill="#bd4a4e"/>
<rect x="383.29" y="1215.45" width="2.67" height="252.95" fill="#4ca04c"/>
<rect x="383.29" y="1185.47" width="2.67" height="29.98" fill="#ffa234"/>
<rect x="383.29" y="1175.55" width="2.67" height="9.91" fill="#bd4a4e"/>
<rect x="386.63" y="1214.95" width="2.67" height="253.45" fill="#4ca04c"/>
<rect x="386.63" y="1184.44" width="2.67" height="30.51" fill="#ffa234"/>
<rect x="386.63" y="1174.49" width="2.67" height="9.95" fill="#bd4a4e"/>
<rect x="389.96" y="1215.28" width="2.67" height="253.12" fill="#4ca04c"/>
<rect x="389.96" y="1184.39" width="2.67" height="30.90" fill="#ffa234"/>
<rect x="389.96" y="1175.94" width="2.67" height="8.45" fill="#bd4a4e"/>
<rect x="393.30" y="1215.75" width="2.67" height="252.65" fill="#4ca04c"/>
<rect x="393.30" y="1184.93" width="2.67" height="30.82" fill="#ffa234"/>
<rect x="393.30" y="1175.06" width="2.67" height="9.87" fill="#bd4a4e"/>
<rect x="396.64" y="1215.58" width="2.67" height="252.82" fill="#4ca04c"/>
<rect x="396.64" y="1185.41" width="2.67" height="30.18" fill="#ffa234"/>
<rect x="396.64" y="1174.40" width="2.67" height="11.01" fill="#bd4a4e"/>
<rect x="399.97" y="1214.89" width="2.67" height="253.51" fill="#4ca04c"/>
<rect x="399.97" y="1184.26" width="2.67" height="30.63" fill="#ffa234"/>
<rect x="399.97" y="1175.66" width="2.67" height="8.61" fill="#bd4a4e"/>
<rect x="403.31" y="1215.70" width="2.67" height="252.70" fill="#4ca04c"/>
<rect x="403.31" y="1185.31" width="2.67" height="30.40" fill="#ffa234"/>
<rect x="403.31" y="1175.97" width="2.67" height="9.33" fill="#bd4a4e"/>
<rect x="406.65" y="1215.16" width="2.67" height="253.24" fill="#4ca04c"/>
<rect x="406.65" y="1185.46" width="2.67" height="29.70" fill="#ffa234"/>
<rect x="406.65" y="1175.60" width="2.67" height="9.86" fill="#bd4a4e"/>
<rect x="409.98" y="1215.65" width="2.67" height="252.75" fill="#4ca04c"/>
<rect x="409.98" y="1184.03" width="2.67" height="31.62" fill="#ffa234"/>
<rect x="409.98" y="1175.60" width="2.67" height="8.43" fill="#bd4a4e"/>
<rect x="413.32" y="1215.78" width="2.67" height="252.62" fill="#4ca04c"/>
<rect x="413.32" y="1184.06" width="2.67" height="31.73" fill="#ffa234"/>
<rect x="413.32" y="1174.73" width="2.67" height="9.32" fill="#bd4a4e"/>
<rect x="416.66" y="1215.37" width="2.67" height="253.03" fill="#4ca04c"/>
<rect x="416.66" y="1184.02" width="2.67" height="31.35" fill="#ffa234"/>
<rect x="416.66" y="1176.09" width="2.67" height="7.93" fill="#bd4a4e"/>
<rect x="419.99" y="1214.85" width="2.67" height="253.55" fill="#4ca04c"/>
<rect x="419.99" y="1184.98" width="2.67" height="29.87" fill="#ffa234"/>
<rect x="419.99" y="1174.59" width="2.67" height="10.39" fill="#bd4a4e"/>
<rect x="423.33" y="1214.99" width="2.67" height="253.41" fill="#4ca04c"/>
<rect x="423.33" y="1185.55" width="2.67" height="29.43" fill="#ffa234"/>
<rect x="423.33" y="1175.88" width="2.67" height="9.67" fill="#bd4a4e"/>
<rect x="426.67" y="1215.36" width="2.67" height="253.04" fill="#4ca04c"/>
<rect x="426.67" y="1185.68" width="2.67" height="29.68" fill="#ffa234"/>
<rect x="426.67" y="1175.86" width="2.67" height="9.82" fill="#bd4a4e"/>
<rect x="430.00" y="1214.76" width="2.67" height="253.64" fill="#4ca04c"/>
<rect x="430.00" y="1184.53" width="2.67" height="30.24" fill="#ffa234"/>
<rect x="430.00" y="1175.45" width="2.67" height="9.08" fill="#bd4a4e"/>
<rect x="433.34" y="1215.00" width="2.67" height="253.40" fill="#4ca04c"/>
<rect x="433.34" y="1184.93" width="2.67" height="30.07" fill="#ffa234"/>
<rect x="433.34" y="1175.23" width="2.67" height="9.70" fill="#bd4a4e"/>
<rect x="436.68" y="1215.04" width="2.67" height="253.36" fill="#4ca04c"/>
<rect x="436.68" y="1185.03" width="2.67" height="30.01" fill="#ffa234"/>
<rect x="436.68" y="1176.00" width="2.67" height="9.03" fill="#bd4a4e"/>
<rect x="440.01" y="1214.59" width="2.67" height="253.81" fill="#4ca04c"/>
<rect x="440.01" y="1184.99" width="2.67" height="29.60" fill="#ffa234"/>
<rect x="440.01" y="1174.71" width="2.67" height="10.28" fill="#bd4a4e"/>
<rect x="443.35" y="1214.82" width="2.67" height="253.58" fill="#4ca04c"/>
<rect x="443.35" y="1185.00" width="2.67" height="29.82" fill="#ffa234"/>
<rect x="443.35" y="1175.07" width="2.67" height="9.94" fill="#bd4a4e"/>
<rect x="446.69" y="1214.86" width="2.67" height="253.54" fill="#4ca04c"/>
<rect x="446.69" y="1184.20" width="2.67" height="30.66" fill="#ffa234"/>
<rect x="446.69" y="1175.81" width="2.67" height="8.39" fill="#bd4a4e"/>
<rect x="450.02" y="1214.90" width="2.67" height="253.50" fill="#4ca04c"/>
<rect x="450.02" y="1184.25" width="2.67" height="30.65" fill="#ffa234"/>
<rect x="450.02" y="1174.64" width="2.67" height="9.61" fill="#bd4a4e"/>
<rect x="453.36" y="1214.98" width="2.67" height="253.42" fill="#4ca04c"/>
<rect x="453.36" y="1184.95" width="2.67" height="30.04" fill="#ffa234"/>
<rect x="453.36" y="1174.84" width="2.67" height="10.11" fill="#bd4a4e"/>
<rect x="456.70" y="1215.00" width="2.67" height="253.40" fill="#4ca04c"/>
<rect x="456.70" y="1185.57" width="2.67" height="29.43" fill="#ffa234"/>
<rect x="456.70" y="1175.63" width="2.67" height="9.94" fill="#bd4a4e"/>
<rect x="460.03" y="1214.78" width="2.67" height="253.62" fill="#4ca04c"/>
<rect x="460.03" y="1184.49" width="2.67" height="30.28" fill="#ffa234"/>
<rect x="460.03" y="1175.40" width="2.67" height="9.09" fill="#bd4a4e"/>
<rect x="463.37" y="1215.56" width="2.67" height="252.84" fill="#4ca04c"/>
<rect x="463.37" y="1185.00" width="2.67" height="30.56" fill="#ffa234"/>
<rect x="463.37" y="1174.95" width="2.67" height="10.05" fill="#bd4a4e"/>
<rect x="466.71" y="1215.01" width="2.67" height="253.39" fill="#4ca04c"/>
<rect x="466.71" y="1185.02" width="2.67" height="29.99" fill="#ffa234"/>
<rect x="466.71" y="1175.32" width="2.67" height="9.70" fill="#bd4a4e"/>
<rect x="470.04" y="1214.56" width="2.67" height="253.84" fill="#4ca04c"/>
<rect x="470.04" y="1185.42" width="2.67" height="29.13" fill="#ffa234"/>
<rect x="470.04" y="1174.85" width="2.67" height="10.57" fill="#bd4a4e"/>
<rect x="473.38" y="1214.78" width="2.67" height="253.62" fill="#4ca04c"/>
<rect x="473.38" y="1185.06" width="2.67" height="29.72" fill="#ffa234"/>
<rect x="473.38" y="1174.89" width="2.67" height="10.17" fill="#bd4a4e"/>
<rect x="476.72" y="1214.49" width="2.67" height="253.91" fill="#4ca04c"/>
<rect x="476.72" y="1185.68" width="2.67" height="28.82" fill="#ffa234"/>
<rect x="476.72" y="1175.25" width="2.67" height="10.42" fill="#bd4a4e"/>
<rect x="480.05" y="1215.70" width="2.67" height="252.70" fill="#4ca04c"/>
<rect x="480.05" y="1184.37" width="2.67" height="31.32" fill="#ffa234"/>
<rect x="480.05" y="1175.13" width="2.67" height="9.24" fill="#bd4a4e"/>
<rect x="483.39" y="1215.17" width="2.67" height="253.23" fill="#4ca04c"/>
<rect x="483.39" y="1185.56" width="2.67" height="29.60" fill="#ffa234"/>
<rect x="483.39" y="1174.28" width="2.67" height="11.29" fill="#bd4a4e"/>
<rect x="486.73" y="1215.13" width="2.67" height="253.27" fill="#4ca04c"/>
<rect x="486.73" y="1184.48" width="2.67" height="30.65" fill="#ffa234"/>
<rect x="486.73" y="1175.07" width="2.67" height="9.42" fill="#bd4a4e"/>
<rect x="490.06" y="1214.99" width="2.67" height="253.41" fill="#4ca04c"/>
<rect x="490.06" y="1184.29" width="2.67" height="30.70" fill="#ffa234"/>
<rect x="490.06" y="1175.20" width="2.67" height="9.09" fill="#bd4a4e"/>
<rect x="493.40" y="1215.33" width="2.67" height="253.07" fill="#4ca04c"/>
<rect x="493.40" y="1184.08" width="2.67" height="31.25" fill="#ffa234"/>
<rect x="493.40" y="1175.18" width="2.67" height="8.90" fill="#bd4a4e"/>
<rect x="496.74" y="1214.92" width="2.67" height="253.48" fill="#4ca04c"/>
<rect x="496.74" y="1185.05" width="2.67" height="29.87" fill="#ffa234"/>
<rect x="496.74" y="1175.85" width="2.67" height="9.20" fill="#bd4a4e"/>
<rect x="500.07" y="1215.75" width="2.67" height="252.65" fill="#4ca04c"/>
<rect x="500.07" y="1184.02" width="2.67" height="31.74" fill="#ffa234"/>
<rect x="500.07" y="1174.66" width="2.67" height="9.36" fill="#bd4a4e"/>
<rect x="503.41" y="1215.85" width="2.67" height="252.55" fill="#4ca04c"/>
<rect x="503.41" y="1185.26" width="2.67" height="30.59" fill="#ffa234"/>
<rect x="503.41" y="1175.54" width="2.67" height="9.72" fill="#bd4a4e"/>
<rect x="506.75" y="1215.92" width="2.67" height="252.48" fill="#4ca04c"/>
<rect x="506.75" y="1185.01" width="2.67" height="30.91" fill="#ffa234"/>
<rect x="506.75" y="1175.44" width="2.67" height="9.56" fill="#bd4a4e"/>
<rect x="510.08" y="1214.90" width="2.67" height="253.50" fill="#4ca04c"/>
<rect x="510.08" y="1185.12" width="2.67" height="29.78" fill="#ffa234"/>
<rect x="510.08" y="1175.40" width="2.67" height="9.73" fill="#bd4a4e"/>
<rect x="513.42" y="1215.60" width="2.67" height="252.80" fill="#4ca04c"/>
<rect x="513.42" y="1184.44" width="2.67" height="31.16" fill="#ffa234"/>
<rect x="513.42" y="1175.73" width="2.67" height="8.71" fill="#bd4a4e"/>
<rect x="516.75" y="1215.15" width="2.67" height="253.25" fill="#4ca04c"/>
<rect x="516.75" y="1185.36" width="2.67" height="29.80" fill="#ffa234"/>
<rect x="516.75" y="1174.28" width="2.67" height="11.08" fill="#bd4a4e"/>
<rect x="520.09" y="1215.35" width="2.67" height="253.05" fill="#4ca04c"/>
<rect x="520.09" y="1185.37" width="2.67" height="29.98" fill="#ffa234"/>
<rect x="520.09" y="1174.58" width="2.67" height="10.79" fill="#bd4a4e"/>
<rect x="523.43" y="1214.78" width="2.67" height="253.62" fill="#4ca04c"/>
<rect x="523.43" y="1184.32" width="2.67" height="30.46" fill="#ffa234"/>
<rect x="523.43" y="1176.03" width="2.67" height="8.30" fill="#bd4a4e"/>
<rect x="526.76" y="1215.24" width="2.67" height="253.16" fill="#4ca04c"/>
<rect x="526.76" y="1184.76" width="2.67" height="30.48" fill="#ffa234"/>
<rect x="526.76" y="1174.94" width="2.67" height="9.82" fill="#bd4a4e"/>
<rect x="530.10" y="1214.51" width="2.67" height="253.89" fill="#4ca04c"/>
<rect x="530.10" y="1185.12" width="2.67" height="29.38" fill="#ffa234"/>
<rect x="530.10" y="1175.82" width="2.67" height="9.30" fill="#bd4a4e"/>
<rect x="533.44" y="1214.72" width="2.67" height="253.68" fill="#4ca04c"/>
<rect x="533.44" y="1184.31" width="2.67" height="30.41" fill="#ffa234"/>
<rect x="533.44" y="1174.93" width="2.67" height="9.38" fill="#bd4a4e"/>
<rect x="536.77" y="1215.50" width="2.67" height="252.90" fill="#4ca04c"/>
<rect x="536.77" y="1184.78" width="2.67" height="30.72" fill="#ffa234"/>
<rect x="536.77" y="1175.30" width="2.67" height="9.48" fill="#bd4a4e"/>
<rect x="540.11" y="1214.70" width="2.67" height="253.70" fill="#4ca04c"/>
<rect x="540.11" y="1185.12" width="2.67" height="29.58" fill="#ffa234"/>
<rect x="540.11" y="1176.04" width="2.67" height="9.08" fill="#bd4a4e"/>
<rect x="543.45" y="1215.54" width="2.67" height="252.86" fill="#4ca04c"/>
<rect x="543.45" y="1185.08" width="2.67" height="30.46" fill="#ffa234"/>
<rect x="543.45" y="1174.47" width="2.67" height="10.61" fill="#bd4a4e"/>
<rect x="546.78" y="1215.30" width="2.67" height="253.10" fill="#4ca04c"/>
<rect x="546.78" y="1185.42" width="2.67" height="29.89" fill="#ffa234"/>
<rect x="546.78" y="1175.76" width="2.67" height="9.66" fill="#bd4a4e"/>
<rect x="550.12" y="1214.87" width="2.67" height="253.53" fill="#4ca04c"/>
<rect x="550.12" y="1185.25" width="2.67" height="29.62" fill="#ffa234"/>
<rect x="550.12" y="1176.30" width="2.67" height="8.95" fill="#bd4a4e"/>
<rect x="553.46" y="1215.49" width="2.67" height="252.91" fill="#4ca04c"/>
<rect x="553.46" y="1184.90" width="2.67" height="30.59" fill="#ffa234"/>
<rect x="553.46" y="1175.78" width="2.67" height="9.12" fill="#bd4a4e"/>
<rect x="556.79" y="1214.99" width="2.67" height="253.41" fill="#4ca04c"/>
<rect x="556.79" y="1184.59" width="2.67" height="30.40" fill="#ffa234"/>
<rect x="556.79" y="1175.38" width="2.67" height="9.20" fill="#bd4a4e"/>
<rect x="560.13" y="1214.56" width="2.67" height="253.84" fill="#4ca04c"/>
<rect x="560.13" y="1184.24" width="2.67" height="30.31" fill="#ffa234"/>
<rect x="560.13" y="1175.52" width="2.67" height="8.72" fill="#bd4a4e"/>
<rect x="563.47" y="1214.71" width="2.67" height="253.69" fill="#4ca04c"/>
<rect x="563.47" y="1184.15" width="2.67" height="30.55" fill="#ffa234"/>
<rect x="563.47" y="1176.18" width="2.67" height="7.97" fill="#bd4a4e"/>
<rect x="566.80" y="1215.73" width="2.67" height="252.67" fill="#4ca04c"/>
<rect x="566.80" y="1184.29" width="2.67" height="31.44" fill="#ffa234"/>
<rect x="566.80" y="1174.62" width="2.67" height="9.67" fill="#bd4a4e"/>
<rect x="570.14" y="1215.91" width="2.67" height="252.49" fill="#4ca04c"/>
<rect x="570.14" y="1185.72" width="2.67" height="30.19" fill="#ffa234"/>
<rect x="570.14" y="1174.94" width="2.67" height="10.78" fill="#bd4a4e"/>
<rect x="573.48" y="1214.96" width="2.67" height="253.44" fill="#4ca04c"/>
<rect x="573.48" y="1185.30" width="2.67" height="29.66" fill="#ffa234"/>
<rect x="573.48" y="1174.25" width="2.67" height="11.05" fill="#bd4a4e"/>
<rect x="576.81" y="1215.72" width="2.67" height="252.68" fill="#4ca04c"/>
<rect x="576.81" y="1185.33" width="2.67" height="30.39" fill="#ffa234"/>
<rect x="576.81" y="1176.09" width="2.67" height="9.24" fill="#bd4a4e"/>
<rect x="580.15" y="1215.42" width="2.67" height="252.98" fill="#4ca04c"/>
<rect x="580.15" y="1185.47" width="2.67" height="29.95" fill="#ffa234"/>
<rect x="580.15" y="1174.63" width="2.67" height="10.84" fill="#bd4a4e"/>
<rect x="583.49" y="1214.76" width="2.67" height="253.64" fill="#4ca04c"/>
<rect x="583.49" y="1185.45" width="2.67" height="29.31" fill="#ffa234"/>
<rect x="583.49" y="1174.36" width="2.67" height="11.09" fill="#bd4a4e"/>
<rect x="586.82" y="1215.03" width="2.67" height="253.37" fill="#4ca04c"/>
<rect x="586.82" y="1184.37" width="2.67" height="30.66" fill="#ffa234"/>
<rect x="586.82" y="1174.38" width="2.67" height="9.99" fill="#bd4a4e"/>
<rect x="590.16" y="1214.61" width="2.67" height="253.79" fill="#4ca04c"/>
<rect x="590.16" y="1184.36" width="2.67" height="30.25" fill="#ffa234"/>
<rect x="590.16" y="1174.86" width="2.67" height="9.50" fill="#bd4a4e"/>
<rect x="593.50" y="1215.64" width="2.67" height="252.76" fill="#4ca04c"/>
<rect x="593.50" y="1184.53" width="2.67" height="31.11" fill="#ffa234"/>
<rect x="593.50" y="1174.50" width="2.67" height="10.03" fill="#bd4a4e"/>
<rect x="596.83" y="1214.84" width="2.67" height="253.56" fill="#4ca04c"/>
<rect x="596.83" y="1184.97" width="2.67" height="29.86" fill="#ffa234"/>
<rect x="596.83" y="1175.16" width="2.67" height="9.81" fill="#bd4a4e"/>
<rect x="600.17" y="1215.11" width="2.67" height="253.29" fill="#4ca04c"/>
<rect x="600.17" y="1185.28" width="2.67" height="29.83" fill="#ffa234"/>
<rect x="600.17" y="1174.40" width="2.67" height="10.88" fill="#bd4a4e"/>
<rect x="603.51" y="1215.73" width="2.67" height="252.67" fill="#4ca04c"/>
<rect x="603.51" y="1184.88" width="2.67" height="30.85" fill="#ffa234"/>
<rect x="603.51" y="1175.80" width="2.67" height="9.08" fill="#bd4a4e"/>
<rect x="606.84" y="1215.24" width="2.67" height="253.16" fill="#4ca04c"/>
<rect x="606.84" y="1185.49" width="2.67" height="29.75" fill="#ffa234"/>
<rect x="606.84" y="1176.18" width="2.67" height="9.31" fill="#bd4a4e"/>
<rect x="610.18" y="1215.20" width="2.67" height="253.20" fill="#4ca04c"/>
<rect x="610.18" y="1184.80" width="2.67" height="30.40" fill="#ffa234"/>
<rect x="610.18" y="1175.25" width="2.67" height="9.55" fill="#bd4a4e"/>
<rect x="613.52" y="1215.93" width="2.67" height="252.47" fill="#4ca04c"/>
<rect x="613.52" y="1184.27" width="2.67" height="31.66" fill="#ffa234"/>
<rect x="613.52" y="1174.45" width="2.67" height="9.82" fill="#bd4a4e"/>
<rect x="616.85" y="1215.10" width="2.67" height="253.30" fill="#4ca04c"/>
<rect x="616.85" y="1184.58" width="2.67" height="30.53" fill="#ffa234"/>
<rect x="616.85" y="1175.30" width="2.67" height="9.28" fill="#bd4a4e"/>
<rect x="620.19" y="1215.38" width="2.67" height="253.02" fill="#4ca04c"/>
<rect x="620.19" y="1185.01" width="2.67" height="30.37" fill="#ffa234"/>
<rect x="620.19" y="1174.49" width="2.67" height="10.51" fill="#bd4a4e"/>
<rect x="623.53" y="1215.82" width="2.67" height="252.58" fill="#4ca04c"/>
<rect x="623.53" y="1184.63" width="2.67" height="31.20" fill="#ffa234"/>
<rect x="623.53" y="1174.23" width="2.67" height="10.39" fill="#bd4a4e"/>
<rect x="626.86" y="1215.89" width="2.67" height="252.51" fill="#4ca04c"/>
<rect x="626.86" y="1184.67" width="2.67" height="31.22" fill="#ffa234"/>
<rect x="626.86" y="1174.93" width="2.67" height="9.74" fill="#bd4a4e"/>
<rect x="630.20" y="1214.55" width="2.67" height="253.85" fill="#4ca04c"/>
<rect x="630.20" y="1185.16" width="2.67" height="29.39" fill="#ffa234"/>
<rect x="630.20" y="1174.83" width="2.67" height="10.33" fill="#bd4a4e"/>
<rect x="633.54" y="1215.18" width="2.67" height="253.22" fill="#4ca04c"/>
<rect x="633.54" y="1184.89" width="2.67" height="30.29" fill="#ffa234"/>
<rect x="633.54" y="1174.19" width="2.67" height="10.70" fill="#bd4a4e"/>
<rect x="636.87" y="1215.88" width="2.67" height="252.52" fill="#4ca04c"/>
<rect x="636.87" y="1184.48" width="2.67" height="31.40" fill="#ffa234"/>
<rect x="636.87" y="1174.37" width="2.67" height="10.11" fill="#bd4a4e"/>
<rect x="640.21" y="1215.43" width="2.67" height="252.97" fill="#4ca04c"/>
<rect x="640.21" y="1184.23" width="2.67" height="31.20" fill="#ffa234"/>
<rect x="640.21" y="1174.96" width="2.67" height="9.27" fill="#bd4a4e"/>
<rect x="643.55" y="1215.23" width="2.67" height="253.17" fill="#4ca04c"/>
<rect x="643.55" y="1184.82" width="2.67" height="30.41" fill="#ffa234"/>
<rect x="643.55" y="1175.52" width="2.67" height="9.30" fill="#bd4a4e"/>
<rect x="646.88" y="1215.62" width="2.67" height="252.78" fill="#4ca04c"/>
<rect x="646.88" y="1184.98" width="2.67" height="30.64" fill="#ffa234"/>
<rect x="646.88" y="1174.64" width="2.67" height="10.33" fill="#bd4a4e"/>
<rect x="650.22" y="1215.11" width="2.67" height="253.29" fill="#4ca04c"/>
<rect x="650.22" y="1184.29" width="2.67" height="30.82" fill="#ffa234"/>
<rect x="650.22" y="1175.40" width="2.67" height="8.90" fill="#bd4a4e"/>
<rect x="653.56" y="1214.71" width="2.67" height="253.69" fill="#4ca04c"/>
<rect x="653.56" y="1185.03" width="2.67" height="29.67" fill="#ffa234"/>
<rect x="653.56" y="1175.67" width="2.67" height="9.36" fill="#bd4a4e"/>
<rect x="656.89" y="1215.53" width="2.67" height="252.87" fill="#4ca04c"/>
<rect x="656.89" y="1184.85" width="2.67" height="30.68" fill="#ffa234"/>
<rect x="656.89" y="1175.22" width="2.67" height="9.63" fill="#bd4a4e"/>
<rect x="660.23" y="1214.96" width="2.67" height="253.44" fill="#4ca04c"/>
<rect x="660.23" y="1184.35" width="2.67" height="30.61" fill="#ffa234"/>
<rect x="660.23" y="1174.20" width="2.67" height="10.15" fill="#bd4a4e"/>
<rect x="663.57" y="1215.47" width="2.67" height="252.93" fill="#4ca04c"/>
<rect x="663.57" y="1185.22" width="2.67" height="30.25" fill="#ffa234"/>
<rect x="663.57" y="1175.59" width="2.67" height="9.62" fill="#bd4a4e"/>
<rect x="666.90" y="1214.99" width="2.67" height="253.41" fill="#4ca04c"/>
<rect x="666.90" y="1184.37" width="2.67" height="30.63" fill="#ffa234"/>
<rect x="666.90" y="1175.04" width="2.67" height="9.33" fill="#bd4a4e"/>
<rect x="670.24" y="1214.86" width="2.67" height="253.54" fill="#4ca04c"/>
<rect x="670.24" y="1184.19" width="2.67" height="30.67" fill="#ffa234"/>
<rect x="670.24" y="1176.22" width="2.67" height="7.97" fill="#bd4a4e"/>
<rect x="673.58" y="1215.86" width="2.67" height="252.54" fill="#4ca04c"/>
<rect x="673.58" y="1185.22" width="2.67" height="30.65" fill="#ffa234"/>
<rect x="673.58" y="1175.13" width="2.67" height="10.09" fill="#bd4a4e"/>
<rect x="676.91" y="1215.65" width="2.67" height="252.75" fill="#4ca04c"/>
<rect x="676.91" y="1184.13" width="2.67" height="31.53" fill="#ffa234"/>
<rect x="676.91" y="1176.29" width="2.67" height="7.83" fill="#bd4a4e"/>
<rect x="680.25" y="1214.96" width="2.67" height="253.44" fill="#4ca04c"/>
<rect x="680.25" y="1184.36" width="2.67" height="30.60" fill="#ffa234"/>
<rect x="680.25" y="1174.99" width="2.67" height="9.37" fill="#bd4a4e"/>
<rect x="683.59" y="1215.03" width="2.67" height="253.37" fill="#4ca04c"/>
<rect x="683.59" y="1184.66" width="2.67" height="30.37" fill="#ffa234"/>
<rect x="683.59" y="1174.34" width="2.67" height="10.32" fill="#bd4a4e"/>
<rect x="686.92" y="1214.90" width="2.67" height="253.50" fill="#4ca04c"/>
<rect x="686.92" y="1184.70" width="2.67" height="30.21" fill="#ffa234"/>
<rect x="686.92" y="1174.95" width="2.67" height="9.74" fill="#bd4a4e"/>
<rect x="690.26" y="1215.62" width="2.67" height="252.78" fill="#4ca04c"/>
<rect x="690.26" y="1184.57" width="2.67" height="31.05" fill="#ffa234"/>
<rect x="690.26" y="1174.84" width="2.67" height="9.74" fill="#bd4a4e"/>
<rect x="693.60" y="1214.80" width="2.67" height="253.60" fill="#4ca04c"/>
<rect x="693.60" y="1185.56" width="2.67" height="29.24" fill="#ffa234"/>
<rect x="693.60" y="1175.32" width="2.67" height="10.25" fill="#bd4a4e"/>
<rect x="696.93" y="1215.88" width="2.67" height="252.52" fill="#4ca04c"/>
<rect x="696.93" y="1184.38" width="2.67" height="31.50" fill="#ffa234"/>
<rect x="696.93" y="1175.92" width="2.67" height="8.47" fill="#bd4a4e"/>
<rect x="700.27" y="1214.96" width="2.67" height="253.44" fill="#4ca04c"/>
<rect x="700.27" y="1185.10" width="2.67" height="29.87" fill="#ffa234"/>
<rect x="700.27" y="1174.34" width="2.67" height="10.76" fill="#bd4a4e"/>
<rect x="703.61" y="1214.77" width="2.67" height="253.63" fill="#4ca04c"/>
<rect x="703.61" y="1184.76" width="2.67" height="30.01" fill="#ffa234"/>
<rect x="703.61" y="1174.53" width="2.67" height="10.22" fill="#bd4a4e"/>
<rect x="706.94" y="1215.49" width="2.67" height="252.91" fill="#4ca04c"/>
<rect x="706.94" y="1185.00" width="2.67" height="30.48" fill="#ffa234"/>
<rect x="706.94" y="1175.75" width="2.67" height="9.25" fill="#bd4a4e"/>
<rect x="710.28" y="1215.30" width="2.67" height="253.10" fill="#4ca04c"/>
<rect x="710.28" y="1184.62" width="2.67" height="30.68" fill="#ffa234"/>
<rect x="710.28" y="1175.62" width="2.67" height="9.00" fill="#bd4a4e"/>
<rect x="713.62" y="1215.85" width="2.67" height="252.55" fill="#4ca04c"/>
<rect x="713.62" y="1184.75" width="2.67" height="31.11" fill="#ffa234"/>
<rect x="713.62" y="1174.29" width="2.67" height="10.45" fill="#bd4a4e"/>
<rect x="716.95" y="1215.76" width="2.67" height="252.64" fill="#4ca04c"/>
<rect x="716.95" y="1184.32" width="2.67" height="31.44" fill="#ffa234"/>
<rect x="716.95" y="1176.22" width="2.67" height="8.10" fill="#bd4a4e"/>
<rect x="720.29" y="1214.57" width="2.67" height="253.83" fill="#4ca04c"/>
<rect x="720.29" y="1184.96" width="2.67" height="29.61" fill="#ffa234"/>
<rect x="720.29" y="1175.07" width="2.67" height="9.89" fill="#bd4a4e"/>
<rect x="723.63" y="1215.36" width="2.67" height="253.04" fill="#4ca04c"/>
<rect x="723.63" y="1184.70" width="2.67" height="30.66" fill="#ffa234"/>
<rect x="723.63" y="1176.28" width="2.67" height="8.43" fill="#bd4a4e"/>
<rect x="726.96" y="1214.48" width="2.67" height="253.92" fill="#4ca04c"/>
<rect x="726.96" y="1184.91" width="2.67" height="29.57" fill="#ffa234"/>
<rect x="726.96" y="1174.28" width="2.67" height="10.62" fill="#bd4a4e"/>
<rect x="730.30" y="1215.78" width="2.67" height="252.62" fill="#4ca04c"/>
<rect x="730.30" y="1184.61" width="2.67" height="31.17" fill="#ffa234"/>
<rect x="730.30" y="1175.42" width="2.67" height="9.20" fill="#bd4a4e"/>
<rect x="733.64" y="1215.71" width="2.67" height="252.69" fill="#4ca04c"/>
<rect x="733.64" y="1185.71" width="2.67" height="30.00" fill="#ffa234"/>
<rect x="733.64" y="1175.85" width="2.67" height="9.87" fill="#bd4a4e"/>
<rect x="736.97" y="1214.92" width="2.67" height="253.48" fill="#4ca04c"/>
<rect x="736.97" y="1185.53" width="2.67" height="29.39" fill="#ffa234"/>
<rect x="736.97" y="1176.30" width="2.67" height="9.23" fill="#bd4a4e"/>
<rect x="740.31" y="1215.80" width="2.67" height="252.60" fill="#4ca04c"/>
<rect x="740.31" y="1184.22" width="2.67" height="31.59" fill="#ffa234"/>
<rect x="740.31" y="1174.22" width="2.67" height="10.00" fill="#bd4a4e"/>
<rect x="743.65" y="1215.91" width="2.67" height="252.49" fill="#4ca04c"/>
<rect x="743.65" y="1184.48" width="2.67" height="31.43" fill="#ffa234"/>
<rect x="743.65" y="1176.03" width="2.67" height="8.45" fill="#bd4a4e"/>
<rect x="746.98" y="1214.85" width="2.67" height="253.55" fill="#4ca04c"/>
<rect x="746.98" y="1185.41" width="2.67" height="29.43" fill="#ffa234"/>
<rect x="746.98" y="1175.78" width="2.67" height="9.63" fill="#bd4a4e"/>
<rect x="750.32" y="1214.79" width="2.67" height="253.61" fill="#4ca04c"/>
<rect x="750.32" y="1184.49" width="2.67" height="30.30" fill="#ffa234"/>
<rect x="750.32" y="1176.20" width="2.67" height="8.29" fill="#bd4a4e"/>
<rect x="753.66" y="1214.85" width="2.67" height="253.55" fill="#4ca04c"/>
<rect x="753.66" y="1185.59" width="2.67" height="29.26" fill="#ffa234"/>
<rect x="753.66" y="1174.46" width="2.67" height="11.13" fill="#bd4a4e"/>
<rect x="756.99" y="1214.88" width="2.67" height="253.52" fill="#4ca04c"/>
<rect x="756.99" y="1184.93" width="2.67" height="29.95" fill="#ffa234"/>
<rect x="756.99" y="1174.95" width="2.67" height="9.98" fill="#bd4a4e"/>
<rect x="760.33" y="1215.56" width="2.67" height="252.84" fill="#4ca04c"/>
<rect x="760.33" y="1184.05" width="2.67" height="31.51" fill="#ffa234"/>
<rect x="760.33" y="1174.30" width="2.67" height="9.76" fill="#bd4a4e"/>
</g>
<g stroke="#b0b0b0" stroke-opacity="0.25" stroke-width="1">
<line x1="59.5" y1="1414.50" x2="796.5" y2="1414.50"/>
<line x1="59.5" y1="1360.50" x2="796.5" y2="1360.50"/>
<line x1="59.5" y1="1306.50" x2="796.5" y2="1306.50"/>
<line x1="59.5" y1="1252.50" x2="796.5" y2="1252.50"/>
<line x1="59.5" y1="1198.50" x2="796.5" y2="1198.50"/>
</g>
<rect x="59.5" y="1144.6" width="737.0" height="323.80" fill="none" stroke="#000" stroke-width="0.72"/>
<g stroke="#000" stroke-width="0.72">
<line x1="56.37" y1="1468.40" x2="59.5" y2="1468.40"/>
<line x1="56.37" y1="1414.48" x2="59.5" y2="1414.48"/>
<line x1="56.37" y1="1360.57" x2="59.5" y2="1360.57"/>
<line x1="56.37" y1="1306.65" x2="59.5" y2="1306.65"/>
<line x1="56.37" y1="1252.73" x2="59.5" y2="1252.73"/>
<line x1="56.37" y1="1198.82" x2="59.5" y2="1198.82"/>
<line x1="56.37" y1="1144.90" x2="59.5" y2="1144.90"/>
<line x1="94.33" y1="1468.4" x2="94.33" y2="1471.53"/>
<line x1="97.67" y1="1468.4" x2="97.67" y2="1471.53"/>
<line x1="101.01" y1="1468.4" x2="101.01" y2="1471.53"/>
<line x1="104.34" y1="1468.4" x2="104.34" y2="1471.53"/>
<line x1="107.68" y1="1468.4" x2="107.68" y2="1471.53"/>
<line x1="111.02" y1="1468.4" x2="111.02" y2="1471.53"/>
<line x1="114.35" y1="1468.4" x2="114.35" y2="1471.53"/>
<line x1="117.69" y1="1468.4" x2="117.69" y2="1471.53"/>
<line x1="121.03" y1="1468.4" x2="121.03" y2="1471.53"/>
<line x1="124.36" y1="1468.4" x2="124.36" y2="1471.53"/>
<line x1="127.70" y1="1468.4" x2="127.70" y2="1471.53"/>
<line x1="131.04" y1="1468.4" x2="131.04" y2="1471.53"/>
<line x1="134.37" y1="1468.4" x2="134.37" y2="1471.53"/>
<line x1="137.71" y1="1468.4" x2="137.71" y2="1471.53"/>
<line x1="141.05" y1="1468.4" x2="141.05" y2="1471.53"/>
<line x1="144.38" y1="1468.4" x2="144.38" y2="1471.53"/>
<line x1="147.72" y1="1468.4" x2="147.72" y2="1471.53"/>
<line x1="151.06" y1="1468.4" x2="151.06" y2="1471.53"/>
<line x1="154.39" y1="1468.4" x2="154.39" y2="1471.53"/>
<line x1="157.73" y1="1468.4" x2="157.73" y2="1471.53"/>
<line x1="161.07" y1="1468.4" x2="161.07" y2="1471.53"/>
<line x1="164.40" y1="1468.4" x2="164.40" y2="1471.53"/>
<line x1="167.74" y1="1468.4" x2="167.74" y2="1471.53"/>
<line x1="171.08" y1="1468.4" x2="171.08" y2="1471.53"/>
<line x1="174.41" y1="1468.4" x2="174.41" y2="1471.53"/>
<line x1="177.75" y1="1468.4" x2="177.75" y2="1471.53"/>
<line x1="181.09" y1="1468.4" x2="181.09" y2="1471.53"/>
<line x1="184.42" y1="1468.4" x2="184.42" y2="1471.53"/>
<line x1="187.76" y1="1468.4" x2="187.76" y2="1471.53"/>
<line x1="191.10" y1="1468.4" x2="191.10" y2="1471.53"/>
<line x1="194.43" y1="1468.4" x2="194.43" y2="1471.53"/>
<line x1="197.77" y1="1468.4" x2="197.77" y2="1471.53"/>
<line x1="201.11" y1="1468.4" x2="201.11" y2="1471.53"/>
<line x1="204.44" y1="1468.4" x2="204.44" y2="1471.53"/>
<line x1="207.78" y1="1468.4" x2="207.78" y2="1471.53"/>
<line x1="211.12" y1="1468.4" x2="211.12" y2="1471.53"/>
<line x1="214.45" y1="1468.4" x2="214.45" y2="1471.53"/>
<line x1="217.79" y1="1468.4" x2="217.79" y2="1471.53"/>
<line x1="221.13" y1="1468.4" x2="221.13" y2="1471.53"/>
<line x1="224.46" y1="1468.4" x2="224.46" y2="1471.53"/>
<line x1="227.80" y1="1468.4" x2="227.80" y2="1471.53"/>
<line x1="231.14" y1="1468.4" x2="231.14" y2="1471.53"/>
<line x1="234.47" y1="1468.4" x2="234.47" y2="1471.53"/>
<line x1="237.81" y1="1468.4" x2="237.81" y2="1471.53"/>
<line x1="241.15" y1="1468.4" x2="241.15" y2="1471.53"/>
<line x1="244.48" y1="1468.4" x2="244.48" y2="1471.53"/>
<line x1="247.82" y1="1468.4" x2="247.82" y2="1471.53"/>
<line x1="251.16" y1="1468.4" x2="251.16" y2="1471.53"/>
<line x1="254.49" y1="1468.4" x2="254.49" y2="1471.53"/>
<line x1="257.83" y1="1468.4" x2="257.83" y2="1471.53"/>
<line x1="261.17" y1="1468.4" x2="261.17" y2="1471.53"/>
<line x1="264.50" y1="1468.4" x2="264.50" y2="1471.53"/>
<line x1="267.84" y1="1468.4" x2="267.84" y2="1471.53"/>
<line x1="271.18" y1="1468.4" x2="271.18" y2="1471.53"/>
<line x1="274.51" y1="1468.4" x2="274.51" y2="1471.53"/>
<line x1="277.85" y1="1468.4" x2="277.85" y2="1471.53"/>
<line x1="281.19" y1="1468.4" x2="281.19" y2="1471.53"/>
<line x1="284.52" y1="1468.4" x2="284.52" y2="1471.53"/>
<line x1="287.86" y1="1468.4" x2="287.86" y2="1471.53"/>
<line x1="291.20" y1="1468.4" x2="291.20" y2="1471.53"/>
<line x1="294.53" y1="1468.4" x2="294.53" y2="1471.53"/>
<line x1="297.87" y1="1468.4" x2="297.87" y2="1471.53"/>
<line x1="301.21" y1="1468.4" x2="301.21" y2="1471.53"/>
<line x1="304.54" y1="1468.4" x2="304.54" y2="1471.53"/>
<line x1="307.88" y1="1468.4" x2="307.88" y2="1471.53"/>
<line x1="311.22" y1="1468.4" x2="311.22" y2="1471.53"/>
<line x1="314.55" y1="1468.4" x2="314.55" y2="1471.53"/>
<line x1="317.89" y1="1468.4" x2="317.89" y2="1471.53"/>
<line x1="321.23" y1="1468.4" x2="321.23" y2="1471.53"/>
<line x1="324.56" y1="1468.4" x2="324.56" y2="1471.53"/>
<line x1="327.90" y1="1468.4" x2="327.90" y2="1471.53"/>
<line x1="331.24" y1="1468.4" x2="331.24" y2="1471.53"/>
<line x1="334.57" y1="1468.4" x2="334.57" y2="1471.53"/>
<line x1="337.91" y1="1468.4" x2="337.91" y2="1471.53"/>
<line x1="341.25" y1="1468.4" x2="341.25" y2="1471.53"/>
<line x1="344.58" y1="1468.4" x2="344.58" y2="1471.53"/>
<line x1="347.92" y1="1468.4" x2="347.92" y2="1471.53"/>
<line x1="351.26" y1="1468.4" x2="351.26" y2="1471.53"/>
<line x1="354.59" y1="1468.4" x2="354.59" y2="1471.53"/>
<line x1="357.93" y1="1468.4" x2="357.93" y2="1471.53"/>
<line x1="361.27" y1="1468.4" x2="361.27" y2="1471.53"/>
<line x1="364.60" y1="1468.4" x2="364.60" y2="1471.53"/>
<line x1="367.94" y1="1468.4" x2="367.94" y2="1471.53"/>
<line x1="371.28" y1="1468.4" x2="371.28" y2="1471.53"/>
<line x1="374.61" y1="1468.4" x2="374.61" y2="1471.53"/>
<line x1="377.95" y1="1468.4" x2="377.95" y2="1471.53"/>
<line x1="381.29" y1="1468.4" x2="381.29" y2="1471.53"/>
<line x1="384.62" y1="1468.4" x2="384.62" y2="1471.53"/>
<line x1="387.96" y1="1468.4" x2="387.96" y2="1471.53"/>
<line x1="391.30" y1="1468.4" x2="391.30" y2="1471.53"/>
<line x1="394.63" y1="1468.4" x2="394.63" y2="1471.53"/>
<line x1="397.97" y1="1468.4" x2="397.97" y2="1471.53"/>
<line x1="401.31" y1="1468.4" x2="401.31" y2="1471.53"/>
<line x1="404.64" y1="1468.4" x2="404.64" y2="1471.53"/>
<line x1="407.98" y1="1468.4" x2="407.98" y2="1471.53"/>
<line x1="411.32" y1="1468.4" x2="411.32" y2="1471.53"/>
<line x1="414.65" y1="1468.4" x2="414.65" y2="1471.53"/>
<line x1="417.99" y1="1468.4" x2="417.99" y2="1471.53"/>
<line x1="421.33" y1="1468.4" x2="421.33" y2="1471.53"/>
<line x1="424.66" y1="1468.4" x2="424.66" y2="1471.53"/>
<line x1="428.00" y1="1468.4" x2="428.00" y2="1471.53"/>
<line x1="431.34" y1="1468.4" x2="431.34" y2="1471.53"/>
<line x1="434.67" y1="1468.4" x2="434.67" y2="1471.53"/>
<line x1="438.01" y1="1468.4" x2="438.01" y2="1471.53"/>
<line x1="441.35" y1="1468.4" x2="441.35" y2="1471.53"/>
<line x1="444.68" y1="1468.4" x2="444.68" y2="1471.53"/>
<line x1="448.02" y1="1468.4" x2="448.02" y2="1471.53"/>
<line x1="451.36" y1="1468.4" x2="451.36" y2="1471.53"/>
<line x1="454.69" y1="1468.4" x2="454.69" y2="1471.53"/>
<line x1="458.03" y1="1468.4" x2="458.03" y2="1471.53"/>
<line x1="461.37" y1="1468.4" x2="461.37" y2="1471.53"/>
<line x1="464.70" y1="1468.4" x2="464.70" y2="1471.53"/>
<line x1="468.04" y1="1468.4" x2="468.04" y2="1471.53"/>
<line x1="471.38" y1="1468.4" x2="471.38" y2="1471.53"/>
<line x1="474.71" y1="1468.4" x2="474.71" y2="1471.53"/>
<line x1="478.05" y1="1468.4" x2="478.05" y2="1471.53"/>
<line x1="481.39" y1="1468.4" x2="481.39" y2="1471.53"/>
<line x1="484.72" y1="1468.4" x2="484.72" y2="1471.53"/>
<line x1="488.06" y1="1468.4" x2="488.06" y2="1471.53"/>
<line x1="491.40" y1="1468.4" x2="491.40" y2="1471.53"/>
<line x1="494.73" y1="1468.4" x2="494.73" y2="1471.53"/>
<line x1="498.07" y1="1468.4" x2="498.07" y2="1471.53"/>
<line x1="501.41" y1="1468.4" x2="501.41" y2="1471.53"/>
<line x1="504.74" y1="1468.4" x2="504.74" y2="1471.53"/>
<line x1="508.08" y1="1468.4" x2="508.08" y2="1471.53"/>
<line x1="511.42" y1="1468.4" x2="511.42" y2="1471.53"/>
<line x1="514.75" y1="1468.4" x2="514.75" y2="1471.53"/>
<line x1="518.09" y1="1468.4" x2="518.09" y2="1471.53"/>
<line x1="521.43" y1="1468.4" x2="521.43" y2="1471.53"/>
<line x1="524.76" y1="1468.4" x2="524.76" y2="1471.53"/>
<line x1="528.10" y1="1468.4" x2="528.10" y2="1471.53"/>
<line x1="531.44" y1="1468.4" x2="531.44" y2="1471.53"/>
<line x1="534.77" y1="1468.4" x2="534.77" y2="1471.53"/>
<line x1="538.11" y1="1468.4" x2="538.11" y2="1471.53"/>
<line x1="541.45" y1="1468.4" x2="541.45" y2="1471.53"/>
<line x1="544.78" y1="1468.4" x2="544.78" y2="1471.53"/>
<line x1="548.12" y1="1468.4" x2="548.12" y2="1471.53"/>
<line x1="551.46" y1="1468.4" x2="551.46" y2="1471.53"/>
<line x1="554.79" y1="1468.4" x2="554.79" y2="1471.53"/>
<line x1="558.13" y1="1468.4" x2="558.13" y2="1471.53"/>
<line x1="561.47" y1="1468.4" x2="561.47" y2="1471.53"/>
<line x1="564.80" y1="1468.4" x2="564.80" y2="1471.53"/>
<line x1="568.14" y1="1468.4" x2="568.14" y2="1471.53"/>
<line x1="571.48" y1="1468.4" x2="571.48" y2="1471.53"/>
<line x1="574.81" y1="1468.4" x2="574.81" y2="1471.53"/>
<line x1="578.15" y1="1468.4" x2="578.15" y2="1471.53"/>
<line x1="581.49" y1="1468.4" x2="581.49" y2="1471.53"/>
<line x1="584.82" y1="1468.4" x2="584.82" y2="1471.53"/>
<line x1="588.16" y1="1468.4" x2="588.16" y2="1471.53"/>
<line x1="591.50" y1="1468.4" x2="591.50" y2="1471.53"/>
<line x1="594.83" y1="1468.4" x2="594.83" y2="1471.53"/>
<line x1="598.17" y1="1468.4" x2="598.17" y2="1471.53"/>
<line x1="601.51" y1="1468.4" x2="601.51" y2="1471.53"/>
<line x1="604.84" y1="1468.4" x2="604.84" y2="1471.53"/>
<line x1="608.18" y1="1468.4" x2="608.18" y2="1471.53"/>
<line x1="611.52" y1="1468.4" x2="611.52" y2="1471.53"/>
<line x1="614.85" y1="1468.4" x2="614.85" y2="1471.53"/>
<line x1="618.19" y1="1468.4" x2="618.19" y2="1471.53"/>
<line x1="621.53" y1="1468.4" x2="621.53" y2="1471.53"/>
<line x1="624.86" y1="1468.4" x2="624.86" y2="1471.53"/>
<line x1="628.20" y1="1468.4" x2="628.20" y2="1471.53"/>
<line x1="631.54" y1="1468.4" x2="631.54" y2="1471.53"/>
<line x1="634.87" y1="1468.4" x2="634.87" y2="1471.53"/>
<line x1="638.21" y1="1468.4" x2="638.21" y2="1471.53"/>
<line x1="641.55" y1="1468.4" x2="641.55" y2="1471.53"/>
<line x1="644.88" y1="1468.4" x2="644.88" y2="1471.53"/>
<line x1="648.22" y1="1468.4" x2="648.22" y2="1471.53"/>
<line x1="651.56" y1="1468.4" x2="651.56" y2="1471.53"/>
<line x1="654.89" y1="1468.4" x2="654.89" y2="1471.53"/>
<line x1="658.23" y1="1468.4" x2="658.23" y2="1471.53"/>
<line x1="661.57" y1="1468.4" x2="661.57" y2="1471.53"/>
<line x1="664.90" y1="1468.4" x2="664.90" y2="1471.53"/>
<line x1="668.24" y1="1468.4" x2="668.24" y2="1471.53"/>
<line x1="671.58" y1="1468.4" x2="671.58" y2="1471.53"/>
<line x1="674.91" y1="1468.4" x2="674.91" y2="1471.53"/>
<line x1="678.25" y1="1468.4" x2="678.25" y2="1471.53"/>
<line x1="681.59" y1="1468.4" x2="681.59" y2="1471.53"/>
<line x1="684.92" y1="1468.4" x2="684.92" y2="1471.53"/>
<line x1="688.26" y1="1468.4" x2="688.26" y2="1471.53"/>
<line x1="691.60" y1="1468.4" x2="691.60" y2="1471.53"/>
<line x1="694.93" y1="1468.4" x2="694.93" y2="1471.53"/>
<line x1="698.27" y1="1468.4" x2="698.27" y2="1471.53"/>
<line x1="701.61" y1="1468.4" x2="701.61" y2="1471.53"/>
<line x1="704.94" y1="1468.4" x2="704.94" y2="1471.53"/>
<line x1="708.28" y1="1468.4" x2="708.28" y2="1471.53"/>
<line x1="711.62" y1="1468.4" x2="711.62" y2="1471.53"/>
<line x1="714.95" y1="1468.4" x2="714.95" y2="1471.53"/>
<line x1="718.29" y1="1468.4" x2="718.29" y2="1471.53"/>
<line x1="721.63" y1="1468.4" x2="721.63" y2="1471.53"/>
<line x1="724.96" y1="1468.4" x2="724.96" y2="1471.53"/>
<line x1="728.30" y1="1468.4" x2="728.30" y2="1471.53"/>
<line x1="731.64" y1="1468.4" x2="731.64" y2="1471.53"/>
<line x1="734.97" y1="1468.4" x2="734.97" y2="1471.53"/>
<line x1="738.31" y1="1468.4" x2="738.31" y2="1471.53"/>
<line x1="741.65" y1="1468.4" x2="741.65" y2="1471.53"/>
<line x1="744.98" y1="1468.4" x2="744.98" y2="1471.53"/>
<line x1="748.32" y1="1468.4" x2="748.32" y2="1471.53"/>
<line x1="751.66" y1="1468.4" x2="751.66" y2="1471.53"/>
<line x1="754.99" y1="1468.4" x2="754.99" y2="1471.53"/>
<line x1="758.33" y1="1468.4" x2="758.33" y2="1471.53"/>
<line x1="761.67" y1="1468.4" x2="761.67" y2="1471.53"/>
</g>
<text x="48.02" y="1471.95" font-size="9.85" textLength="5.25" lengthAdjust="spacingAndGlyphs">0</text>
<text x="25.17" y="1418.03" font-size="9.85" textLength="28.13" lengthAdjust="spacingAndGlyphs">20000</text>
<text x="25.23" y="1364.12" font-size="9.85" textLength="28.07" lengthAdjust="spacingAndGlyphs">40000</text>
<text x="25.13" y="1310.20" font-size="9.85" textLength="28.16" lengthAdjust="spacingAndGlyphs">60000</text>
<text x="25.19" y="1256.28" font-size="9.85" textLength="28.10" lengthAdjust="spacingAndGlyphs">80000</text>
<text x="19.54" y="1202.37" font-size="9.85" textLength="33.75" lengthAdjust="spacingAndGlyphs">100000</text>
<text x="19.54" y="1148.45" font-size="9.85" textLength="33.75" lengthAdjust="spacingAndGlyphs">120000</text>
<text x="333.36" y="1139.10" font-size="11.38" textLength="188.03" lengthAdjust="spacingAndGlyphs">max_locks_per_transaction = 1024</text>
<g transform="translate(14.0,1306.15) rotate(-90)">
<text x="-56.96" y="0.00" font-size="10.44" textLength="113.41" lengthAdjust="spacingAndGlyphs">Number of Wait Events</text>
</g>
<text x="92.90" y="1479.16" font-size="5.63" textLength="2.87" lengthAdjust="spacingAndGlyphs">0</text>
<text x="96.23" y="1479.16" font-size="5.63" textLength="2.74" lengthAdjust="spacingAndGlyphs">1</text>
<text x="99.62" y="1479.16" font-size="5.63" textLength="2.77" lengthAdjust="spacingAndGlyphs">2</text>
<text x="102.98" y="1479.16" font-size="5.63" textLength="2.76" lengthAdjust="spacingAndGlyphs">3</text>
<text x="106.26" y="1479.16" font-size="5.63" textLength="2.87" lengthAdjust="spacingAndGlyphs">4</text>
<text x="109.67" y="1479.16" font-size="5.63" textLength="2.71" lengthAdjust="spacingAndGlyphs">5</text>
<text x="112.85" y="1479.16" font-size="5.63" textLength="2.97" lengthAdjust="spacingAndGlyphs">6</text>
<text x="116.28" y="1479.16" font-size="5.63" textLength="2.81" lengthAdjust="spacingAndGlyphs">7</text>
<text x="119.58" y="1479.16" font-size="5.63" textLength="2.90" lengthAdjust="spacingAndGlyphs">8</text>
<text x="122.88" y="1479.16" font-size="5.63" textLength="2.97" lengthAdjust="spacingAndGlyphs">9</text>
<text x="124.61" y="1479.16" font-size="5.63" textLength="5.99" lengthAdjust="spacingAndGlyphs">10</text>
<text x="128.01" y="1479.16" font-size="5.63" textLength="5.91" lengthAdjust="spacingAndGlyphs">11</text>
<text x="131.37" y="1479.16" font-size="5.63" textLength="5.87" lengthAdjust="spacingAndGlyphs">12</text>
<text x="134.65" y="1479.16" font-size="5.63" textLength="5.95" lengthAdjust="spacingAndGlyphs">13</text>
<text x="137.93" y="1479.16" font-size="5.63" textLength="5.99" lengthAdjust="spacingAndGlyphs">14</text>
<text x="141.35" y="1479.16" font-size="5.63" textLength="5.90" lengthAdjust="spacingAndGlyphs">15</text>
<text x="144.61" y="1479.16" font-size="5.63" textLength="6.04" lengthAdjust="spacingAndGlyphs">16</text>
<text x="148.01" y="1479.16" font-size="5.63" textLength="5.96" lengthAdjust="spacingAndGlyphs">17</text>
<text x="151.30" y="1479.16" font-size="5.63" textLength="6.01" lengthAdjust="spacingAndGlyphs">18</text>
<text x="154.64" y="1479.16" font-size="5.63" textLength="6.02" lengthAdjust="spacingAndGlyphs">19</text>
<text x="158.02" y="1479.16" font-size="5.63" textLength="6.04" lengthAdjust="spacingAndGlyphs">20</text>
<text x="161.42" y="1479.16" font-size="5.63" textLength="5.95" lengthAdjust="spacingAndGlyphs">21</text>
<text x="164.78" y="1479.16" font-size="5.63" textLength="5.92" lengthAdjust="spacingAndGlyphs">22</text>
<text x="168.07" y="1479.16" font-size="5.63" textLength="5.99" lengthAdjust="spacingAndGlyphs">23</text>
<text x="171.34" y="1479.16" font-size="5.63" textLength="6.03" lengthAdjust="spacingAndGlyphs">24</text>
<text x="174.76" y="1479.16" font-size="5.63" textLength="5.94" lengthAdjust="spacingAndGlyphs">25</text>
<text x="178.03" y="1479.16" font-size="5.63" textLength="6.08" lengthAdjust="spacingAndGlyphs">26</text>
<text x="181.42" y="1479.16" font-size="5.63" textLength="6.00" lengthAdjust="spacingAndGlyphs">27</text>
<text x="184.72" y="1479.16" font-size="5.63" textLength="6.05" lengthAdjust="spacingAndGlyphs">28</text>
<text x="188.06" y="1479.16" font-size="5.63" textLength="6.06" lengthAdjust="spacingAndGlyphs">29</text>
<text x="191.46" y="1479.16" font-size="5.63" textLength="5.95" lengthAdjust="spacingAndGlyphs">30</text>
<text x="194.87" y="1479.16" font-size="5.63" textLength="5.87" lengthAdjust="spacingAndGlyphs">31</text>
<text x="198.22" y="1479.16" font-size="5.63" textLength="5.83" lengthAdjust="spacingAndGlyphs">32</text>
<text x="201.51" y="1479.16" font-size="5.63" textLength="5.90" lengthAdjust="spacingAndGlyphs">33</text>
<text x="204.78" y="1479.16" font-size="5.63" textLength="5.95" lengthAdjust="spacingAndGlyphs">34</text>
<text x="208.20" y="1479.16" font-size="5.63" textLength="5.86" lengthAdjust="spacingAndGlyphs">35</text>
<text x="211.47" y="1479.16" font-size="5.63" textLength="6.00" lengthAdjust="spacingAndGlyphs">36</text>
<text x="214.87" y="1479.16" font-size="5.63" textLength="5.91" lengthAdjust="spacingAndGlyphs">37</text>
<text x="218.16" y="1479.16" font-size="5.63" textLength="5.96" lengthAdjust="spacingAndGlyphs">38</text>
<text x="221.50" y="1479.16" font-size="5.63" textLength="5.98" lengthAdjust="spacingAndGlyphs">39</text>
<text x="224.84" y="1479.16" font-size="5.63" textLength="6.00" lengthAdjust="spacingAndGlyphs">40</text>
<text x="228.24" y="1479.16" font-size="5.63" textLength="5.93" lengthAdjust="spacingAndGlyphs">41</text>
<text x="231.60" y="1479.16" font-size="5.63" textLength="5.89" lengthAdjust="spacingAndGlyphs">42</text>
<text x="234.89" y="1479.16" font-size="5.63" textLength="5.96" lengthAdjust="spacingAndGlyphs">43</text>
<text x="238.16" y="1479.16" font-size="5.63" textLength="6.00" lengthAdjust="spacingAndGlyphs">44</text>
<text x="241.58" y="1479.16" font-size="5.63" textLength="5.91" lengthAdjust="spacingAndGlyphs">45</text>
<text x="244.85" y="1479.16" font-size="5.63" textLength="6.05" lengthAdjust="spacingAndGlyphs">46</text>
<text x="248.25" y="1479.16" font-size="5.63" textLength="5.97" lengthAdjust="spacingAndGlyphs">47</text>
<text x="251.54" y="1479.16" font-size="5.63" textLength="6.02" lengthAdjust="spacingAndGlyphs">48</text>
<text x="254.88" y="1479.16" font-size="5.63" textLength="6.03" lengthAdjust="spacingAndGlyphs">49</text>
<text x="258.19" y="1479.16" font-size="5.63" textLength="5.96" lengthAdjust="spacingAndGlyphs">50</text>
<text x="261.59" y="1479.16" font-size="5.63" textLength="5.87" lengthAdjust="spacingAndGlyphs">51</text>
<text x="264.95" y="1479.16" font-size="5.63" textLength="5.84" lengthAdjust="spacingAndGlyphs">52</text>
<text x="268.23" y="1479.16" font-size="5.63" textLength="5.91" lengthAdjust="spacingAndGlyphs">53</text>
<text x="271.51" y="1479.16" font-size="5.63" textLength="5.95" lengthAdjust="spacingAndGlyphs">54</text>
<text x="274.93" y="1479.16" font-size="5.63" textLength="5.86" lengthAdjust="spacingAndGlyphs">55</text>
<text x="278.20" y="1479.16" font-size="5.63" textLength="6.00" lengthAdjust="spacingAndGlyphs">56</text>
<text x="281.59" y="1479.16" font-size="5.63" textLength="5.92" lengthAdjust="spacingAndGlyphs">57</text>
<text x="284.88" y="1479.16" font-size="5.63" textLength="5.97" lengthAdjust="spacingAndGlyphs">58</text>
<text x="288.23" y="1479.16" font-size="5.63" textLength="5.98" lengthAdjust="spacingAndGlyphs">59</text>
<text x="291.47" y="1479.16" font-size="5.63" textLength="6.06" lengthAdjust="spacingAndGlyphs">60</text>
<text x="294.88" y="1479.16" font-size="5.63" textLength="5.98" lengthAdjust="spacingAndGlyphs">61</text>
<text x="298.23" y="1479.16" font-size="5.63" textLength="5.94" lengthAdjust="spacingAndGlyphs">62</text>
<text x="301.52" y="1479.16" font-size="5.63" textLength="6.01" lengthAdjust="spacingAndGlyphs">63</text>
<text x="304.80" y="1479.16" font-size="5.63" textLength="6.05" lengthAdjust="spacingAndGlyphs">64</text>
<text x="308.21" y="1479.16" font-size="5.63" textLength="5.96" lengthAdjust="spacingAndGlyphs">65</text>
<text x="311.48" y="1479.16" font-size="5.63" textLength="6.10" lengthAdjust="spacingAndGlyphs">66</text>
<text x="314.88" y="1479.16" font-size="5.63" textLength="6.02" lengthAdjust="spacingAndGlyphs">67</text>
<text x="318.17" y="1479.16" font-size="5.63" textLength="6.07" lengthAdjust="spacingAndGlyphs">68</text>
<text x="321.51" y="1479.16" font-size="5.63" textLength="6.09" lengthAdjust="spacingAndGlyphs">69</text>
<text x="324.87" y="1479.16" font-size="5.63" textLength="5.99" lengthAdjust="spacingAndGlyphs">70</text>
<text x="328.27" y="1479.16" font-size="5.63" textLength="5.91" lengthAdjust="spacingAndGlyphs">71</text>
<text x="331.63" y="1479.16" font-size="5.63" textLength="5.88" lengthAdjust="spacingAndGlyphs">72</text>
<text x="334.92" y="1479.16" font-size="5.63" textLength="5.95" lengthAdjust="spacingAndGlyphs">73</text>
<text x="338.19" y="1479.16" font-size="5.63" textLength="5.99" lengthAdjust="spacingAndGlyphs">74</text>
<text x="341.61" y="1479.16" font-size="5.63" textLength="5.90" lengthAdjust="spacingAndGlyphs">75</text>
<text x="344.88" y="1479.16" font-size="5.63" textLength="6.04" lengthAdjust="spacingAndGlyphs">76</text>
<text x="348.28" y="1479.16" font-size="5.63" textLength="5.96" lengthAdjust="spacingAndGlyphs">77</text>
<text x="351.57" y="1479.16" font-size="5.63" textLength="6.01" lengthAdjust="spacingAndGlyphs">78</text>
<text x="354.91" y="1479.16" font-size="5.63" textLength="6.02" lengthAdjust="spacingAndGlyphs">79</text>
<text x="358.24" y="1479.16" font-size="5.63" textLength="6.02" lengthAdjust="spacingAndGlyphs">80</text>
<text x="361.65" y="1479.16" font-size="5.63" textLength="5.94" lengthAdjust="spacingAndGlyphs">81</text>
<text x="365.00" y="1479.16" font-size="5.63" textLength="5.91" lengthAdjust="spacingAndGlyphs">82</text>
<text x="368.29" y="1479.16" font-size="5.63" textLength="5.98" lengthAdjust="spacingAndGlyphs">83</text>
<text x="371.56" y="1479.16" font-size="5.63" textLength="6.02" lengthAdjust="spacingAndGlyphs">84</text>
<text x="374.98" y="1479.16" font-size="5.63" textLength="5.93" lengthAdjust="spacingAndGlyphs">85</text>
<text x="378.25" y="1479.16" font-size="5.63" textLength="6.07" lengthAdjust="spacingAndGlyphs">86</text>
<text x="381.65" y="1479.16" font-size="5.63" textLength="5.99" lengthAdjust="spacingAndGlyphs">87</text>
<text x="384.94" y="1479.16" font-size="5.63" textLength="6.04" lengthAdjust="spacingAndGlyphs">88</text>
<text x="388.28" y="1479.16" font-size="5.63" textLength="6.05" lengthAdjust="spacingAndGlyphs">89</text>
<text x="391.58" y="1479.16" font-size="5.63" textLength="6.07" lengthAdjust="spacingAndGlyphs">90</text>
<text x="394.98" y="1479.16" font-size="5.63" textLength="5.99" lengthAdjust="spacingAndGlyphs">91</text>
<text x="398.34" y="1479.16" font-size="5.63" textLength="5.96" lengthAdjust="spacingAndGlyphs">92</text>
<text x="401.62" y="1479.16" font-size="5.63" textLength="6.03" lengthAdjust="spacingAndGlyphs">93</text>
<text x="404.90" y="1479.16" font-size="5.63" textLength="6.07" lengthAdjust="spacingAndGlyphs">94</text>
<text x="408.32" y="1479.16" font-size="5.63" textLength="5.98" lengthAdjust="spacingAndGlyphs">95</text>
<text x="411.59" y="1479.16" font-size="5.63" textLength="6.12" lengthAdjust="spacingAndGlyphs">96</text>
<text x="414.98" y="1479.16" font-size="5.63" textLength="6.04" lengthAdjust="spacingAndGlyphs">97</text>
<text x="418.27" y="1479.16" font-size="5.63" textLength="6.09" lengthAdjust="spacingAndGlyphs">98</text>
<text x="421.62" y="1479.16" font-size="5.63" textLength="6.10" lengthAdjust="spacingAndGlyphs">99</text>
<text x="423.34" y="1479.16" font-size="5.63" textLength="9.12" lengthAdjust="spacingAndGlyphs">100</text>
<text x="426.74" y="1479.16" font-size="5.63" textLength="9.04" lengthAdjust="spacingAndGlyphs">101</text>
<text x="430.10" y="1479.16" font-size="5.63" textLength="9.01" lengthAdjust="spacingAndGlyphs">102</text>
<text x="433.38" y="1479.16" font-size="5.63" textLength="9.08" lengthAdjust="spacingAndGlyphs">103</text>
<text x="436.66" y="1479.16" font-size="5.63" textLength="9.12" lengthAdjust="spacingAndGlyphs">104</text>
<text x="440.08" y="1479.16" font-size="5.63" textLength="9.03" lengthAdjust="spacingAndGlyphs">105</text>
<text x="443.35" y="1479.16" font-size="5.63" textLength="9.17" lengthAdjust="spacingAndGlyphs">106</text>
<text x="446.74" y="1479.16" font-size="5.63" textLength="9.08" lengthAdjust="spacingAndGlyphs">107</text>
<text x="450.04" y="1479.16" font-size="5.63" textLength="9.13" lengthAdjust="spacingAndGlyphs">108</text>
<text x="453.38" y="1479.16" font-size="5.63" textLength="9.15" lengthAdjust="spacingAndGlyphs">109</text>
<text x="456.71" y="1479.16" font-size="5.63" textLength="9.12" lengthAdjust="spacingAndGlyphs">110</text>
<text x="460.11" y="1479.16" font-size="5.63" textLength="9.04" lengthAdjust="spacingAndGlyphs">111</text>
<text x="463.47" y="1479.16" font-size="5.63" textLength="9.01" lengthAdjust="spacingAndGlyphs">112</text>
<text x="466.75" y="1479.16" font-size="5.63" textLength="9.08" lengthAdjust="spacingAndGlyphs">113</text>
<text x="470.03" y="1479.16" font-size="5.63" textLength="9.12" lengthAdjust="spacingAndGlyphs">114</text>
<text x="473.44" y="1479.16" font-size="5.63" textLength="9.03" lengthAdjust="spacingAndGlyphs">115</text>
<text x="476.72" y="1479.16" font-size="5.63" textLength="9.17" lengthAdjust="spacingAndGlyphs">116</text>
<text x="480.11" y="1479.16" font-size="5.63" textLength="9.08" lengthAdjust="spacingAndGlyphs">117</text>
<text x="483.40" y="1479.16" font-size="5.63" textLength="9.13" lengthAdjust="spacingAndGlyphs">118</text>
<text x="486.74" y="1479.16" font-size="5.63" textLength="9.15" lengthAdjust="spacingAndGlyphs">119</text>
<text x="490.07" y="1479.16" font-size="5.63" textLength="9.12" lengthAdjust="spacingAndGlyphs">120</text>
<text x="493.48" y="1479.16" font-size="5.63" textLength="9.04" lengthAdjust="spacingAndGlyphs">121</text>
<text x="496.83" y="1479.16" font-size="5.63" textLength="9.01" lengthAdjust="spacingAndGlyphs">122</text>
<text x="500.12" y="1479.16" font-size="5.63" textLength="9.08" lengthAdjust="spacingAndGlyphs">123</text>
<text x="503.39" y="1479.16" font-size="5.63" textLength="9.12" lengthAdjust="spacingAndGlyphs">124</text>
<text x="506.81" y="1479.16" font-size="5.63" textLength="9.03" lengthAdjust="spacingAndGlyphs">125</text>
<text x="510.08" y="1479.16" font-size="5.63" textLength="9.17" lengthAdjust="spacingAndGlyphs">126</text>
<text x="513.48" y="1479.16" font-size="5.63" textLength="9.08" lengthAdjust="spacingAndGlyphs">127</text>
<text x="516.77" y="1479.16" font-size="5.63" textLength="9.13" lengthAdjust="spacingAndGlyphs">128</text>
<text x="520.11" y="1479.16" font-size="5.63" textLength="9.15" lengthAdjust="spacingAndGlyphs">129</text>
<text x="523.44" y="1479.16" font-size="5.63" textLength="9.12" lengthAdjust="spacingAndGlyphs">130</text>
<text x="526.84" y="1479.16" font-size="5.63" textLength="9.04" lengthAdjust="spacingAndGlyphs">131</text>
<text x="530.20" y="1479.16" font-size="5.63" textLength="9.01" lengthAdjust="spacingAndGlyphs">132</text>
<text x="533.48" y="1479.16" font-size="5.63" textLength="9.08" lengthAdjust="spacingAndGlyphs">133</text>
<text x="536.76" y="1479.16" font-size="5.63" textLength="9.12" lengthAdjust="spacingAndGlyphs">134</text>
<text x="540.18" y="1479.16" font-size="5.63" textLength="9.03" lengthAdjust="spacingAndGlyphs">135</text>
<text x="543.45" y="1479.16" font-size="5.63" textLength="9.17" lengthAdjust="spacingAndGlyphs">136</text>
<text x="546.84" y="1479.16" font-size="5.63" textLength="9.08" lengthAdjust="spacingAndGlyphs">137</text>
<text x="550.14" y="1479.16" font-size="5.63" textLength="9.13" lengthAdjust="spacingAndGlyphs">138</text>
<text x="553.48" y="1479.16" font-size="5.63" textLength="9.15" lengthAdjust="spacingAndGlyphs">139</text>
<text x="556.81" y="1479.16" font-size="5.63" textLength="9.12" lengthAdjust="spacingAndGlyphs">140</text>
<text x="560.21" y="1479.16" font-size="5.63" textLength="9.04" lengthAdjust="spacingAndGlyphs">141</text>
<text x="563.57" y="1479.16" font-size="5.63" textLength="9.01" lengthAdjust="spacingAndGlyphs">142</text>
<text x="566.85" y="1479.16" font-size="5.63" textLength="9.08" lengthAdjust="spacingAndGlyphs">143</text>
<text x="570.13" y="1479.16" font-size="5.63" textLength="9.12" lengthAdjust="spacingAndGlyphs">144</text>
<text x="573.54" y="1479.16" font-size="5.63" textLength="9.03" lengthAdjust="spacingAndGlyphs">145</text>
<text x="576.81" y="1479.16" font-size="5.63" textLength="9.17" lengthAdjust="spacingAndGlyphs">146</text>
<text x="580.21" y="1479.16" font-size="5.63" textLength="9.08" lengthAdjust="spacingAndGlyphs">147</text>
<text x="583.50" y="1479.16" font-size="5.63" textLength="9.13" lengthAdjust="spacingAndGlyphs">148</text>
<text x="586.84" y="1479.16" font-size="5.63" textLength="9.15" lengthAdjust="spacingAndGlyphs">149</text>
<text x="590.17" y="1479.16" font-size="5.63" textLength="9.12" lengthAdjust="spacingAndGlyphs">150</text>
<text x="593.58" y="1479.16" font-size="5.63" textLength="9.04" lengthAdjust="spacingAndGlyphs">151</text>
<text x="596.93" y="1479.16" font-size="5.63" textLength="9.01" lengthAdjust="spacingAndGlyphs">152</text>
<text x="600.22" y="1479.16" font-size="5.63" textLength="9.08" lengthAdjust="spacingAndGlyphs">153</text>
<text x="603.49" y="1479.16" font-size="5.63" textLength="9.12" lengthAdjust="spacingAndGlyphs">154</text>
<text x="606.91" y="1479.16" font-size="5.63" textLength="9.03" lengthAdjust="spacingAndGlyphs">155</text>
<text x="610.18" y="1479.16" font-size="5.63" textLength="9.17" lengthAdjust="spacingAndGlyphs">156</text>
<text x="613.58" y="1479.16" font-size="5.63" textLength="9.08" lengthAdjust="spacingAndGlyphs">157</text>
<text x="616.87" y="1479.16" font-size="5.63" textLength="9.13" lengthAdjust="spacingAndGlyphs">158</text>
<text x="620.21" y="1479.16" font-size="5.63" textLength="9.15" lengthAdjust="spacingAndGlyphs">159</text>
<text x="623.54" y="1479.16" font-size="5.63" textLength="9.12" lengthAdjust="spacingAndGlyphs">160</text>
<text x="626.94" y="1479.16" font-size="5.63" textLength="9.04" lengthAdjust="spacingAndGlyphs">161</text>
<text x="630.30" y="1479.16" font-size="5.63" textLength="9.01" lengthAdjust="spacingAndGlyphs">162</text>
<text x="633.58" y="1479.16" font-size="5.63" textLength="9.08" lengthAdjust="spacingAndGlyphs">163</text>
<text x="636.86" y="1479.16" font-size="5.63" textLength="9.12" lengthAdjust="spacingAndGlyphs">164</text>
<text x="640.28" y="1479.16" font-size="5.63" textLength="9.03" lengthAdjust="spacingAndGlyphs">165</text>
<text x="643.55" y="1479.16" font-size="5.63" textLength="9.17" lengthAdjust="spacingAndGlyphs">166</text>
<text x="646.94" y="1479.16" font-size="5.63" textLength="9.08" lengthAdjust="spacingAndGlyphs">167</text>
<text x="650.24" y="1479.16" font-size="5.63" textLength="9.13" lengthAdjust="spacingAndGlyphs">168</text>
<text x="653.58" y="1479.16" font-size="5.63" textLength="9.15" lengthAdjust="spacingAndGlyphs">169</text>
<text x="656.90" y="1479.16" font-size="5.63" textLength="9.12" lengthAdjust="spacingAndGlyphs">170</text>
<text x="660.31" y="1479.16" font-size="5.63" textLength="9.04" lengthAdjust="spacingAndGlyphs">171</text>
<text x="663.67" y="1479.16" font-size="5.63" textLength="9.01" lengthAdjust="spacingAndGlyphs">172</text>
<text x="666.95" y="1479.16" font-size="5.63" textLength="9.08" lengthAdjust="spacingAndGlyphs">173</text>
<text x="670.23" y="1479.16" font-size="5.63" textLength="9.12" lengthAdjust="spacingAndGlyphs">174</text>
<text x="673.64" y="1479.16" font-size="5.63" textLength="9.03" lengthAdjust="spacingAndGlyphs">175</text>
<text x="676.91" y="1479.16" font-size="5.63" textLength="9.17" lengthAdjust="spacingAndGlyphs">176</text>
<text x="680.31" y="1479.16" font-size="5.63" textLength="9.08" lengthAdjust="spacingAndGlyphs">177</text>
<text x="683.60" y="1479.16" font-size="5.63" textLength="9.13" lengthAdjust="spacingAndGlyphs">178</text>
<text x="686.94" y="1479.16" font-size="5.63" textLength="9.15" lengthAdjust="spacingAndGlyphs">179</text>
<text x="690.27" y="1479.16" font-size="5.63" textLength="9.12" lengthAdjust="spacingAndGlyphs">180</text>
<text x="693.68" y="1479.16" font-size="5.63" textLength="9.04" lengthAdjust="spacingAndGlyphs">181</text>
<text x="697.03" y="1479.16" font-size="5.63" textLength="9.01" lengthAdjust="spacingAndGlyphs">182</text>
<text x="700.32" y="1479.16" font-size="5.63" textLength="9.08" lengthAdjust="spacingAndGlyphs">183</text>
<text x="703.59" y="1479.16" font-size="5.63" textLength="9.12" lengthAdjust="spacingAndGlyphs">184</text>
<text x="707.01" y="1479.16" font-size="5.63" textLength="9.03" lengthAdjust="spacingAndGlyphs">185</text>
<text x="710.28" y="1479.16" font-size="5.63" textLength="9.17" lengthAdjust="spacingAndGlyphs">186</text>
<text x="713.68" y="1479.16" font-size="5.63" textLength="9.08" lengthAdjust="spacingAndGlyphs">187</text>
<text x="716.97" y="1479.16" font-size="5.63" textLength="9.13" lengthAdjust="spacingAndGlyphs">188</text>
<text x="720.31" y="1479.16" font-size="5.63" textLength="9.15" lengthAdjust="spacingAndGlyphs">189</text>
<text x="723.64" y="1479.16" font-size="5.63" textLength="9.12" lengthAdjust="spacingAndGlyphs">190</text>
<text x="727.04" y="1479.16" font-size="5.63" textLength="9.04" lengthAdjust="spacingAndGlyphs">191</text>
<text x="730.40" y="1479.16" font-size="5.63" textLength="9.01" lengthAdjust="spacingAndGlyphs">192</text>
<text x="733.68" y="1479.16" font-size="5.63" textLength="9.08" lengthAdjust="spacingAndGlyphs">193</text>
<text x="736.96" y="1479.16" font-size="5.63" textLength="9.12" lengthAdjust="spacingAndGlyphs">194</text>
<text x="740.38" y="1479.16" font-size="5.63" textLength="9.03" lengthAdjust="spacingAndGlyphs">195</text>
<text x="743.65" y="1479.16" font-size="5.63" textLength="9.17" lengthAdjust="spacingAndGlyphs">196</text>
<text x="747.04" y="1479.16" font-size="5.63" textLength="9.08" lengthAdjust="spacingAndGlyphs">197</text>
<text x="750.34" y="1479.16" font-size="5.63" textLength="9.13" lengthAdjust="spacingAndGlyphs">198</text>
<text x="753.68" y="1479.16" font-size="5.63" textLength="9.15" lengthAdjust="spacingAndGlyphs">199</text>
<text x="757.06" y="1479.16" font-size="5.63" textLength="9.16" lengthAdjust="spacingAndGlyphs">200</text>
<text x="360.84" y="1492.00" font-size="11.38" textLength="133.37" lengthAdjust="spacingAndGlyphs">Number of Extra Indexes</text>
<rect x="836.6" y="86.6" width="167.1" height="202.8" rx="1.5" ry="1.5" fill="#fff" fill-opacity="0.8" stroke="#cccccc" stroke-width="0.8"/>
<rect x="839.6" y="89.95" width="14.0" height="4.9" fill="#4ca04c" stroke="#fff" stroke-width="0.45"/>
<text x="859.34" y="94.90" font-size="7.55" textLength="17.90" lengthAdjust="spacingAndGlyphs">CPU*</text>
<rect x="839.6" y="100.51" width="14.0" height="4.9" fill="#ffa234" stroke="#fff" stroke-width="0.45"/>
<text x="859.30" y="105.46" font-size="7.55" textLength="63.64" lengthAdjust="spacingAndGlyphs">Client: ClientRead</text>
<rect x="839.6" y="111.07" width="14.0" height="4.9" fill="#bd4a4e" stroke="#fff" stroke-width="0.45"/>
<text x="859.05" y="116.02" font-size="7.55" textLength="34.82" lengthAdjust="spacingAndGlyphs">Extension</text>
<rect x="839.6" y="121.63" width="14.0" height="4.9" fill="#5a7384" stroke="#fff" stroke-width="0.45"/>
<text x="858.97" y="126.58" font-size="7.55" textLength="70.62" lengthAdjust="spacingAndGlyphs">IO: AioIoCompletion</text>
<rect x="839.6" y="132.19" width="14.0" height="4.9" fill="#6688a8" stroke="#fff" stroke-width="0.45"/>
<text x="859.00" y="137.14" font-size="7.55" textLength="58.90" lengthAdjust="spacingAndGlyphs">IO: DataFileRead</text>
<rect x="839.6" y="142.75" width="14.0" height="4.9" fill="#5f93c8" stroke="#fff" stroke-width="0.45"/>
<text x="858.99" y="147.70" font-size="7.55" textLength="74.00" lengthAdjust="spacingAndGlyphs">IO: RelationMapRead</text>
<rect x="839.6" y="153.31" width="14.0" height="4.9" fill="#4f96e0" stroke="#fff" stroke-width="0.45"/>
<text x="859.00" y="158.26" font-size="7.55" textLength="42.09" lengthAdjust="spacingAndGlyphs">IO: WalSync</text>
<rect x="839.6" y="163.87" width="14.0" height="4.9" fill="#9a50e0" stroke="#fff" stroke-width="0.45"/>
<text x="858.99" y="168.82" font-size="7.55" textLength="44.15" lengthAdjust="spacingAndGlyphs">IPC: BufferIo</text>
<rect x="839.6" y="174.43" width="14.0" height="4.9" fill="#6e4c5a" stroke="#fff" stroke-width="0.45"/>
<text x="859.06" y="179.38" font-size="7.55" textLength="81.12" lengthAdjust="spacingAndGlyphs">LWLock: BufferContent</text>
<rect x="839.6" y="184.99" width="14.0" height="4.9" fill="#7c5060" stroke="#fff" stroke-width="0.45"/>
<text x="859.06" y="189.94" font-size="7.55" textLength="83.33" lengthAdjust="spacingAndGlyphs">LWLock: BufferMapping</text>
<rect x="839.6" y="195.55" width="14.0" height="4.9" fill="#875064" stroke="#fff" stroke-width="0.45"/>
<text x="859.06" y="200.50" font-size="7.55" textLength="142.21" lengthAdjust="spacingAndGlyphs">LWLock: DynamicSharedMemoryControl</text>
<rect x="839.6" y="206.11" width="14.0" height="4.9" fill="#965468" stroke="#fff" stroke-width="0.45"/>
<text x="859.08" y="211.06" font-size="7.55" textLength="77.24" lengthAdjust="spacingAndGlyphs">LWLock: LockFastPath</text>
<rect x="839.6" y="216.67" width="14.0" height="4.9" fill="#ff2a2a" stroke="#fff" stroke-width="0.45"/>
<text x="859.07" y="221.62" font-size="7.55" textLength="78.76" lengthAdjust="spacingAndGlyphs">LWLock: LockManager</text>
<rect x="839.6" y="227.23" width="14.0" height="4.9" fill="#ae5060" stroke="#fff" stroke-width="0.45"/>
<text x="859.08" y="232.18" font-size="7.55" textLength="74.52" lengthAdjust="spacingAndGlyphs">LWLock: PgStatsData</text>
<rect x="839.6" y="237.79" width="14.0" height="4.9" fill="#b84c60" stroke="#fff" stroke-width="0.45"/>
<text x="859.08" y="242.74" font-size="7.55" textLength="76.00" lengthAdjust="spacingAndGlyphs">LWLock: PgStatsHash</text>
<rect x="839.6" y="248.35" width="14.0" height="4.9" fill="#c2485c" stroke="#fff" stroke-width="0.45"/>
<text x="859.08" y="253.30" font-size="7.55" textLength="65.37" lengthAdjust="spacingAndGlyphs">LWLock: ProcArray</text>
<rect x="839.6" y="258.91" width="14.0" height="4.9" fill="#cc4458" stroke="#fff" stroke-width="0.45"/>
<text x="859.07" y="263.86" font-size="7.55" textLength="71.64" lengthAdjust="spacingAndGlyphs">LWLock: SInvalWrite</text>
<rect x="839.6" y="269.47" width="14.0" height="4.9" fill="#d63a50" stroke="#fff" stroke-width="0.45"/>
<text x="859.06" y="274.42" font-size="7.55" textLength="101.32" lengthAdjust="spacingAndGlyphs">LWLock: pg_stat_statements</text>
<rect x="839.6" y="280.03" width="14.0" height="4.9" fill="#ff6e34" stroke="#fff" stroke-width="0.45"/>
<text x="859.04" y="284.98" font-size="7.55" textLength="47.91" lengthAdjust="spacingAndGlyphs">Lock: relation</text>
</svg></body></html>
